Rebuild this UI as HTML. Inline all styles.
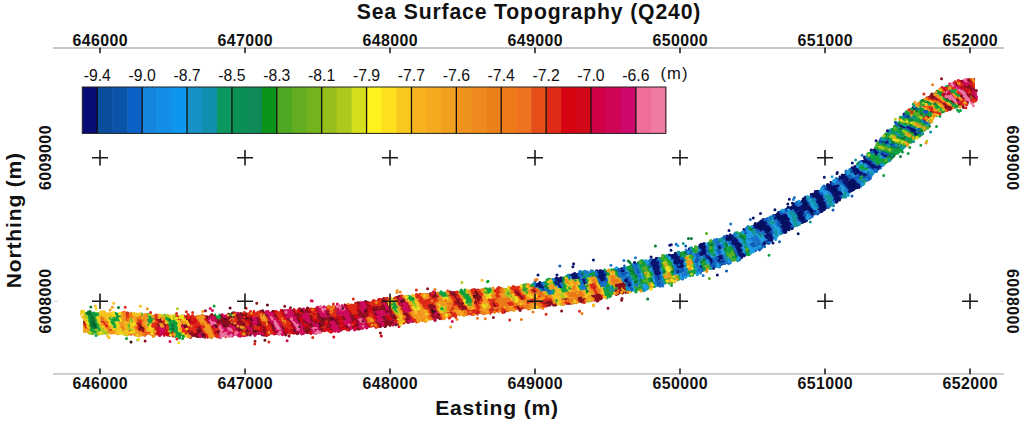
<!DOCTYPE html>
<html><head><meta charset="utf-8"><style>
html,body{margin:0;padding:0;background:#fff;width:1024px;height:428px;overflow:hidden}
svg{display:block}
text{font-family:"Liberation Sans", sans-serif}
</style></head><body>
<svg width="1024" height="428" viewBox="0 0 1024 428" font-family='"Liberation Sans", sans-serif' fill="#111">
<rect width="1024" height="428" fill="#fff"/>
<clipPath id="bc"><polygon points="83,312.3 100,312.3 130,313.3 160,315.8 190,316.3 220,315.3 250,312.3 280,311.3 300,309.3 340,305.9 360,303.3 400,297.3 430,292.8 460,290.8 490,289.3 520,286.8 550,280.3 580,272.3 600,271.3 620,268.3 640,262.3 660,257.3 680,252.3 700,246.3 720,238.3 740,232.3 760,221.3 780,211.8 800,201.3 820,189.8 840,177.3 860,163.3 880,142.3 900,119.3 920,100.3 928,96.3 935,92.3 945,87.3 957,81.3 968,78.3 975,78.3 975,98.7 968,102.7 957,107.7 945,111.7 935,114.7 928,122.7 920,135.7 900,151.7 880,168.7 860,186.7 840,199.7 820,211.7 800,223.2 780,234.7 760,248.7 740,258.7 720,265.7 700,272.7 680,278.7 660,286.2 640,290.7 620,292.7 600,299.2 580,302.7 550,304.7 520,309.7 490,312.7 460,315.2 430,320.2 400,323.7 360,328.7 340,330.4 300,333.2 280,334.2 250,334.7 220,336.7 190,336.7 160,334.7 130,334.7 100,333.7 83,332.7"/></clipPath>
<clipPath id="bc2"><rect x="80.5" y="60" width="897.5" height="300"/></clipPath>
<g clip-path="url(#bc)" fill="none" stroke-width="2.3">
<path d="M697.7 242.3L701.8 250.8M701.8 250.8L704.0 255.3M699.1 241.8L703.3 250.2M703.3 250.2L705.5 254.7M700.5 241.2L704.7 249.7M701.9 240.7L706.2 249.1M725.2 232.2L729.1 241.0M726.7 231.8L730.6 240.6M728.1 231.4L732.1 240.1M732.1 240.1L734.3 244.7M736.5 249.2L738.8 253.7M733.5 239.7L735.7 244.2M735.7 244.2L738.0 248.6M738.0 248.6L740.3 253.0M734.9 239.2L737.2 243.6M737.2 243.6L739.5 248.0M739.5 248.0L741.9 252.3M738.6 243.1L741.0 247.4M752.0 221.2L757.1 228.5M753.4 220.5L758.5 227.7M754.8 219.9L759.9 227.0M759.9 227.0L762.6 230.8M756.2 219.3L761.3 226.3M761.3 226.3L764.0 230.0M766.7 233.7L769.4 237.3M757.6 218.6L762.7 225.6M762.7 225.6L765.4 229.2M765.4 229.2L768.0 232.9M759.1 218.0L764.1 224.9M764.1 224.9L766.8 228.5M766.8 228.5L769.4 232.0M765.5 224.1L768.2 227.7M768.2 227.7L770.8 231.2M781.4 229.6L785.8 235.7M782.7 228.7L787.1 234.9M772.5 211.9L777.0 218.1M777.0 218.1L779.4 221.4M781.7 224.7L784.1 227.9M784.1 227.9L788.4 234.1M774.0 211.1L778.4 217.3M778.4 217.3L780.8 220.6M780.8 220.6L783.1 223.9M783.1 223.9L785.4 227.1M785.4 227.1L789.8 233.2M775.5 210.4L779.8 216.5M779.8 216.5L782.2 219.8M782.2 219.8L784.5 223.1M784.5 223.1L786.8 226.3M786.8 226.3L791.1 232.4M781.3 215.8L783.6 219.0M783.6 219.0L785.9 222.3M785.9 222.3L788.2 225.5M788.2 225.5L792.4 231.6M782.7 215.0L785.0 218.3M785.0 218.3L787.3 221.5M787.3 221.5L789.5 224.8M784.1 214.2L786.4 217.5M786.4 217.5L788.7 220.7M785.6 205.1L789.8 211.2M787.0 204.4L791.2 210.4M788.4 203.7L792.6 209.7M797.1 216.1L799.3 219.2M789.8 203.0L794.0 208.9M798.5 215.3L800.7 218.4M800.7 218.4L804.9 224.4M797.6 211.3L799.8 214.5M799.8 214.5L802.1 217.6M802.1 217.6L806.3 223.5M799.0 210.6L801.2 213.7M802.3 204.3L804.6 207.4M804.6 207.4L806.8 210.5M799.5 197.7L803.7 203.5M803.7 203.5L806.0 206.6M806.0 206.6L808.2 209.7M808.2 209.7L810.4 212.8M800.9 196.9L805.1 202.7M805.1 202.7L807.4 205.8M807.4 205.8L809.6 208.9M809.6 208.9L811.8 212.0M802.3 196.1L806.5 201.9M806.5 201.9L808.7 205.0M818.8 208.0L823.0 213.7M809.2 192.2L813.4 198.0M817.9 204.1L820.2 207.2M820.2 207.2L824.4 212.9M810.6 191.4L814.8 197.2M817.0 200.2L819.3 203.3M819.3 203.3L821.5 206.4M821.5 206.4L825.8 212.1M811.9 190.6L816.2 196.4M816.2 196.4L818.4 199.4M818.4 199.4L820.7 202.5M820.7 202.5L822.9 205.5M822.9 205.5L827.2 211.2M813.3 189.9L817.5 195.6M817.5 195.6L819.8 198.6M819.8 198.6L822.0 201.7M822.0 201.7L824.3 204.7M818.9 194.8L821.2 197.8M821.2 197.8L823.4 200.8M833.9 198.9L838.3 204.5M835.3 198.0L839.7 203.7M825.4 182.5L829.7 188.1M829.7 188.1L832.1 191.1M832.1 191.1L834.4 194.2M834.4 194.2L836.7 197.2M836.7 197.2L841.0 202.8M826.8 181.6L831.1 187.3M831.1 187.3L833.4 190.3M833.4 190.3L835.7 193.3M835.7 193.3L838.1 196.3M828.1 180.8L832.4 186.5M832.4 186.5L834.8 189.5M834.8 189.5L837.1 192.5M837.1 192.5L839.4 195.5M833.8 185.6L836.1 188.6M836.1 188.6L838.5 191.6M838.5 191.6L840.8 194.6M837.2 175.0L841.7 180.5M838.5 174.1L843.0 179.6M839.8 173.2L844.4 178.7M844.4 178.7L846.8 181.6M846.8 181.6L849.2 184.6M849.2 184.6L851.6 187.5M851.6 187.5L856.2 193.0M841.1 172.3L845.7 177.8M848.1 180.7L850.5 183.7M850.5 183.7L853.0 186.6M853.0 186.6L857.6 192.1M849.4 179.9L851.9 182.8M851.9 182.8L854.4 185.7M854.4 185.7L859.0 191.1M850.7 179.0L853.2 181.9M853.2 181.9L855.8 184.7M855.8 184.7L860.6 190.0M855.4 171.1L858.2 173.5M851.1 165.8L856.5 170.3M856.5 170.3L859.4 172.6M852.1 165.0L857.7 169.4" stroke="#061060"/>
<path d="M52.7 320.1L54.9 324.3M54.3 320.1L56.5 324.3M71.3 316.2L73.5 320.4M73.5 320.4L75.7 324.6M75.1 320.4L77.3 324.6M70.4 308.5L74.5 316.3M72.0 308.5L76.1 316.3M73.6 308.6L77.7 316.3M89.5 320.6L91.7 324.8M91.1 320.7L93.3 324.9M92.7 320.7L94.9 325.0" stroke="#06562c"/>
<path d="M533.4 279.7L539.6 287.3M535.0 279.3L541.2 287.0M541.2 287.0L544.6 291.1M536.6 278.9L542.8 286.6M542.8 286.6L546.2 290.8M557.2 283.5L560.4 288.1M552.7 274.8L558.7 283.1M558.7 283.1L562.0 287.8M554.4 274.3L560.3 282.8M555.9 273.9L561.9 282.4M557.5 273.4L563.5 282.0M567.1 270.5L573.1 279.9M568.8 269.9L574.7 279.5M570.5 269.4L576.4 279.2M572.3 268.9L578.1 278.9M574.1 268.5L579.8 278.7M581.5 278.4L584.3 284.1M583.2 278.2L586.0 283.9M595.2 266.8L599.5 276.8M599.5 276.8L601.9 281.9M596.8 266.8L601.0 276.6M601.0 276.6L603.5 281.6M598.3 266.8L602.6 276.4M602.6 276.4L605.0 281.3M599.8 266.7L604.2 276.2M604.2 276.2L606.6 281.0M601.4 266.6L605.8 275.9M618.5 263.9L622.1 272.5M620.2 263.4L623.7 272.1M627.5 281.6L629.4 286.4M629.1 281.3L630.9 286.2M633.1 259.2L636.4 268.9M648.1 255.2L651.7 265.1M651.7 265.1L653.7 270.4M653.7 270.4L655.7 275.6M649.6 254.9L653.2 264.7M653.2 264.7L655.2 270.0M655.2 270.0L657.3 275.2M657.3 275.2L659.3 280.4M651.0 254.5L654.7 264.4M654.7 264.4L656.8 269.6M656.8 269.6L658.8 274.8M652.5 254.2L656.2 264.0M656.2 264.0L658.3 269.2M658.3 269.2L660.4 274.4M653.9 253.9L657.7 263.6M657.7 263.6L659.8 268.8M655.4 253.6L659.2 263.3M667.5 251.0L671.5 260.0M669.1 250.6L673.0 259.6M670.6 250.2L674.6 259.1M674.6 259.1L676.7 263.9M676.7 263.9L678.7 268.6M672.2 249.8L676.1 258.7M676.1 258.7L678.2 263.4M678.2 263.4L680.3 268.1M673.8 249.4L677.7 258.2M677.7 258.2L679.7 262.9M679.7 262.9L681.8 267.6M679.2 257.8L681.3 262.5M681.3 262.5L683.3 267.2M680.8 257.3L682.8 262.0M686.2 245.8L690.0 254.6M687.7 245.4L691.5 254.1M698.9 251.8L701.1 256.4M700.4 251.3L702.6 255.8M705.5 254.7L707.8 259.3M710.1 263.8L714.4 272.2M704.7 249.7L707.0 254.2M707.0 254.2L709.3 258.7M709.3 258.7L711.6 263.2M711.6 263.2L715.9 271.7M710.8 258.1L713.1 262.7M703.4 240.1L707.7 248.5M716.8 255.9L719.1 260.6M718.3 255.4L720.6 260.0M719.8 254.9L722.0 259.5M721.3 254.4L723.5 259.0M718.3 244.5L720.6 249.2M723.6 232.6L727.6 241.5M730.6 240.6L732.8 245.2M734.3 244.7L736.5 249.2M738.8 253.7L743.1 261.9M729.4 231.1L733.5 239.7M740.3 253.0L744.8 261.1M741.9 252.3L746.5 260.3M736.3 238.7L738.6 243.1M740.1 242.5L742.5 246.7M740.9 226.9L745.9 234.3M742.3 226.2L747.3 233.6M750.6 221.8L755.7 229.2M763.9 240.8L769.0 247.9M758.5 227.7L761.2 231.6M763.9 235.3L766.6 239.1M765.3 234.5L768.0 238.2M768.0 238.2L773.1 245.0M764.0 230.0L766.7 233.7M769.4 237.3L774.4 244.1M768.0 232.9L770.7 236.4M770.7 236.4L775.6 243.1M769.4 232.0L772.0 235.6M760.6 217.4L765.5 224.1M762.1 216.7L767.0 223.4M767.0 223.4L769.6 226.9M769.6 226.9L772.1 230.4M780.0 230.4L784.5 236.6M780.3 225.5L782.7 228.7M779.4 221.4L781.7 224.7M776.9 209.6L781.3 215.8M789.5 224.8L793.8 230.9M788.7 220.7L790.9 224.0M785.5 213.5L787.8 216.7M787.8 216.7L790.1 220.0M784.1 205.9L788.4 212.0M799.3 219.2L803.5 225.2M794.0 208.9L796.2 212.1M796.2 212.1L798.5 215.3M791.2 202.2L795.4 208.2M795.4 208.2L797.6 211.3M792.6 201.5L796.8 207.4M796.8 207.4L799.0 210.6M801.2 213.7L803.5 216.8M803.5 216.8L807.7 222.7M798.2 206.6L800.4 209.8M800.4 209.8L802.6 212.9M799.6 205.9L801.8 209.0M801.8 209.0L804.0 212.1M801.0 205.1L803.2 208.2M803.2 208.2L805.4 211.3M810.4 212.8L814.6 218.6M811.8 212.0L816.0 217.8M808.7 205.0L811.0 208.1M811.0 208.1L813.2 211.2M817.4 208.8L821.6 214.6M815.7 201.0L817.9 204.1M814.8 197.2L817.0 200.2M824.3 204.7L828.6 210.4M814.6 189.1L818.9 194.8M823.4 200.8L825.7 203.9M820.2 193.9L822.5 197.0M822.5 197.0L824.8 200.0M832.6 199.7L836.9 205.4M822.7 184.1L827.0 189.8M824.1 183.3L828.4 189.0M828.4 189.0L830.7 192.0M830.7 192.0L833.0 195.0M833.0 195.0L835.3 198.0M838.1 196.3L842.4 202.0M835.1 184.8L837.5 187.8M839.8 190.7L842.2 193.7M836.0 175.8L840.4 181.4M841.7 180.5L844.1 183.4M844.1 183.4L846.5 186.4M846.5 186.4L849.0 189.3M849.0 189.3L853.5 194.8M843.0 179.6L845.5 182.5M845.5 182.5L847.9 185.5M847.9 185.5L850.3 188.4M850.3 188.4L854.9 193.9M845.7 177.8L848.1 180.7M842.3 171.5L847.0 176.9M847.0 176.9L849.4 179.9M852.0 178.1L854.6 180.9M854.6 180.9L857.2 183.7M857.2 183.7L862.1 188.8M853.0 172.8L855.8 175.4M849.0 167.2L854.2 172.0M854.2 172.0L857.0 174.5M850.0 166.5L855.4 171.1M858.2 173.5L861.1 175.9M859.4 172.6L862.4 174.8M857.7 169.4L860.6 171.6M860.6 171.6L863.6 173.7M863.6 173.7L866.7 175.8M853.2 164.3L858.8 168.4M864.9 172.6L867.9 174.6M858.2 160.1L864.2 163.5M867.5 165.2L870.8 167.0M870.8 167.0L874.1 168.7M859.2 159.2L865.3 162.4M865.3 162.4L868.6 164.1M868.6 164.1L872.0 165.8M872.0 165.8L875.3 167.6M875.3 167.6L881.7 170.9M860.1 158.2L866.4 161.3M866.4 161.3L869.7 163.0M869.7 163.0L873.1 164.7M873.1 164.7L876.6 166.4M876.6 166.4L883.1 169.8M861.1 157.2L867.4 160.2M867.4 160.2L870.9 161.9M870.9 161.9L874.3 163.6M877.8 165.3L884.4 168.6M862.0 156.2L868.5 159.2M867.7 150.0L874.8 152.7M874.8 152.7L878.6 154.1M882.5 155.6L886.5 157.2M868.6 149.0L875.8 151.6M875.8 151.6L879.7 153.0M883.7 154.5L887.7 156.0M869.5 148.0L876.8 150.5M876.3 140.2L884.2 142.6M877.2 139.0L885.3 141.5M885.3 141.5L889.7 142.9M899.3 126.4L904.4 128.3M909.7 130.4L914.9 132.6M890.9 122.1L900.5 125.2M900.5 125.2L905.6 127.2M905.6 127.2L910.9 129.4M910.9 129.4L916.2 131.6M906.8 126.2L912.1 128.3M912.1 128.3L917.4 130.5M898.9 113.5L908.7 117.6M900.2 112.3L909.9 116.6" stroke="#0a1470"/>
<path d="M46.4 308.2L50.5 315.9M50.5 315.9L52.7 320.1M54.9 324.3L57.1 328.4M52.1 316.0L54.3 320.1M56.5 324.3L58.7 328.4M53.7 316.0L55.9 320.1M55.9 320.1L58.1 324.3M69.7 316.2L71.9 320.4M71.9 320.4L74.1 324.5M68.8 308.5L72.9 316.3M72.9 316.3L75.1 320.4M74.5 316.3L76.7 320.4M76.7 320.4L78.9 324.6M90.1 324.8L92.2 329.1M91.7 324.8L93.8 329.1M84.6 308.7L88.9 316.5M88.9 316.5L91.1 320.7M93.3 324.9L95.5 329.2M86.2 308.7L90.5 316.5M90.5 316.5L92.7 320.7M94.9 325.0L97.1 329.3M87.8 308.7L92.1 316.5M92.1 316.5L94.3 320.7M94.3 320.7L96.5 325.0M89.4 308.7L93.7 316.5M93.7 316.5L95.9 320.8M115.1 309.1L119.3 317.2M116.7 309.1L120.9 317.3M169.9 327.6L171.9 331.6M171.5 327.7L173.5 331.7M171.2 323.8L173.1 327.8M173.1 327.8L175.1 331.8M172.7 323.8L174.7 327.8M546.2 290.8L549.5 295.1M546.0 286.0L549.3 290.2M549.5 275.7L555.6 283.8M561.9 282.4L565.1 287.2M584.3 284.1L587.1 289.7M579.7 267.5L584.9 278.1M586.6 277.9L589.2 283.5M588.9 266.9L593.2 277.4M598.8 282.4L601.3 287.6M606.0 286.5L608.6 291.2M606.6 281.0L609.1 285.7M603.0 266.5L607.4 275.6M612.1 285.0L614.5 289.5M613.3 265.1L617.2 273.7M617.2 273.7L619.3 278.2M630.1 270.5L631.9 275.4M633.8 280.5L635.6 285.5M631.7 270.0L633.5 275.1M635.3 280.2L637.2 285.3M630.0 260.2L633.3 269.6M633.3 269.6L635.1 274.7M636.9 279.9L638.7 285.0M640.0 279.2L641.9 284.5M642.0 256.7L645.6 266.6M651.0 276.8L652.9 282.0M648.7 265.8L650.6 271.1M660.7 262.9L662.9 268.0M672.1 265.3L674.2 270.0M679.3 273.8L683.2 282.6M676.9 248.5L680.8 257.3M684.4 261.6L686.4 266.2M694.5 269.1L698.4 277.8M691.5 254.1L693.5 258.8M702.3 266.5L706.4 275.1M707.7 248.5L710.0 253.1M723.6 248.1L725.8 252.8M724.5 242.4L726.7 247.1M726.1 241.9L728.2 246.6M731.3 245.7L733.4 250.3M733.4 250.3L735.6 254.9M735.6 254.9L739.7 263.5M745.0 250.9L749.8 258.6M734.5 229.6L739.0 237.6M745.5 245.3L748.1 249.3M748.1 249.3L753.0 256.8M741.8 236.4L744.3 240.5M744.3 240.5L746.9 244.5M743.1 235.8L745.7 239.8M746.4 223.9L751.5 231.4M747.8 223.2L752.9 230.6M758.4 233.1L761.1 236.9M873.7 153.8L877.5 155.3M886.5 157.2L894.1 160.3M887.7 156.0L895.5 159.1M889.0 154.9L896.9 157.9M870.4 147.0L877.9 149.4M877.9 149.4L881.9 150.8M881.9 150.8L886.0 152.2M886.0 152.2L890.2 153.7M890.2 153.7L898.3 156.7M883.1 143.8L887.5 145.1M891.8 146.6L896.3 148.2M897.5 147.1L906.3 150.5M890.8 141.7L895.3 143.3M895.3 143.3L900.0 144.9M879.1 136.7L887.4 139.1M887.4 139.1L891.9 140.6M896.4 136.0L901.2 137.8M901.2 137.8L906.1 139.7M906.1 139.7L915.6 143.9M892.7 133.3L897.5 134.9M902.4 136.7L907.4 138.7M907.4 138.7L916.9 143.0M898.6 133.8L903.6 135.7M894.8 131.0L899.8 132.7M908.4 131.4L913.7 133.7M913.7 133.7L923.6 137.9M914.9 132.6L924.9 136.7M892.0 120.8L901.6 124.1M917.4 130.5L927.4 134.2M907.5 118.7L912.8 120.9M919.2 121.8L924.4 123.5M901.4 111.2L911.2 115.6M911.2 115.6L916.4 117.7M921.5 119.5L926.4 121.1M926.9 113.9L931.2 115.3M931.2 115.3L938.6 118.1M918.9 109.4L923.6 111.2M920.3 108.4L924.8 110.1M912.8 103.7L921.6 107.3M932.4 103.7L936.3 105.9M933.8 102.7L937.6 105.1M932.4 89.6L940.1 94.3M947.8 100.8L951.6 104.3M934.1 88.5L941.6 93.6" stroke="#0b7a34"/>
<path d="M531.7 280.0L538.0 287.6M539.6 287.3L543.0 291.4M538.2 278.6L544.4 286.3M544.4 286.3L547.7 290.5M551.1 275.3L557.2 283.5M579.8 278.7L582.7 284.3M584.9 278.1L587.6 283.7M601.9 281.9L604.4 286.9M616.8 264.3L620.5 272.9M620.5 272.9L622.5 277.5M622.1 272.5L624.0 277.2M624.0 277.2L626.0 281.9M626.0 281.9L627.9 286.6M623.7 272.1L625.6 276.8M625.6 276.8L627.5 281.6M621.9 262.9L625.3 271.7M625.3 271.7L627.2 276.5M627.2 276.5L629.1 281.3M628.8 276.1L630.6 281.0M630.6 281.0L632.5 286.0M636.4 268.9L638.2 274.0M634.6 258.8L638.0 268.5M638.0 268.5L639.8 273.7M646.6 255.6L650.2 265.5M650.2 265.5L652.2 270.7M654.1 276.0L656.1 281.3M656.1 281.3L659.9 291.1M655.7 275.6L657.7 280.9M657.7 280.9L661.6 290.6M659.3 280.4L663.2 290.1M658.8 274.8L660.9 280.0M659.8 268.8L661.9 273.9M659.2 263.3L661.4 268.4M675.7 269.6L677.8 274.3M673.0 259.6L675.1 264.3M675.1 264.3L677.2 269.1M677.2 269.1L679.3 273.8M678.7 268.6L680.8 273.3M680.3 268.1L682.3 272.8M681.8 267.6L683.8 272.3M683.3 267.2L685.4 271.8M682.8 262.0L684.8 266.7M695.0 258.3L697.1 263.0M694.5 253.2L696.6 257.9M696.6 257.9L698.7 262.5M700.8 267.0L704.8 275.6M696.0 252.8L698.1 257.4M697.4 252.3L699.6 256.9M696.3 242.7L700.4 251.3M704.0 255.3L706.3 259.8M707.8 259.3L710.1 263.8M708.5 253.6L710.8 258.1M713.1 262.7L717.4 271.2M712.3 257.6L714.6 262.1M715.3 256.5L717.6 261.1M719.1 260.6L723.3 269.2M720.6 260.0L724.8 268.8M717.5 250.2L719.8 254.9M722.0 259.5L726.2 268.3M716.8 245.0L719.1 249.7M719.1 249.7L721.3 254.4M723.5 259.0L727.7 267.8M714.1 235.8L718.3 244.5M725.0 258.5L729.1 267.3M719.9 244.0L722.1 248.6M722.1 233.1L726.1 241.9M729.1 241.0L731.3 245.7M734.9 249.8L737.2 254.3M737.2 254.3L741.4 262.7M730.7 230.8L734.9 239.2M741.0 247.4L743.5 251.6M737.7 238.2L740.1 242.5M749.8 243.0L752.5 247.0M751.2 242.3L753.9 246.3M753.9 246.3L759.0 253.7M752.7 241.6L755.3 245.5M755.3 245.5L760.4 253.0M743.7 225.4L748.7 232.8M756.8 244.8L761.9 252.2M758.2 244.0L763.3 251.4M759.6 243.2L764.8 250.6M761.1 242.4L766.2 249.7M762.5 241.6L767.6 248.8M755.7 229.2L758.4 233.1M757.1 228.5L759.8 232.3M765.3 239.9L770.4 247.0M766.6 239.1L771.7 246.0M762.6 230.8L765.3 234.5M772.0 235.6L776.9 242.1M770.8 231.2L773.4 234.7M763.6 216.1L768.4 222.6M765.0 215.4L769.8 221.9M776.6 222.9L779.0 226.3M779.0 226.3L781.4 229.6M771.0 212.6L775.6 218.8M775.6 218.8L778.0 222.1M778.0 222.1L780.3 225.5M778.4 208.9L782.7 215.0M790.9 224.0L795.2 230.1M782.7 206.6L786.9 212.7M795.7 216.9L797.9 220.0M792.6 209.7L794.8 212.9M794.8 212.9L797.1 216.1M794.0 200.7L798.2 206.6M802.6 212.9L804.9 216.0M798.2 198.5L802.3 204.3M806.8 210.5L809.0 213.6M809.0 213.6L813.2 219.4M813.2 211.2L817.4 217.0M803.7 195.3L807.9 201.1M807.9 201.1L810.1 204.2M812.4 207.3L814.6 210.4M814.6 210.4L818.8 216.2M816.0 209.6L820.2 215.4M807.8 193.0L812.0 198.8M816.5 204.9L818.8 208.0M825.7 203.9L830.0 209.5M816.0 188.3L820.2 193.9M821.6 193.1L823.9 196.2M821.4 185.0L825.7 190.6M827.0 189.8L829.3 192.8M831.6 195.8L833.9 198.9M839.4 195.5L843.8 201.1M829.4 180.0L833.8 185.6M837.5 187.8L839.8 190.7M836.4 183.9L838.8 186.9M837.8 183.1L840.1 186.0M834.7 176.7L839.1 182.2M840.4 181.4L842.8 184.3M842.8 184.3L845.2 187.2M845.2 187.2L847.6 190.2M847.6 190.2L852.1 195.7M843.5 170.7L848.2 176.1M848.2 176.1L850.7 179.0M849.4 175.3L852.0 178.1M850.6 174.5L853.3 177.2M853.3 177.2L855.9 180.0M855.9 180.0L858.6 182.6M858.6 182.6L863.7 187.5M854.5 176.3L857.3 179.0M857.0 174.5L859.9 176.9M862.4 174.8L865.4 177.0M865.4 177.0L871.0 180.9M866.7 175.8L872.4 179.6M867.9 174.6L873.7 178.2M869.6 168.1L872.9 169.9M864.2 163.5L867.5 165.2M874.1 168.7L880.4 172.1M874.3 163.6L877.8 165.3M868.5 159.2L872.0 160.8M879.0 164.1L885.8 167.4M879.7 153.0L883.7 154.5M876.8 150.5L880.8 151.9M880.8 151.9L884.9 153.4M884.9 153.4L889.0 154.9M884.2 142.6L888.6 144.0M888.6 144.0L893.0 145.5M893.0 145.5L897.5 147.1M889.7 142.9L894.2 144.4M886.3 140.3L890.8 141.7M884.9 129.5L893.7 132.1M889.9 123.3L899.3 126.4M904.4 128.3L909.7 130.4M908.0 125.1L913.3 127.3M913.3 127.3L918.7 129.4M897.7 114.7L907.5 118.7M924.4 123.5L933.4 125.9M920.4 120.7L925.4 122.3M925.4 122.3L934.2 124.6M908.2 106.4L917.6 110.5M922.4 112.3L926.9 113.9M909.7 105.5L918.9 109.4M923.6 111.2L928.0 112.7M924.8 110.1L929.1 111.6" stroke="#0f5cb8"/>
<path d="M57.1 328.4L61.2 336.2M48.0 308.2L52.1 316.0M58.7 328.4L62.8 336.2M58.1 324.3L60.3 328.5M60.3 328.5L64.4 336.2M55.3 316.0L57.5 320.2M57.5 320.2L59.7 324.3M61.9 328.5L66.0 336.3M68.1 316.2L70.3 320.4M70.3 320.4L72.5 324.5M72.5 324.5L74.7 328.7M74.1 324.5L76.3 328.7M67.2 308.5L71.3 316.2M75.7 324.6L77.9 328.7M77.3 324.6L79.5 328.7M78.9 324.6L81.1 328.8M76.1 316.3L78.3 320.5M75.2 308.6L79.3 316.4M90.7 329.0L94.7 337.1M87.9 320.6L90.1 324.8M92.2 329.1L96.3 337.2M83.1 308.7L87.3 316.4M87.3 316.4L89.5 320.6M96.5 325.0L98.7 329.3M95.9 320.8L98.1 325.1M98.1 325.1L100.3 329.4M91.0 308.7L95.3 316.5M92.7 308.6L96.9 316.6M94.3 308.6L98.5 316.6M110.3 321.2L112.5 325.6M109.7 316.9L111.9 321.3M111.9 321.3L114.1 325.6M111.3 317.0L113.5 321.3M113.5 321.3L115.7 325.7M112.9 317.0L115.1 321.4M114.5 317.1L116.7 321.4M116.1 317.1L118.3 321.5M113.5 309.0L117.7 317.2M117.7 317.2L119.9 321.5M128.5 326.1L130.7 330.4M127.9 321.8L130.1 326.1M130.5 317.7L132.7 322.0M146.8 318.7L148.8 322.8M148.8 322.8L150.8 326.8M148.4 318.8L150.4 322.9M146.3 311.1L150.0 318.9M150.0 318.9L152.0 323.0M147.9 311.3L151.6 319.0M151.6 319.0L153.6 323.0M168.3 327.5L170.3 331.5M168.0 323.7L169.9 327.6M167.6 319.8L169.6 323.7M169.6 323.7L171.5 327.7M173.5 331.7L177.2 339.3M169.2 319.8L171.2 323.8M175.1 331.8L178.8 339.4M170.8 319.9L172.7 323.8M174.7 327.8L176.7 331.9M176.7 331.9L180.4 339.6M172.3 319.9L174.3 323.9M174.3 323.9L176.3 327.9M176.3 327.9L178.3 332.0M178.3 332.0L182.1 339.7M173.9 320.0L175.9 323.9M175.9 323.9L177.9 328.0M179.9 332.1L183.8 339.8M213.4 311.8L217.9 319.6M214.9 311.7L219.5 319.5M216.4 311.7L221.0 319.4M217.9 311.6L222.6 319.3M228.4 310.6L233.5 318.3M240.7 326.5L243.4 330.7M393.6 308.8L397.2 313.5M391.7 303.8L395.2 308.5M395.2 308.5L398.8 313.3M393.2 303.6L396.8 308.3M394.8 303.3L398.4 308.1M403.8 292.0L410.6 301.1M405.4 291.8L412.2 300.8M412.2 300.8L415.8 305.7M407.0 291.5L413.7 300.6M408.5 291.3L415.3 300.4M436.3 287.8L442.7 297.2M438.0 287.8L444.3 297.1M439.6 287.7L445.9 296.9M441.3 287.6L447.6 296.8M456.3 286.8L462.3 295.6M465.4 300.2L468.4 304.9M458.0 286.7L464.0 295.5M464.0 295.5L467.0 300.1M467.0 300.1L470.0 304.7M459.7 286.6L465.6 295.4M465.6 295.4L468.6 300.0M468.6 300.0L471.5 304.6M461.5 286.5L467.2 295.3M467.2 295.3L470.2 299.9M463.2 286.4L468.8 295.2M468.8 295.2L471.8 299.8M482.7 285.6L488.0 294.1M484.3 285.5L489.6 294.0M485.8 285.4L491.2 293.8M487.4 285.3L492.8 293.7M519.7 282.6L525.5 290.2M521.1 282.3L527.1 289.9M541.5 277.8L547.6 285.6M543.1 277.4L549.2 285.3M552.5 289.6L555.7 294.1M547.9 276.2L554.0 284.2M554.0 284.2L557.2 288.7M560.4 288.1L563.6 292.9M562.0 287.8L565.2 292.7M563.5 287.5L566.8 292.5M565.1 287.2L568.4 292.2M563.5 282.0L566.7 286.9M560.7 272.4L566.6 281.3M563.9 271.4L569.8 280.6M577.8 284.9L580.9 290.5M578.1 278.9L581.1 284.5M585.5 289.9L588.3 295.4M587.1 289.7L589.8 295.2M590.6 266.9L594.8 277.3M592.2 266.9L596.4 277.2M596.4 277.2L598.8 282.4M603.9 292.5L609.1 301.3M605.5 292.1L610.6 300.8M604.4 286.9L607.0 291.7M607.0 291.7L612.0 300.3M608.6 291.2L613.4 299.8M624.8 287.1L628.5 296.0M625.1 261.8L628.5 270.9M634.0 285.8L637.6 295.3M626.8 261.3L630.1 270.5M631.9 275.4L633.8 280.5M628.4 260.8L631.7 270.0M633.5 275.1L635.3 280.2M635.1 274.7L636.9 279.9M640.3 284.7L643.8 294.5M641.6 278.9L643.4 284.1M643.2 278.6L645.0 283.8M637.6 257.9L641.0 267.7M641.0 267.7L642.9 273.0M642.9 273.0L644.7 278.2M644.7 278.2L646.6 283.5M646.6 283.5L650.2 293.3M639.0 257.5L642.5 267.3M640.5 257.1L644.0 267.0M647.9 277.5L649.8 282.8M649.4 277.1L651.4 282.4M647.1 266.2L649.1 271.5M652.9 282.0L656.6 291.9M650.6 271.1L652.6 276.4M661.9 273.9L664.1 279.0M664.1 279.0L668.1 288.5M662.9 268.0L665.0 273.0M658.3 253.0L662.2 262.5M659.7 252.7L663.8 262.1M661.2 252.4L665.3 261.7M662.7 252.1L666.8 261.3M671.2 271.0L673.3 275.9M664.3 251.7L668.4 260.9M669.9 260.4L672.1 265.3M677.8 274.3L681.7 283.1M678.5 248.1L682.3 256.9M686.4 266.2L688.4 270.9M688.4 270.9L692.2 279.7M680.1 247.7L683.9 256.4M683.9 256.4L685.9 261.1M689.9 270.4L693.7 279.2M681.6 247.2L685.4 256.0M691.4 270.0L695.2 278.8M693.0 269.5L696.8 278.3M692.5 264.4L694.5 269.1M690.0 254.6L692.0 259.3M692.0 259.3L694.0 263.9M690.6 244.5L694.5 253.2M700.2 261.9L702.3 266.5M693.5 243.7L697.4 252.3M694.9 243.2L698.9 251.8M703.3 260.9L705.5 265.4M704.8 260.4L707.0 264.9M709.2 247.9L711.5 252.5M706.4 238.9L710.7 247.4M710.7 247.4L713.0 251.9M707.9 238.2L712.2 246.8M712.2 246.8L714.5 251.3M709.4 237.6L713.7 246.2M725.8 252.8L728.0 257.5M725.2 247.6L727.3 252.3M726.7 247.1L728.8 251.8M731.0 256.5L734.9 265.3M728.2 246.6L730.3 251.3M732.5 256.0L736.5 264.8M729.7 246.1L731.9 250.8M734.0 255.5L738.1 264.1M744.0 246.0L746.6 250.1M746.6 250.1L751.4 257.7M735.8 229.2L740.4 237.0M737.0 228.7L741.8 236.4M858.6 178.0L861.4 180.4M859.9 176.9L862.7 179.3M861.1 175.9L864.1 178.1M859.9 167.5L863.0 169.5M855.2 162.7L861.0 166.5M861.0 166.5L864.1 168.5M864.1 168.5L867.3 170.4M856.2 161.9L862.1 165.5M862.1 165.5L865.3 167.4M865.3 167.4L868.4 169.2M875.5 162.5L879.0 164.1M869.5 158.1L873.1 159.7M873.1 159.7L876.7 161.3M876.7 161.3L880.3 163.0M863.9 154.1L870.6 157.0M870.6 157.0L874.2 158.6M874.2 158.6L877.8 160.2M877.8 160.2L881.5 161.8M881.5 161.8L888.5 165.0M864.9 153.1L871.7 155.9M871.7 155.9L875.3 157.5M875.3 157.5L879.0 159.1M879.0 159.1L882.7 160.7M882.7 160.7L889.9 163.8M865.8 152.1L872.7 154.8M872.7 154.8L876.4 156.4M876.4 156.4L880.2 157.9M880.2 157.9L884.0 159.5M884.0 159.5L891.3 162.6M877.5 155.3L881.4 156.8M883.0 149.7L887.2 151.1M887.2 151.1L891.5 152.6M891.5 152.6L899.7 155.6M892.7 151.5L901.1 154.5M889.5 148.8L893.9 150.4M893.9 150.4L902.4 153.5M874.3 142.5L882.1 144.9M882.1 144.9L886.3 146.3M886.3 146.3L890.7 147.7M890.7 147.7L895.1 149.3M895.1 149.3L903.7 152.5M896.3 148.2L905.0 151.5M901.2 143.9L910.3 147.7M880.1 135.6L888.4 138.0M888.4 138.0L893.0 139.4M895.2 137.2L900.0 138.9M900.0 138.9L904.9 140.8M882.9 132.0L891.6 134.5M903.6 135.7L908.6 137.7M908.6 137.7L918.3 142.0M899.8 132.7L904.8 134.6M886.8 127.1L895.9 129.8M895.9 129.8L900.9 131.6M887.8 125.8L897.1 128.7M897.1 128.7L902.1 130.5M912.4 134.7L922.3 139.0M888.9 124.6L898.2 127.5M903.3 129.4L908.4 131.4M902.8 123.0L908.0 125.1M918.7 129.4L928.6 132.8M909.2 124.0L914.5 126.2M914.5 126.2L919.9 128.3M919.9 128.3L929.7 131.3M896.5 115.9L906.3 119.8M906.3 119.8L911.6 121.9M922.2 125.9L931.6 128.5M912.8 120.9L918.1 122.9M914.0 119.8L919.2 121.8M915.2 118.8L920.4 120.7M902.7 110.1L912.4 114.6M912.4 114.6L917.6 116.6M916.3 111.5L921.2 113.4M921.2 113.4L925.9 115.0M925.9 115.0L930.3 116.4M930.3 116.4L937.9 119.0M917.6 110.5L922.4 112.3M928.0 112.7L932.2 114.2M929.1 111.6L933.2 113.2M933.7 107.6L937.5 109.8M918.7 100.0L927.0 102.9M927.0 102.9L931.1 104.7M935.0 106.7L938.7 109.1M938.7 109.1L945.2 114.7M920.2 98.9L928.3 101.8M928.3 101.8L932.4 103.7M936.3 105.9L940.0 108.5M940.0 108.5L946.3 114.5M937.6 105.1L941.3 107.9M941.3 107.9L947.7 114.2M930.8 90.7L938.6 95.1M942.5 98.1L946.3 101.4M940.1 94.3L943.9 97.5M943.9 97.5L947.8 100.8M951.6 104.3L958.9 111.1M949.3 100.2L953.2 103.7M953.2 103.7L960.5 110.6M935.7 87.5L943.0 92.9M954.7 103.2L962.0 110.0M948.7 90.3L952.7 93.7M942.8 83.5L950.2 89.6M950.2 89.6L954.2 93.1M954.2 93.1L958.2 96.7M951.7 89.0L955.7 92.5M955.7 92.5L959.7 96.1M980.7 90.8L983.5 94.8M980.9 73.6L986.2 81.1M986.2 81.1L989.0 85.1M982.5 73.4L987.7 80.9M987.7 80.9L990.6 84.9M984.0 73.1L989.3 80.6M998.8 79.2L1001.6 83.2M1001.6 83.2L1004.4 87.2M1000.4 79.0L1003.2 83.0" stroke="#10a040"/>
<path d="M528.5 280.8L534.8 288.3M538.0 287.6L541.4 291.7M539.8 278.2L546.0 286.0M550.9 289.9L554.2 294.3M579.5 284.7L582.4 290.3M577.8 267.8L583.2 278.2M581.6 267.3L586.6 277.9M583.5 267.1L588.3 277.8M587.2 267.0L591.6 277.6M605.0 281.3L607.5 286.1M607.5 286.1L610.1 290.8M609.1 285.7L611.5 290.4M610.6 285.3L613.0 289.9M620.9 277.9L622.9 282.5M624.4 282.2L626.3 286.9M626.3 286.9L629.9 295.9M628.5 270.9L630.4 275.8M630.4 275.8L632.2 280.7M636.6 274.4L638.5 279.5M638.5 279.5L640.3 284.7M641.9 284.5L645.4 294.3M636.1 258.3L639.5 268.1M639.5 268.1L641.3 273.3M643.5 256.4L647.1 266.2M662.5 279.5L666.5 289.0M672.7 270.5L674.8 275.3M686.9 271.4L690.7 280.1M683.2 246.7L686.9 255.5M708.6 264.3L712.9 272.8M704.9 239.5L709.2 247.9M711.5 252.5L713.8 257.0M713.0 251.9L715.3 256.5M713.7 246.2L716.0 250.8M711.0 237.0L715.3 245.6M724.3 253.3L726.5 258.0M718.9 234.1L723.0 242.9M723.0 242.9L725.2 247.6M729.5 257.0L733.5 265.8M733.2 230.0L737.7 238.2M740.4 237.0L742.9 241.2M742.9 241.2L745.5 245.3M746.9 244.5L749.6 248.5M738.3 228.2L743.1 235.8M745.7 239.8L748.4 243.8M744.5 235.1L747.1 239.1M751.5 231.4L754.2 235.3M752.9 230.6L755.6 234.6M749.2 222.5L754.3 229.9M754.3 229.9L757.0 233.8M774.7 233.8L779.5 240.2M776.0 232.9L780.7 239.3M769.8 221.9L772.4 225.3M774.9 228.7L777.4 232.1M777.4 232.1L782.0 238.4M771.3 221.1L773.8 224.5M772.7 220.4L775.2 223.7M791.5 219.2L793.7 222.4M793.7 222.4L797.9 228.5M788.4 212.0L790.6 215.2M790.6 215.2L792.9 218.4M792.9 218.4L795.1 221.6M795.1 221.6L799.3 227.6M789.8 211.2L792.0 214.4M792.0 214.4L794.3 217.6M794.3 217.6L796.5 220.8M796.5 220.8L800.7 226.8M791.2 210.4L793.4 213.7M793.4 213.7L795.7 216.9M806.3 215.2L810.4 221.1M805.1 194.5L809.3 200.4M811.5 203.4L813.7 206.5M813.7 206.5L816.0 209.6M810.7 199.6L812.9 202.6M812.9 202.6L815.1 205.7M815.1 205.7L817.4 208.8M812.0 198.8L814.3 201.8M814.3 201.8L816.5 204.9M826.2 199.2L828.5 202.2M828.5 202.2L832.8 207.8M825.2 195.3L827.5 198.3M827.5 198.3L829.8 201.4M829.8 201.4L834.1 207.0M826.6 194.5L828.9 197.5M828.9 197.5L831.2 200.5M828.0 193.7L830.3 196.7M830.3 196.7L832.6 199.7M840.8 194.6L845.2 200.2M842.2 193.7L846.6 199.3M843.5 192.8L848.0 198.4M842.5 189.0L844.9 192.0M844.9 192.0L849.4 197.5M845.7 169.2L850.6 174.5M846.8 168.5L851.8 173.7M860.0 181.5L865.2 186.2M861.4 180.4L866.7 184.9M854.2 163.5L859.9 167.5M863.0 169.5L866.1 171.5M867.3 170.4L870.4 172.2M870.4 172.2L876.4 175.7M857.2 161.0L863.2 164.5M863.2 164.5L866.4 166.3M880.3 163.0L887.1 166.2M885.2 158.4L892.7 161.4M878.6 154.1L882.5 155.6M875.3 141.4L883.1 143.8M887.5 145.1L891.8 146.6M894.2 144.4L898.8 146.0M898.8 146.0L907.6 149.6M878.2 137.9L886.3 140.3M900.0 144.9L908.9 148.6M883.9 130.8L892.7 133.3M897.5 134.9L902.4 136.7M893.7 132.1L898.6 133.8M885.8 128.3L894.8 131.0M898.2 127.5L903.3 129.4M916.2 131.6L926.2 135.5M901.6 124.1L906.8 126.2M923.3 124.7L932.5 127.2M908.7 117.6L914.0 119.8M909.9 116.6L915.2 118.8M911.2 104.6L920.3 108.4" stroke="#11979c"/>
<path d="M530.1 280.4L536.4 288.0M547.7 290.5L551.0 294.8M549.3 290.2L552.6 294.6M555.6 283.8L558.8 288.4M560.3 282.8L563.5 287.5M559.1 272.9L565.1 281.7M565.5 270.9L571.4 280.2M581.1 284.5L584.0 290.1M582.7 284.3L585.5 289.9M575.9 268.1L581.5 278.4M585.3 267.0L590.0 277.7M593.7 266.9L597.9 277.0M597.9 277.0L600.3 282.2M600.3 282.2L602.9 287.2M603.5 281.6L606.0 286.5M605.8 275.9L608.2 280.7M615.1 264.7L618.9 273.3M618.9 273.3L620.9 277.9M622.5 277.5L624.4 282.2M627.9 286.6L631.4 295.8M629.4 286.4L632.9 295.7M630.9 286.2L634.5 295.6M626.9 271.3L628.8 276.1M631.5 259.7L634.8 269.2M634.8 269.2L636.6 274.4M638.2 274.0L640.0 279.2M639.8 273.7L641.6 278.9M645.1 256.0L648.7 265.8M654.5 281.7L658.2 291.5M652.2 270.7L654.1 276.0M660.9 280.0L664.9 289.6M656.8 253.3L660.7 262.9M674.2 270.0L676.3 274.8M673.6 264.8L675.7 269.6M680.8 273.3L684.7 282.1M682.3 272.8L686.2 281.6M683.8 272.3L687.6 281.1M675.4 249.0L679.2 257.8M685.4 271.8L689.1 280.6M682.3 256.9L684.4 261.6M684.7 246.3L688.5 255.0M695.6 263.4L697.6 268.1M697.6 268.1L701.6 276.7M697.1 263.0L699.2 267.6M699.2 267.6L703.2 276.2M698.1 257.4L700.2 261.9M699.6 256.9L701.7 261.4M702.6 255.8L704.8 260.4M706.2 249.1L708.5 253.6M714.6 262.1L718.9 270.7M713.8 257.0L716.1 261.6M717.6 261.1L721.9 269.7M716.0 250.8L718.3 255.4M715.3 245.6L717.5 250.2M712.5 236.4L716.8 245.0M720.6 249.2L722.8 253.8M722.8 253.8L725.0 258.5M715.7 235.2L719.9 244.0M726.5 258.0L730.5 266.9M721.4 243.4L723.6 248.1M732.8 245.2L734.9 249.8M732.0 230.4L736.3 238.7M748.4 243.8L751.0 247.8M751.0 247.8L756.1 255.2M739.6 227.6L744.5 235.1M752.5 247.0L757.5 254.5M750.0 237.6L752.7 241.6M751.4 236.8L754.1 240.8M754.1 240.8L756.8 244.8M752.8 236.1L755.5 240.1M755.5 240.1L758.2 244.0M754.2 235.3L756.9 239.3M756.9 239.3L759.6 243.2M755.6 234.6L758.3 238.5M758.3 238.5L761.1 242.4M759.8 232.3L762.5 236.1M761.2 231.6L763.9 235.3M772.1 230.4L774.7 233.8M768.4 222.6L771.0 226.1M771.0 226.1L773.5 229.5M766.5 214.7L771.3 221.1M778.7 231.2L783.3 237.5M775.2 223.7L777.6 227.1M769.5 213.3L774.1 219.6M774.1 219.6L776.6 222.9M781.3 207.4L785.5 213.5M797.9 220.0L802.1 226.0M804.9 216.0L809.0 221.9M795.4 200.0L799.6 205.9M804.0 212.1L806.3 215.2M796.8 199.2L801.0 205.1M805.4 211.3L807.7 214.4M810.1 204.2L812.4 207.3M813.4 198.0L815.7 201.0M824.8 200.0L827.1 203.0M817.3 187.5L821.6 193.1M829.3 192.8L831.6 195.8M830.7 179.2L835.1 184.8M838.8 186.9L841.2 189.9M839.1 182.2L841.5 185.2M846.3 191.1L850.8 196.6M857.3 179.0L860.0 181.5M847.9 167.8L853.0 172.8M855.8 175.4L858.6 178.0M861.8 170.6L864.9 172.6M866.1 171.5L869.2 173.4M866.4 166.3L869.6 168.1M872.9 169.9L879.0 173.3M881.4 156.8L885.2 158.4" stroke="#1a78cc"/>
<path d="M623.5 262.4L626.9 271.3M632.5 286.0L636.0 295.4M632.2 280.7L634.0 285.8M643.4 284.1L647.0 294.0M641.3 273.3L643.2 278.6M645.0 283.8L648.6 293.7M652.6 276.4L654.5 281.7M660.4 274.4L662.5 279.5M661.4 268.4L663.5 273.5M665.9 251.3L669.9 260.4M671.5 260.0L673.6 264.8M684.8 266.7L686.9 271.4M694.0 263.9L696.1 268.6M696.1 268.6L700.0 277.3M693.5 258.8L695.6 263.4M689.2 245.0L693.0 253.7M693.0 253.7L695.0 258.3M698.7 262.5L700.8 267.0M701.1 256.4L703.3 260.9M706.3 259.8L708.6 264.3M710.0 253.1L712.3 257.6M716.1 261.6L720.4 270.2M714.5 251.3L716.8 255.9M722.1 248.6L724.3 253.3M717.3 234.6L721.4 243.4M728.0 257.5L732.0 266.4M720.5 233.6L724.5 242.4M727.6 241.5L729.7 246.1M743.5 251.6L748.2 259.5M742.5 246.7L745.0 250.9M739.0 237.6L741.5 241.8M741.5 241.8L744.0 246.0M749.6 248.5L754.6 256.0M747.1 239.1L749.8 243.0M745.9 234.3L748.6 238.3M748.6 238.3L751.2 242.3M747.3 233.6L750.0 237.6M748.7 232.8L751.4 236.8M745.1 224.6L750.1 232.1M750.1 232.1L752.8 236.1M757.0 233.8L759.7 237.7M759.7 237.7L762.5 241.6M761.1 236.9L763.9 240.8M762.5 236.1L765.3 239.9M773.4 234.7L778.2 241.2M773.5 229.5L776.0 232.9M772.4 225.3L774.9 228.7M773.8 224.5L776.2 227.9M776.2 227.9L778.7 231.2M768.0 214.0L772.7 220.4M777.6 227.1L780.0 230.4M779.8 208.1L784.1 214.2M790.1 220.0L792.3 223.2M792.3 223.2L796.5 229.3M786.9 212.7L789.2 215.9M789.2 215.9L791.5 219.2M807.7 214.4L811.8 220.2M809.3 200.4L811.5 203.4M806.5 193.8L810.7 199.6M827.1 203.0L831.4 208.7M823.9 196.2L826.2 199.2M818.7 186.6L823.0 192.3M823.0 192.3L825.2 195.3M820.0 185.8L824.3 191.5M824.3 191.5L826.6 194.5M831.2 200.5L835.5 206.2M825.7 190.6L828.0 193.7M832.0 178.4L836.4 183.9M841.2 189.9L843.5 192.8M833.3 177.5L837.8 183.1M840.1 186.0L842.5 189.0M841.5 185.2L843.9 188.1M843.9 188.1L846.3 191.1M844.6 169.9L849.4 175.3M851.8 173.7L854.5 176.3M862.7 179.3L868.2 183.6M864.1 178.1L869.6 182.3M858.8 168.4L861.8 170.6M869.2 173.4L875.1 177.0M868.4 169.2L871.6 171.1M871.6 171.1L877.7 174.5M872.0 160.8L875.5 162.5M863.0 155.1L869.5 158.1M866.8 151.0L873.7 153.8" stroke="#1e9ee2"/>
<path d="M83.1 320.5L85.3 324.7M214.1 324.0L216.6 328.2M407.1 317.5L413.8 326.7M430.5 309.2L434.1 314.1M432.1 309.0L435.7 313.9" stroke="#3a1014"/>
<path d="M49.6 308.2L53.7 316.0M51.2 308.2L55.3 316.0M59.7 324.3L61.9 328.5M63.5 328.5L67.6 336.3M54.4 308.3L58.5 316.1M74.7 328.7L78.8 336.5M76.3 328.7L80.4 336.5M78.3 320.5L80.5 324.6M89.1 328.9L93.1 337.0M88.5 324.8L90.7 329.0M93.8 329.1L97.9 337.3M95.3 316.5L97.5 320.8M443.0 287.5L449.2 296.6M462.3 295.6L465.4 300.2M470.2 299.9L473.1 304.5M489.0 285.2L494.4 293.6M505.5 292.6L508.5 297.0M507.1 292.5L510.1 296.9M503.2 284.2L508.7 292.4M508.7 292.4L511.7 296.7M524.0 290.5L527.3 294.5M525.5 290.2L528.8 294.2M522.5 282.1L528.6 289.6M635.6 285.5L639.2 295.2M638.7 285.0L642.3 294.8M642.5 267.3L644.4 272.6M644.4 272.6L646.3 277.9M646.3 277.9L648.2 283.1M648.2 283.1L651.8 293.0M644.0 267.0L646.0 272.2M645.6 266.6L647.5 271.9M649.1 271.5L651.0 276.8M665.6 278.5L669.7 287.9M667.2 278.0L671.3 287.2M662.2 262.5L664.4 267.5M664.4 267.5L666.6 272.5M668.8 277.5L672.9 286.6M670.3 276.9L674.4 286.0M669.6 271.5L671.8 276.4M666.8 261.3L669.0 266.2M668.4 260.9L670.5 265.7M670.5 265.7L672.7 270.5M685.4 256.0L687.4 260.6M692.1 244.1L696.0 252.8M701.7 261.4L703.9 266.0M703.9 266.0L708.1 274.5M707.0 264.9L711.3 273.3M727.3 252.3L729.5 257.0M728.8 251.8L731.0 256.5M730.3 251.3L732.5 256.0M731.9 250.8L734.0 255.5M871.3 146.0L878.9 148.3M878.9 148.3L883.0 149.7M884.1 148.6L888.4 150.0M888.4 150.0L892.7 151.5M873.3 143.7L881.0 146.1M881.0 146.1L885.2 147.4M885.2 147.4L889.5 148.8M891.9 140.6L896.5 142.1M896.5 142.1L901.2 143.9M881.0 134.4L889.5 136.8M882.0 133.2L890.5 135.6M904.9 140.8L914.3 144.9M891.6 134.5L896.4 136.0M909.9 136.7L919.6 141.0M900.9 131.6L906.0 133.5M911.1 135.7L920.9 140.0M907.2 132.5L912.4 134.7M893.1 119.6L902.8 123.0M895.4 117.1L905.1 120.8M921.1 127.1L930.7 129.9M918.1 122.9L923.3 124.7M916.4 117.7L921.5 119.5M904.0 109.2L913.7 113.6M913.7 113.6L918.8 115.5M918.8 115.5L923.7 117.3M905.4 108.2L915.0 112.5M915.0 112.5L920.0 114.5" stroke="#58ad22"/>
<path d="M180.7 324.1L182.8 328.2M182.3 324.2L184.4 328.3M183.9 324.2L186.0 328.3M196.4 332.6L200.8 340.3M198.0 332.6L202.4 340.3M202.8 332.5L207.3 340.4M216.4 319.6L218.9 323.8M219.4 311.5L224.1 319.2M235.9 326.9L238.6 331.0M234.7 322.6L237.5 326.7M250.7 321.3L253.4 325.7M249.6 316.9L252.3 321.2M257.5 330.1L262.3 338.4M251.2 316.8L253.9 321.2M259.1 330.0L264.0 338.4M260.7 330.0L265.6 338.4M257.1 321.1L259.7 325.5M256.1 316.6L258.7 321.0M273.6 329.7L278.7 338.2M262.4 307.9L267.3 316.3M272.5 325.2L275.2 329.7M270.3 307.6L275.2 316.0M280.6 324.9L283.4 329.4M280.9 307.1L286.1 315.3M288.9 319.7L291.9 324.2M291.9 324.2L294.8 328.7M294.8 328.7L300.3 337.3M288.4 306.3L293.9 314.6M293.9 314.6L296.9 319.1M296.9 319.1L299.9 323.6M300.3 314.1L303.3 318.6M309.2 327.7L314.9 336.4M299.4 305.2L305.0 313.7M311.0 322.8L314.0 327.4M309.6 318.1L312.6 322.7M304.2 304.7L309.8 313.3M318.8 327.0L324.5 335.7M317.4 322.3L320.4 326.9M319.0 322.2L322.0 326.8M317.8 312.6L320.8 317.2M320.8 317.2L323.8 321.8M322.4 317.1L325.4 321.7M328.8 316.6L331.8 321.2M330.4 316.5L333.4 321.1M323.2 303.1L328.9 311.7M331.9 316.3L335.0 321.0M335.0 321.0L338.1 325.6M346.2 324.9L352.3 333.7M343.0 315.3L346.2 320.0M351.1 324.5L357.2 333.3M349.4 319.6L352.7 324.3M352.7 324.3L358.9 333.1M349.4 314.7L352.6 319.3M355.9 324.0L362.2 332.8M347.7 309.9L350.9 314.5M357.5 323.8L363.9 332.6M355.8 319.0L359.2 323.6M376.8 321.4L383.3 330.3M361.6 298.5L368.0 307.2M374.9 316.5L378.4 321.2M381.6 320.8L388.2 329.7M381.3 315.7L384.8 320.4M389.6 319.8L396.2 328.7M383.8 304.9L387.3 309.6M387.3 309.6L390.8 314.4M385.4 304.7L388.9 309.4M392.4 314.2L395.9 318.9M943.0 92.9L946.9 96.2M961.2 95.6L965.0 99.2M950.3 79.8L957.8 86.6M963.3 89.7L967.0 93.4M974.2 96.4L979.6 103.7M966.3 84.0L969.8 87.9M969.8 87.9L972.9 92.0M973.1 87.5L976.0 91.5M976.0 91.5L978.8 95.5M990.9 80.4L993.7 84.4" stroke="#600a22"/>
<path d="M137.5 322.2L139.6 326.5M139.6 326.5L141.7 330.6M139.1 322.3L141.2 326.5M141.2 326.5L143.3 330.6M152.8 330.8L156.5 338.1M154.3 330.8L158.1 338.1M155.5 327.0L157.5 330.9M156.8 323.2L158.7 327.1M158.4 323.3L160.3 327.2M158.0 319.4L160.0 323.3M159.6 319.5L161.6 323.4M161.2 319.6L163.2 323.5M163.2 323.5L165.1 327.4M165.1 327.4L167.1 331.3M164.8 323.5L166.7 327.5M168.7 331.4L172.3 339.0M170.3 331.5L173.9 339.1M180.3 320.1L182.3 324.2M188.1 332.5L192.4 340.2M185.5 324.3L187.6 328.4M189.8 332.5L194.1 340.3M191.4 332.5L195.8 340.3M182.7 312.7L186.5 320.3M193.1 332.6L197.5 340.3M184.2 312.7L188.1 320.3M188.1 320.3L190.2 324.4M194.7 332.6L199.1 340.3M185.7 312.7L189.6 320.3M195.7 328.5L198.0 332.6M197.3 328.4L199.6 332.6M196.6 324.3L198.9 328.4M198.9 328.4L201.2 332.5M198.2 324.3L200.5 328.4M200.5 328.4L202.8 332.5M206.9 319.9L209.3 324.1M204.0 312.2L208.5 319.9M210.9 324.0L213.3 328.2M213.3 328.2L215.8 332.4M217.5 332.4L222.4 340.2M214.8 319.7L217.3 323.9M211.9 311.9L216.4 319.6M217.9 319.6L220.4 323.7M219.5 319.5L222.0 323.6M222.0 323.6L224.6 327.8M221.0 319.4L223.6 323.5M223.6 323.5L226.3 327.6M222.6 319.3L225.2 323.4M225.2 323.4L227.9 327.5M224.1 319.2L226.7 323.3M226.7 323.3L229.5 327.4M225.6 319.0L228.3 323.1M228.3 323.1L231.1 327.3M227.2 318.9L229.9 323.0M229.9 323.0L232.7 327.1M231.5 322.9L234.3 327.0M225.3 311.0L230.4 318.6M233.1 322.7L235.9 326.9M226.8 310.8L231.9 318.5M237.5 326.7L240.2 330.9M239.1 326.6L241.8 330.8M241.8 330.8L246.8 338.8M229.9 310.5L235.1 318.2M237.9 322.3L240.7 326.5M243.4 330.7L248.4 338.8M236.7 318.0L239.5 322.2M239.5 322.2L242.2 326.4M245.0 330.6L249.9 338.7M233.1 310.1L238.3 317.9M238.3 317.9L241.1 322.0M241.1 322.0L243.8 326.2M246.6 330.5L251.4 338.6M234.6 310.0L239.9 317.7M239.9 317.7L242.7 321.9M242.7 321.9L245.4 326.1M245.4 326.1L248.1 330.4M248.1 330.4L252.9 338.6M241.5 317.6L244.3 321.8M249.7 330.3L254.5 338.6M243.1 317.4L245.9 321.6M251.2 330.3L256.0 338.5M239.4 309.5L244.7 317.3M244.7 317.3L247.5 321.5M252.8 330.2L257.5 338.5M246.3 317.1L249.1 321.4M249.1 321.4L251.8 325.8M251.8 325.8L254.4 330.1M254.4 330.1L259.1 338.5M247.9 317.0L250.7 321.3M255.9 330.1L260.7 338.5M259.7 325.5L262.3 330.0M262.3 330.0L267.2 338.4M258.7 321.0L261.3 325.5M261.3 325.5L263.9 329.9M263.9 329.9L268.8 338.4M257.7 316.5L260.3 321.0M262.9 325.4L265.5 329.9M259.2 308.0L264.1 316.4M271.9 329.8L277.0 338.2M260.8 308.0L265.7 316.3M268.3 320.8L270.9 325.3M270.9 325.3L273.6 329.7M267.3 316.3L269.9 320.7M281.8 329.5L287.2 337.9M275.2 316.0L277.9 320.5M283.4 329.4L288.9 337.8M271.9 307.6L276.8 315.9M279.4 320.4L282.2 324.8M282.2 324.8L285.1 329.3M291.5 328.9L297.0 337.5M279.4 307.2L284.5 315.5M284.5 315.5L287.4 319.9M293.2 328.8L298.6 337.4M302.8 328.2L308.4 336.8M290.0 306.2L295.5 314.5M295.5 314.5L298.5 319.0M298.5 319.0L301.5 323.5M301.5 323.5L304.4 328.1M304.4 328.1L310.0 336.7M297.1 314.3L300.1 318.9M306.0 328.0L311.6 336.6M298.7 314.2L301.7 318.7M301.7 318.7L304.7 323.3M307.6 327.9L313.2 336.5M303.3 318.6L306.2 323.2M307.8 323.0L310.8 327.6M297.9 305.3L303.5 313.8M309.4 322.9L312.4 327.5M308.2 313.4L311.2 318.0M311.2 318.0L314.2 322.6M305.8 304.6L311.4 313.1M317.6 317.5L320.6 322.1M320.6 322.1L323.6 326.7M316.2 312.8L319.2 317.3M319.2 317.3L322.2 322.0M322.2 322.0L325.2 326.6M313.7 303.9L319.4 312.5M328.4 326.3L334.1 335.1M324.0 317.0L327.0 321.6M327.0 321.6L330.0 326.2M325.6 316.8L328.6 321.5M328.6 321.5L331.6 326.1M327.2 316.7L330.2 321.3M327.3 311.8L330.4 316.5M338.1 325.6L344.1 334.3M333.5 316.2L336.6 320.8M336.6 320.8L339.7 325.5M335.1 316.1L338.2 320.7M336.7 315.9L339.8 320.6M335.2 311.2L338.3 315.8M341.4 320.4L344.6 325.1M344.6 325.1L350.7 333.8M339.9 315.7L343.0 320.3M332.6 302.2L338.3 310.9M341.5 315.5L344.6 320.1M354.3 324.1L360.6 333.0M341.7 301.3L347.7 309.9M350.9 314.5L354.2 319.1M354.2 319.1L357.5 323.8M352.5 314.3L355.8 319.0M357.3 313.7L360.6 318.4M358.8 313.6L362.2 318.2M365.6 322.9L372.1 331.6M357.1 308.7L360.4 313.4M360.4 313.4L363.8 318.0M363.8 318.0L367.3 322.7M358.7 308.5L362.0 313.2M362.0 313.2L365.4 317.8M363.6 312.9L367.0 317.6M355.6 299.4L361.8 308.1M357.1 299.2L363.3 307.9M364.9 307.7L368.3 312.3M375.2 321.6L381.7 330.5M366.4 307.4L369.9 312.1M363.1 298.3L369.6 307.0M373.1 311.6L376.5 316.3M364.7 298.1L371.2 306.8M372.7 306.5L376.2 311.2M383.2 320.6L389.8 329.5M374.3 306.3L377.8 311.0M384.8 320.4L391.4 329.3M375.9 306.1L379.4 310.7M382.9 315.4L386.4 320.2M386.4 320.2L393.0 329.1M377.5 305.8L381.0 310.5M384.5 315.2L388.0 320.0M388.0 320.0L394.6 328.9M379.0 305.6L382.6 310.3M380.6 305.4L384.1 310.1M382.2 305.2L385.7 309.9M389.2 314.6L392.8 319.4M390.8 314.4L394.4 319.1M394.4 319.1L401.0 328.2M388.9 309.4L392.4 314.2M380.3 295.7L386.9 304.5M386.9 304.5L390.5 309.2M394.0 313.9L397.5 318.7M381.9 295.4L388.5 304.2M403.9 317.9L410.5 327.1M403.5 312.7L407.1 317.5M401.5 307.7L405.1 312.5M405.1 312.5L408.7 317.3M399.6 302.6L403.1 307.4M406.7 312.3L410.3 317.1M410.3 317.1L417.0 326.4M394.4 293.5L401.1 302.4M396.0 293.3L402.7 302.2M397.6 293.0L404.3 302.0M407.9 306.8L411.5 311.6M399.1 292.8L405.9 301.7M405.9 301.7L409.5 306.6M431.0 314.6L437.6 323.7M428.9 309.4L432.5 314.3M432.5 314.3L439.2 323.4M426.9 304.2L430.5 309.2M428.5 304.0L432.1 309.0M435.7 313.9L442.3 322.9M430.1 303.8L433.7 308.8M437.2 313.7L443.8 322.6M431.7 303.6L435.3 308.6M435.3 308.6L438.8 313.5M426.2 288.6L433.0 298.1M427.9 288.5L434.6 297.9M429.6 288.3L436.2 297.8M431.3 288.2L437.8 297.6M449.7 311.9L456.0 320.4M451.3 311.6L457.4 320.1M454.1 301.2L457.3 305.8M446.3 287.3L452.4 296.4M455.7 301.0L458.9 305.7M447.9 287.3L454.1 296.2M454.1 296.2L457.3 300.9M457.3 300.9L460.5 305.5M460.5 305.5L463.5 310.1M449.5 287.2L455.7 296.1M455.7 296.1L458.9 300.7M458.9 300.7L462.0 305.4M462.0 305.4L465.1 310.0M451.2 287.1L457.4 295.9M457.4 295.9L460.5 300.6M463.6 305.2L466.6 309.8M473.7 294.9L476.6 299.5M475.3 294.8L478.2 299.4M471.4 286.0L476.9 294.7M476.9 294.7L479.8 299.3M473.0 286.0L478.5 294.6M478.5 294.6L481.4 299.2M492.3 303.1L495.3 307.5M491.0 298.5L493.9 303.0M493.9 303.0L496.9 307.4M516.1 305.5L522.2 313.3M517.7 305.3L523.9 313.0M515.0 291.8L518.0 296.0M516.5 291.6L519.5 295.8M519.5 295.8L522.7 300.0M518.0 291.4L521.1 295.6M521.1 295.6L524.3 299.7M531.7 288.9L535.1 293.0M541.9 301.2L548.3 309.2M533.3 288.6L536.7 292.7M543.5 301.0L549.8 309.0M545.1 300.7L551.4 308.8M546.6 300.4L552.9 308.7M548.1 300.2L554.4 308.6M549.7 299.9L555.9 308.5M551.2 299.7L557.4 308.4M562.2 298.4L568.4 308.0M563.7 298.3L569.9 307.9M565.3 298.1L571.5 307.9M566.9 297.9L573.1 307.8M576.3 296.9L582.1 307.4M577.8 296.8L583.5 307.3M579.4 296.6L585.0 307.1M580.9 296.4L586.4 306.9M591.3 295.0L596.5 304.9M592.8 294.7L598.1 304.6M594.4 294.5L599.7 304.2M596.0 294.2L601.3 303.8M592.4 283.2L594.9 288.7M597.6 293.9L602.9 303.3M599.2 293.6L604.5 302.9M600.8 293.3L606.0 302.4M614.5 289.5L618.8 297.9M615.9 289.1L620.1 297.5M617.4 288.7L621.5 297.2M616.7 283.8L618.9 288.4M618.9 288.4L622.8 296.9M618.2 283.5L620.3 288.0M620.3 288.0L624.2 296.6M619.8 283.1L621.8 287.7M621.3 282.8L623.3 287.4M622.9 282.5L624.8 287.1M923.7 117.3L928.4 118.7M924.8 116.1L929.3 117.6M930.2 110.5L934.2 112.2M924.6 95.4L932.6 98.7M932.6 98.7L936.6 101.0M944.0 106.9L950.7 113.6M926.1 94.2L934.1 97.7M934.1 97.7L938.0 100.2M938.0 100.2L941.8 103.1M941.8 103.1L945.4 106.4M945.4 106.4L952.4 113.1M927.6 93.0L935.6 96.8M943.3 102.5L947.0 105.9M947.0 105.9L954.1 112.6M948.5 105.4L955.7 112.1M945.4 96.9L949.3 100.2M950.8 99.6L954.7 103.2M957.7 102.0L964.9 108.9M940.0 85.0L947.3 91.0M955.2 97.9L959.2 101.5M963.6 99.8L970.4 106.4M945.7 82.0L953.2 88.4M959.5 86.0L963.3 89.7M967.0 93.4L970.2 97.1M962.7 85.0L966.5 88.7M957.0 77.4L964.5 84.5M964.5 84.5L968.2 88.2M971.3 92.3L974.2 96.4M968.2 83.6L971.5 87.7M965.3 75.4L971.8 83.1M976.7 82.6L979.5 86.6M972.9 74.7L978.2 82.3M981.1 86.3L983.9 90.3M979.3 73.9L984.6 81.4M991.8 89.1L994.6 93.1M993.7 84.4L996.5 88.4M998.5 83.7L1001.3 87.7M1005.7 91.4L1011.0 98.9" stroke="#8c0f1e"/>
<path d="M52.8 308.2L56.9 316.0M56.9 316.0L59.1 320.2M59.1 320.2L61.3 324.3M65.1 328.5L69.2 336.3M56.0 308.3L60.1 316.1M57.6 308.3L61.7 316.1M66.5 316.2L68.7 320.3M68.7 320.3L70.9 324.5M70.9 324.5L73.1 328.6M73.1 328.6L77.2 336.4M77.9 328.7L82.0 336.5M80.5 324.6L82.7 328.8M77.7 316.3L79.9 320.5M87.5 328.9L91.5 336.9M81.5 308.7L85.7 316.4M85.7 316.4L87.9 320.6M95.5 329.2L99.5 337.4M97.1 329.3L101.1 337.4M98.7 329.3L102.8 337.5M100.3 329.4L104.4 337.6M97.5 320.8L99.7 325.1M99.7 325.1L101.9 329.5M101.9 329.5L106.0 337.6M103.5 329.5L107.6 337.7M108.1 316.8L110.3 321.2M114.1 325.6L116.3 330.0M115.7 325.7L117.9 330.0M115.1 321.4L117.3 325.7M121.1 330.1L125.2 338.3M111.9 309.0L116.1 317.1M122.7 330.2L126.8 338.3M126.9 326.0L129.1 330.4M128.9 317.6L131.1 321.9M132.7 322.0L134.8 326.3M160.7 312.4L164.4 319.7M162.3 312.4L166.0 319.7M166.0 319.7L168.0 323.7M163.9 312.5L167.6 319.8M165.5 312.5L169.2 319.8M167.0 312.6L170.8 319.9M170.2 312.6L173.9 320.0M171.7 312.6L175.5 320.0M175.5 320.0L177.5 324.0M181.6 332.1L185.5 339.9M173.3 312.6L177.1 320.0M392.0 309.0L395.6 313.7M399.1 318.5L405.7 327.6M390.1 304.0L393.6 308.8M396.8 308.3L400.3 313.1M410.6 301.1L414.2 305.9M414.2 305.9L417.8 310.8M415.8 305.7L419.4 310.6M413.7 300.6L417.4 305.5M440.0 308.0L443.5 312.8M441.6 307.8L445.0 312.5M443.1 307.6L446.6 312.3M484.3 303.7L487.2 308.2M481.1 285.6L486.5 294.2M486.5 294.2L489.4 298.7M503.9 292.8L506.9 297.1M501.6 284.3L507.1 292.5M511.7 296.7L514.6 301.0M504.9 284.0L510.3 292.2M513.2 296.6L516.2 300.9M522.5 290.8L525.7 294.8M544.6 291.1L547.9 295.4M555.9 299.1L562.0 308.2M547.6 285.6L550.9 289.9M557.4 299.0L563.6 308.1M544.7 277.0L550.8 284.9M546.3 276.6L552.4 284.6M558.9 293.6L562.2 298.4M560.5 293.4L563.7 298.3M558.8 288.4L562.0 293.2M562.0 293.2L565.3 298.1M566.7 286.9L569.9 292.0M565.1 281.7L568.3 286.6M562.3 271.9L568.2 281.0M586.0 283.9L588.7 289.5M588.7 289.5L591.3 295.0M602.9 287.2L605.5 292.1M610.1 290.8L614.8 299.3M608.2 280.7L610.6 285.3M607.4 275.6L609.8 280.3M604.6 266.3L609.0 275.3M613.7 284.6L615.9 289.1M611.6 265.4L615.6 274.0M615.6 274.0L617.7 278.6M646.0 272.2L647.9 277.5M647.5 271.9L649.4 277.1M651.4 282.4L655.0 292.3M663.8 262.1L665.9 267.1M665.3 261.7L667.5 266.6M671.8 276.4L675.9 285.4M669.0 266.2L671.2 271.0M676.3 274.8L680.3 283.7M685.9 261.1L687.9 265.8M686.9 255.5L689.0 260.2M688.5 255.0L690.5 259.7M872.3 144.8L880.0 147.2M880.0 147.2L884.1 148.6M889.5 136.8L894.1 138.3M894.1 138.3L898.8 140.0M898.8 140.0L903.7 141.8M890.5 135.6L895.2 137.2M904.8 134.6L909.9 136.7M902.1 130.5L907.2 132.5M894.2 118.4L903.9 121.9M903.9 121.9L909.2 124.0M905.1 120.8L910.4 123.0M911.6 121.9L916.9 124.0M917.6 116.6L922.6 118.4M932.2 114.2L939.4 117.5M917.2 101.0L925.6 104.0M931.1 104.7L935.0 106.7M935.2 101.8L939.0 104.4M938.6 95.1L942.5 98.1" stroke="#b2cc1e"/>
<path d="M157.5 330.9L161.2 338.2M159.1 331.0L162.8 338.3M158.7 327.1L160.7 331.0M160.7 331.0L164.3 338.4M160.3 327.2L162.3 331.1M161.9 327.2L163.9 331.2M163.5 327.3L165.5 331.2M199.6 332.6L204.0 340.3M201.2 332.5L205.6 340.4M208.5 319.9L210.9 324.0M205.6 312.1L210.1 319.8M212.5 324.0L214.9 328.2M214.9 328.2L217.5 332.4M207.2 312.1L211.7 319.8M208.8 312.0L213.3 319.8M215.7 323.9L218.2 328.1M210.4 311.9L214.8 319.7M218.9 323.8L221.4 327.9M221.4 327.9L224.1 332.1M220.4 323.7L223.0 327.9M223.0 327.9L225.7 332.0M224.6 327.8L227.4 331.9M226.3 327.6L229.0 331.8M229.0 331.8L234.1 339.6M230.6 331.6L235.7 339.5M232.2 331.5L237.3 339.4M220.8 311.4L225.6 319.0M233.8 331.4L238.9 339.3M222.3 311.2L227.2 318.9M232.7 327.1L235.4 331.3M235.4 331.3L240.6 339.2M223.8 311.1L228.8 318.8M234.3 327.0L237.0 331.2M237.0 331.2L242.2 339.1M238.6 331.0L243.7 339.0M240.2 330.9L245.3 338.9M236.2 309.8L241.5 317.6M247.0 326.0L249.7 330.3M237.8 309.6L243.1 317.4M248.6 325.9L251.2 330.3M250.2 325.8L252.8 330.2M252.3 321.2L254.9 325.6M253.9 321.2L256.5 325.6M252.8 316.7L255.5 321.1M255.5 321.1L258.1 325.6M254.5 316.7L257.1 321.1M269.9 320.7L272.5 325.2M275.2 329.7L280.4 338.1M264.0 307.9L268.9 316.2M268.9 316.2L271.5 320.7M271.5 320.7L274.1 325.2M274.1 325.2L276.8 329.7M276.8 329.7L282.1 338.1M265.6 307.8L270.5 316.2M278.5 329.6L283.8 338.0M267.2 307.8L272.1 316.1M280.1 329.5L285.5 337.9M268.8 307.7L273.6 316.1M273.6 316.1L276.3 320.5M276.3 320.5L279.0 325.0M279.0 325.0L281.8 329.5M277.9 320.5L280.6 324.9M286.1 315.3L288.9 319.7M282.4 307.0L287.6 315.2M287.6 315.2L290.5 319.6M290.5 319.6L293.5 324.1M293.5 324.1L296.4 328.6M296.4 328.6L301.9 337.2M283.8 306.8L289.2 315.0M289.2 315.0L292.1 319.5M298.0 328.5L303.5 337.1M285.3 306.7L290.8 314.9M290.8 314.9L293.7 319.4M293.7 319.4L296.7 323.9M299.6 328.4L305.1 337.0M286.9 306.5L292.4 314.8M292.4 314.8L295.3 319.2M295.3 319.2L298.3 323.8M298.3 323.8L301.2 328.3M301.2 328.3L306.8 336.9M299.9 323.6L302.8 328.2M301.9 313.9L304.9 318.5M304.9 318.5L307.8 323.0M310.8 327.6L316.5 336.3M303.5 313.8L306.4 318.4M306.4 318.4L309.4 322.9M305.0 313.7L308.0 318.2M308.0 318.2L311.0 322.8M301.0 305.0L306.6 313.5M306.6 313.5L309.6 318.1M312.6 322.7L315.6 327.3M302.6 304.9L308.2 313.4M314.2 322.6L317.2 327.2M317.2 327.2L322.9 335.8M315.8 322.4L318.8 327.0M319.4 312.5L322.4 317.1M315.3 303.8L321.0 312.4M321.0 312.4L324.0 317.0M330.0 326.2L335.8 335.0M316.9 303.6L322.5 312.2M322.5 312.2L325.6 316.8M331.6 326.1L337.4 334.8M324.1 312.1L327.2 316.7M330.2 321.3L333.2 326.0M333.2 326.0L339.1 334.7M325.7 312.0L328.8 316.6M331.8 321.2L334.9 325.9M334.9 325.9L340.8 334.6M321.6 303.2L327.3 311.8M333.4 321.1L336.5 325.7M336.5 325.7L342.4 334.5M336.8 311.0L339.9 315.7M343.0 320.3L346.2 324.9M338.3 310.9L341.5 315.5M344.6 320.1L347.8 324.8M347.8 324.8L353.9 333.6M334.2 302.1L339.9 310.7M339.9 310.7L343.0 315.3M346.2 320.0L349.4 324.6M349.4 324.6L355.5 333.4M341.5 310.6L344.6 315.2M344.6 315.2L347.8 319.8M347.8 319.8L351.1 324.5M343.0 310.4L346.2 315.0M346.2 315.0L349.4 319.6M344.6 310.2L347.8 314.8M347.8 314.8L351.0 319.5M340.2 301.5L346.1 310.0M346.1 310.0L349.4 314.7M359.2 323.6L365.6 332.4M357.4 318.8L360.8 323.5M360.8 323.5L367.2 332.2M362.4 323.3L368.9 332.0M364.0 323.1L370.5 331.8M362.2 318.2L365.6 322.9M360.2 308.3L363.6 312.9M361.8 308.1L365.2 312.7M363.3 307.9L366.7 312.5M358.6 299.0L364.9 307.7M360.1 298.8L366.4 307.4M378.4 321.2L385.0 330.1M376.5 316.3L380.0 321.0M380.0 321.0L386.6 329.9M374.6 311.4L378.1 316.1M378.1 316.1L381.6 320.8M376.2 311.2L379.7 315.9M379.7 315.9L383.2 320.6M377.8 311.0L381.3 315.7M379.4 310.7L382.9 315.4M381.0 310.5L384.5 315.2M382.6 310.3L386.1 315.0M384.1 310.1L387.7 314.8M391.2 319.6L397.8 328.6M385.7 309.9L389.2 314.6M392.8 319.4L399.4 328.4M405.5 317.7L412.2 326.9M408.7 317.3L415.4 326.6M403.1 307.4L406.7 312.3M401.1 302.4L404.7 307.2M404.7 307.2L408.3 312.1M402.7 302.2L406.3 307.0M406.3 307.0L409.9 311.9M404.3 302.0L407.9 306.8M434.1 314.1L440.7 323.2M433.7 308.8L437.2 313.7M944.4 92.3L948.3 95.6M938.7 85.7L945.9 91.6M951.2 94.3L955.2 97.9M947.2 81.3L954.7 87.8M954.7 87.8L958.7 91.4M958.7 91.4L962.6 95.0M948.7 80.5L956.3 87.2M957.8 86.6L961.8 90.2M965.6 93.9L969.0 97.6M969.0 97.6L973.9 105.1M958.8 76.9L966.3 84.0M972.9 92.0L975.8 96.0M975.8 96.0L981.2 103.4M971.5 87.7L974.4 91.8M974.4 91.8L977.3 95.7M963.0 75.9L970.2 83.3M978.8 95.5L984.2 103.0M978.2 82.3L981.1 86.3M974.5 74.6L979.8 82.1M985.5 90.1L988.3 94.1M988.3 94.1L993.6 101.6M977.7 74.1L983.0 81.6M983.0 81.6L985.8 85.6M987.4 85.4L990.2 89.4M993.0 93.4L998.3 100.9M999.4 92.4L1004.6 99.9M987.2 72.7L992.5 80.2M995.3 84.2L998.1 88.2M998.1 88.2L1000.9 92.2M996.9 83.9L999.7 87.9M999.7 87.9L1002.5 91.9M990.4 72.2L995.6 79.7M995.6 79.7L998.5 83.7M1001.3 87.7L1004.1 91.7M1004.1 91.7L1009.4 99.2" stroke="#d00a5a"/>
<path d="M155.9 330.9L159.6 338.2M157.1 327.1L159.1 331.0M162.3 331.1L165.9 338.5M163.9 331.2L167.5 338.6M165.5 331.2L169.1 338.7M167.1 331.3L170.7 338.8M187.6 328.4L189.8 332.5M189.6 320.3L191.8 324.4M187.2 312.7L191.2 320.3M191.2 320.3L193.4 324.4M192.7 320.3L195.0 324.4M195.0 324.4L197.3 328.4M199.8 324.3L202.1 328.4M204.5 332.5L208.9 340.4M247.5 321.5L250.2 325.8M240.9 309.3L246.3 317.1M253.4 325.7L255.9 330.1M258.1 325.6L260.7 330.0M265.5 329.9L270.4 338.3M264.5 325.4L267.1 329.9M257.6 308.1L262.5 316.4M270.3 329.8L275.3 338.3M276.8 315.9L279.4 320.4M285.1 329.3L290.5 337.7M273.4 307.5L278.3 315.9M286.7 329.2L292.1 337.7M288.3 329.1L293.7 337.6M289.9 329.0L295.4 337.5M283.0 315.6L285.8 320.0M287.4 319.9L290.3 324.3M290.3 324.3L293.2 328.8M291.6 306.0L297.1 314.3M300.1 318.9L303.1 323.4M303.1 323.4L306.0 328.0M304.7 323.3L307.6 327.9M306.2 323.2L309.2 327.7M296.3 305.5L301.9 313.9M312.8 317.8L315.8 322.4M314.4 317.7L317.4 322.3M320.4 326.9L326.1 335.6M307.4 304.5L313.0 313.0M316.0 317.6L319.0 322.2M312.1 304.0L317.8 312.6M323.8 321.8L326.8 326.5M326.8 326.5L332.5 335.2M325.4 321.7L328.4 326.3M339.7 325.5L345.7 334.2M338.2 320.7L341.4 325.3M341.4 325.3L347.4 334.1M339.8 320.6L343.0 325.2M343.0 325.2L349.0 333.9M338.3 315.8L341.4 320.4M351.0 319.5L354.3 324.1M352.6 319.3L355.9 324.0M343.3 301.1L349.3 309.7M349.3 309.7L352.5 314.3M354.1 314.1L357.4 318.8M355.7 313.9L359.0 318.6M355.5 308.9L358.8 313.6M351.0 300.0L357.1 308.7M367.3 322.7L373.7 331.4M352.5 299.8L358.7 308.5M354.0 299.6L360.2 308.3M365.2 312.7L368.6 317.4M373.4 316.7L376.8 321.4M368.0 307.2L371.5 311.9M371.5 311.9L374.9 316.5M369.6 307.0L373.1 311.6M371.2 306.8L374.6 311.4M366.2 297.9L372.7 306.5M367.8 297.6L374.3 306.3M386.1 315.0L389.6 319.8M387.7 314.8L391.2 319.6M377.2 296.2L383.8 304.9M941.6 93.6L945.4 96.9M959.2 101.5L966.4 108.3M970.2 97.1L975.2 104.8M961.1 85.5L964.9 89.2M964.9 89.2L968.4 92.9M972.7 96.7L978.1 103.9M968.2 88.2L971.3 92.3M970.2 83.3L973.1 87.5M974.7 87.3L977.6 91.3M980.4 95.3L985.7 102.8M983.9 90.3L986.7 94.3M984.6 81.4L987.4 85.4M989.0 85.1L991.8 89.1M994.6 93.1L999.9 100.6M997.8 92.6L1003.1 100.1M996.5 88.4L999.4 92.4M991.9 71.9L997.2 79.4M997.2 79.4L1000.0 83.4M1002.9 87.4L1005.7 91.4" stroke="#d20818"/>
<path d="M62.3 320.2L64.5 324.4M63.9 320.3L66.1 324.4M65.5 320.3L67.7 324.4M81.5 320.5L83.7 324.7M83.7 324.7L85.9 328.9M85.3 324.7L87.5 328.9M84.7 320.6L86.9 324.7M100.7 320.9L102.9 325.2M100.1 316.6L102.3 320.9M102.3 320.9L104.5 325.3M103.9 321.0L106.1 325.3M129.1 330.4L133.1 338.3M130.7 330.4L134.7 338.3M125.7 317.4L127.9 321.8M123.2 309.3L127.3 317.5M124.8 309.4L128.9 317.6M128.1 309.5L132.2 317.8M136.4 326.4L138.6 330.6M135.9 322.2L138.0 326.4M138.0 326.4L140.1 330.6M141.7 330.6L145.7 338.2M137.0 318.0L139.1 322.3M143.3 330.6L147.2 338.2M138.7 318.2L140.7 322.4M140.7 322.4L142.8 326.6M142.8 326.6L144.9 330.7M140.3 318.3L142.3 322.5M152.0 323.0L153.9 326.9M153.9 326.9L155.9 330.9M153.6 323.0L155.5 327.0M155.2 323.1L157.1 327.1M151.2 311.6L154.8 319.2M154.8 319.2L156.8 323.2M152.8 311.8L156.4 319.3M156.4 319.3L158.4 323.3M154.4 311.9L158.0 319.4M156.0 312.0L159.6 319.5M157.6 312.2L161.2 319.6M162.8 319.6L164.8 323.5M166.7 327.5L168.7 331.4M166.4 323.6L168.3 327.5M171.9 331.6L175.6 339.2M181.1 328.1L183.2 332.2M174.9 312.6L178.7 320.1M182.8 328.2L184.8 332.3M176.4 312.6L180.3 320.1M184.4 328.3L186.5 332.4M178.0 312.7L181.9 320.2M187.1 324.3L189.2 328.4M189.2 328.4L191.4 332.5M188.6 324.3L190.8 328.4M190.8 328.4L193.1 332.6M190.2 324.4L192.4 328.5M192.4 328.5L194.7 332.6M191.8 324.4L194.1 328.5M194.1 328.5L196.4 332.6M193.4 324.4L195.7 328.5M188.7 312.7L192.7 320.3M190.2 312.6L194.3 320.2M194.3 320.2L196.6 324.3M191.7 312.6L195.8 320.2M195.8 320.2L198.2 324.3M193.2 312.6L197.4 320.2M197.4 320.2L199.8 324.3M202.1 328.4L204.5 332.5M201.3 324.2L203.7 328.4M206.1 332.5L210.5 340.4M202.9 324.2L205.3 328.3M205.4 320.0L207.7 324.1M202.5 312.2L206.9 319.9M209.3 324.1L211.7 328.3M211.7 328.3L214.2 332.5M214.2 332.5L219.0 340.3M215.8 332.4L220.7 340.3M216.6 328.2L219.1 332.3M218.2 328.1L220.8 332.3M217.3 323.9L219.8 328.0M231.1 327.3L233.8 331.4M233.5 318.3L236.3 322.4M236.3 322.4L239.1 326.6M235.1 318.2L237.9 322.3M231.5 310.3L236.7 318.0M243.8 326.2L246.6 330.5M244.3 321.8L247.0 326.0M245.9 321.6L248.6 325.9M242.6 309.1L247.9 317.0M244.2 309.0L249.6 316.9M254.9 325.6L257.5 330.1M245.9 308.8L251.2 316.8M256.5 325.6L259.1 330.0M247.6 308.7L252.8 316.7M249.3 308.5L254.5 316.7M250.9 308.4L256.1 316.6M252.6 308.3L257.7 316.5M260.3 321.0L262.9 325.4M254.3 308.2L259.3 316.5M259.3 316.5L261.9 320.9M261.9 320.9L264.5 325.4M267.1 329.9L272.0 338.3M256.0 308.2L260.9 316.5M266.1 325.4L268.7 329.8M268.7 329.8L273.7 338.3M267.7 325.3L270.3 329.8M266.7 320.8L269.3 325.3M269.3 325.3L271.9 329.8M265.7 316.3L268.3 320.8M278.3 315.9L281.0 320.3M281.0 320.3L283.8 324.8M283.8 324.8L286.7 329.2M274.9 307.5L279.9 315.8M279.9 315.8L282.6 320.2M285.4 324.7L288.3 329.1M276.4 307.4L281.4 315.7M281.4 315.7L284.2 320.1M287.0 324.5L289.9 329.0M277.9 307.3L283.0 315.6M285.8 320.0L288.6 324.4M288.6 324.4L291.5 328.9M293.1 305.8L298.7 314.2M294.7 305.7L300.3 314.1M309.8 313.3L312.8 317.8M311.4 313.1L314.4 317.7M313.0 313.0L316.0 317.6M322.0 326.8L327.7 335.5M308.9 304.3L314.6 312.9M314.6 312.9L317.6 317.5M323.6 326.7L329.3 335.4M310.5 304.2L316.2 312.8M325.2 326.6L330.9 335.3M328.9 311.7L331.9 316.3M324.8 302.9L330.5 311.6M330.5 311.6L333.5 316.2M332.1 311.4L335.1 316.1M333.6 311.3L336.7 315.9M331.1 302.4L336.8 311.0M344.8 300.9L350.8 309.5M350.8 309.5L354.1 314.1M346.3 300.7L352.4 309.3M352.4 309.3L355.7 313.9M347.9 300.5L354.0 309.1M354.0 309.1L357.3 313.7M349.4 300.3L355.5 308.9M365.4 317.8L368.9 322.5M368.9 322.5L375.3 331.3M370.5 322.3L376.9 331.1M372.1 322.0L378.5 330.9M366.7 312.5L370.2 317.2M373.6 321.8L380.1 330.7M368.3 312.3L371.8 316.9M371.8 316.9L375.2 321.6M369.9 312.1L373.4 316.7M369.3 297.4L375.9 306.1M370.9 297.1L377.5 305.8M372.5 296.9L379.0 305.6M374.1 296.6L380.6 305.4M375.6 296.4L382.2 305.2M378.8 295.9L385.4 304.7M395.9 318.9L402.6 328.0M390.5 309.2L394.0 313.9M383.5 295.2L390.1 304.0M400.0 307.9L403.5 312.7M391.3 294.0L398.0 302.9M398.0 302.9L401.5 307.7M392.8 293.7L399.6 302.6M408.3 312.1L411.9 316.9M411.9 316.9L418.6 326.2M409.5 306.6L413.1 311.4M407.4 301.5L411.0 306.3M418.5 299.9L422.1 304.8M422.1 304.8L425.8 309.8M429.4 314.8L436.0 324.0M413.2 290.6L420.1 299.7M420.1 299.7L423.7 304.6M423.7 304.6L427.4 309.6M427.4 309.6L431.0 314.6M414.8 290.3L421.6 299.5M421.6 299.5L425.3 304.4M425.3 304.4L428.9 309.4M416.4 290.1L423.2 299.2M423.2 299.2L426.9 304.2M424.8 299.0L428.5 304.0M426.5 298.8L430.1 303.8M428.1 298.6L431.7 303.6M438.8 313.5L445.4 322.3M429.7 298.4L433.3 303.4M433.3 303.4L436.8 308.4M424.5 288.9L431.3 298.2M431.3 298.2L434.9 303.2M433.0 298.1L436.5 303.1M434.6 297.9L438.1 302.9M436.2 297.8L439.7 302.7M446.6 312.3L453.0 320.9M448.1 312.1L454.5 320.6M433.0 288.0L439.5 297.5M447.9 307.0L451.3 311.6M449.5 306.8L452.8 311.4M452.8 311.4L458.8 319.9M451.0 306.6L454.3 311.2M454.3 311.2L460.3 319.7M452.6 306.4L455.9 311.0M450.9 301.5L454.2 306.2M452.5 301.4L455.8 306.0M444.6 287.4L450.8 296.5M450.8 296.5L454.1 301.2M457.3 305.8L460.5 310.4M452.4 296.4L455.7 301.0M458.9 305.7L462.0 310.2M460.5 300.6L463.6 305.2M466.6 309.8L472.2 318.4M452.9 287.0L459.0 295.8M459.0 295.8L462.2 300.5M465.2 305.1L468.2 309.7M468.2 309.7L473.7 318.3M469.7 309.6L475.3 318.1M471.3 309.5L476.9 318.0M472.9 309.3L478.5 317.8M474.5 309.2L480.0 317.7M476.1 309.1L481.6 317.6M474.7 304.4L477.7 309.0M477.7 309.0L483.2 317.4M473.4 299.7L476.3 304.3M476.3 304.3L479.3 308.8M472.1 295.0L475.0 299.6M475.0 299.6L477.9 304.2M477.9 304.2L480.8 308.7M468.2 286.2L473.7 294.9M476.6 299.5L479.5 304.1M469.8 286.1L475.3 294.8M478.2 299.4L481.1 304.0M487.2 308.2L492.9 316.5M474.7 285.9L480.1 294.5M480.1 294.5L483.0 299.1M488.8 308.1L494.5 316.4M476.3 285.8L481.7 294.5M490.5 307.9L496.1 316.2M489.1 303.4L492.1 307.8M492.1 307.8L497.7 316.0M487.8 298.8L490.7 303.2M490.7 303.2L493.7 307.7M489.4 298.7L492.3 303.1M492.5 298.4L495.5 302.8M495.5 302.8L498.5 307.2M494.1 298.3L497.1 302.7M497.1 302.7L500.1 307.1M500.1 307.1L505.6 315.2M495.7 298.1L498.7 302.5M501.6 306.9L507.2 315.0M494.4 293.6L497.3 298.0M503.2 306.7L508.8 314.9M496.0 293.5L498.9 297.9M504.8 306.6L510.4 314.7M492.1 285.0L497.6 293.3M497.6 293.3L500.5 297.7M493.7 284.9L499.1 293.2M495.2 284.8L500.7 293.1M506.6 301.8L509.6 306.1M496.8 284.7L502.3 292.9M508.2 301.6L511.2 306.0M509.8 301.5L512.8 305.8M511.4 301.3L514.4 305.7M514.4 305.7L520.4 313.5M519.4 305.1L525.6 312.8M521.0 304.8L527.3 312.5M513.5 291.9L516.4 296.2M509.6 283.6L515.0 291.8M518.0 296.0L521.1 300.2M511.2 283.5L516.5 291.6M512.7 283.4L518.0 291.4M514.1 283.3L519.5 291.2M519.5 291.2L522.6 295.4M522.6 295.4L525.9 299.4M515.5 283.1L521.0 291.0M529.0 298.9L532.4 302.9M530.6 298.6L534.0 302.6M532.2 298.3L535.6 302.4M533.8 298.0L537.1 302.1M538.7 301.8L545.1 309.6M530.2 289.3L533.5 293.3M540.3 301.5L546.7 309.4M534.8 288.3L538.2 292.4M539.8 292.1L543.2 296.2M544.8 295.9L548.1 300.2M546.3 295.6L549.7 299.9M589.2 283.5L591.8 289.1M590.8 283.4L593.4 288.9M593.4 288.9L596.0 294.2M594.9 288.7L597.6 293.9M594.0 283.1L596.5 288.4M613.0 289.9L617.4 298.4M615.2 284.2L617.4 288.7M922.6 118.4L927.4 119.9M934.2 112.2L941.1 116.3M922.9 106.2L927.2 107.9M927.2 107.9L931.3 109.5M931.3 109.5L935.2 111.4M935.2 111.4L942.0 115.9M924.3 105.1L928.5 106.8M928.5 106.8L932.5 108.5M923.1 96.6L931.2 99.7M931.2 99.7L935.2 101.8M935.6 96.8L939.5 99.4M939.5 99.4L943.3 102.5M929.2 91.8L937.1 95.9M944.7 102.0L948.5 105.4M947.3 91.0L951.2 94.3M956.7 97.3L960.7 100.9M960.7 100.9L967.7 107.7M962.1 100.3L969.1 107.1M959.7 96.1L963.6 99.8M957.2 91.9L961.2 95.6M952.0 79.2L959.5 86.0M968.4 92.9L971.4 96.9M971.4 96.9L976.7 104.3M955.3 77.9L962.7 85.0M966.5 88.7L969.9 92.6M969.9 92.6L972.7 96.7M971.8 83.1L974.7 87.3M977.6 91.3L980.4 95.3M967.5 75.0L973.5 82.9M973.5 82.9L976.3 87.0M975.1 82.8L977.9 86.8M971.3 74.7L976.7 82.6M979.5 86.6L982.3 90.6M986.7 94.3L992.0 101.8M990.6 84.9L993.4 88.9M993.4 88.9L996.2 92.9M996.2 92.9L1001.5 100.4M992.1 84.6L995.0 88.6M985.6 72.9L990.9 80.4M1000.0 83.4L1002.9 87.4M1004.4 87.2L1007.3 91.2M1007.3 91.2L1012.6 98.7M1006.0 87.0L1008.8 91.0M1008.8 91.0L1014.1 98.5" stroke="#de2a16"/>
<path d="M210.1 319.8L212.5 324.0M211.7 319.8L214.1 324.0M219.1 332.3L224.1 340.2M213.3 319.8L215.7 323.9M220.8 332.3L225.9 340.1M219.8 328.0L222.4 332.2M222.4 332.2L227.6 340.0M224.1 332.1L229.2 339.9M225.7 332.0L230.9 339.8M227.4 331.9L232.5 339.7M227.9 327.5L230.6 331.6M229.5 327.4L232.2 331.5M270.5 316.2L273.1 320.6M273.1 320.6L275.8 325.1M275.8 325.1L278.5 329.6M272.1 316.1L274.7 320.6M274.7 320.6L277.4 325.1M277.4 325.1L280.1 329.5M292.1 319.5L295.1 324.0M295.1 324.0L298.0 328.5M296.7 323.9L299.6 328.4M312.4 327.5L318.1 336.2M314.0 327.4L319.7 336.0M315.6 327.3L321.3 335.9M318.4 303.5L324.1 312.1M320.0 303.3L325.7 312.0M335.7 302.0L341.5 310.6M337.2 301.8L343.0 310.4M338.7 301.6L344.6 310.2M359.0 318.6L362.4 323.3M360.6 318.4L364.0 323.1M946.9 96.2L950.8 99.6M948.3 95.6L952.3 99.0M952.3 99.0L956.2 102.6M945.9 91.6L949.8 95.0M949.8 95.0L953.7 98.4M953.7 98.4L957.7 102.0M965.0 99.2L971.3 106.0M962.6 95.0L966.4 98.6M966.4 98.6L972.1 105.5M956.3 87.2L960.2 90.8M960.2 90.8L964.1 94.5M964.1 94.5L967.8 98.1M967.8 98.1L973.0 105.3M961.8 90.2L965.6 93.9M960.6 76.6L968.2 83.6M977.3 95.7L982.7 103.2M979.8 82.1L982.6 86.1M982.6 86.1L985.5 90.1M976.1 74.3L981.4 81.8M981.4 81.8L984.2 85.8M984.2 85.8L987.0 89.8M987.0 89.8L989.9 93.8M989.9 93.8L995.1 101.3M985.8 85.6L988.6 89.6M988.6 89.6L991.4 93.6M991.4 93.6L996.7 101.1M990.2 89.4L993.0 93.4M992.5 80.2L995.3 84.2M1000.9 92.2L1006.2 99.7M988.8 72.4L994.1 79.9M994.1 79.9L996.9 83.9M1002.5 91.9L1007.8 99.4" stroke="#ec74a0"/>
<path d="M101.7 316.7L103.9 321.0M106.1 325.3L108.3 329.7M105.5 321.0L107.7 325.4M107.7 325.4L109.9 329.8M120.5 325.8L122.7 330.2M122.1 325.9L124.3 330.2M119.9 309.2L124.1 317.4M124.1 317.4L126.3 321.7M132.2 330.4L136.3 338.3M127.3 317.5L129.5 321.9M126.5 309.5L130.5 317.7M134.8 326.3L137.0 330.5M129.8 309.6L133.8 317.8M140.1 330.6L144.1 338.2M135.4 317.9L137.5 322.2M144.9 330.7L148.8 338.1M142.3 322.5L144.4 326.6M144.4 326.6L146.5 330.7M146.5 330.7L150.3 338.1M141.9 318.4L143.9 322.6M143.5 318.5L145.5 322.6M194.7 312.5L199.0 320.1M199.0 320.1L201.3 324.2M203.7 328.4L206.1 332.5M207.7 332.5L212.1 340.4M204.5 324.2L206.9 328.3M210.9 332.5L215.5 340.4M200.9 312.3L205.4 320.0M210.1 328.3L212.5 332.5M212.5 332.5L217.2 340.4M282.6 320.2L285.4 324.7M284.2 320.1L287.0 324.5M326.4 302.8L332.1 311.4M328.0 302.7L333.6 311.3M329.5 302.5L335.2 311.2M367.0 317.6L370.5 322.3M395.6 313.7L399.1 318.5M385.0 295.0L391.7 303.8M402.3 318.1L408.9 327.3M401.9 312.9L405.5 317.7M409.9 311.9L413.5 316.7M413.5 316.7L420.2 326.0M400.7 292.5L407.4 301.5M417.8 310.8L421.4 315.8M419.4 310.6L423.0 315.6M426.2 315.2L432.9 324.5M416.9 300.1L420.5 305.1M420.5 305.1L424.2 310.0M427.8 315.0L434.5 324.2M411.7 290.8L418.5 299.9M418.0 289.8L424.8 299.0M422.9 289.1L429.7 298.4M436.8 308.4L440.3 313.2M440.3 313.2L446.9 322.0M434.9 303.2L438.4 308.2M445.0 312.5L451.5 321.2M437.8 297.6L441.3 302.6M439.5 297.5L442.9 302.4M446.3 307.2L449.7 311.9M446.1 302.0L449.5 306.8M447.7 301.9L451.0 306.6M449.3 301.7L452.6 306.4M454.2 306.2L457.4 310.8M449.2 296.6L452.5 301.4M455.8 306.0L458.9 310.6M463.5 310.1L469.1 318.7M465.1 310.0L470.6 318.5M462.2 300.5L465.2 305.1M473.1 304.5L476.1 309.1M479.3 308.8L484.8 317.3M466.5 286.3L472.1 295.0M479.5 304.1L482.4 308.6M479.8 299.3L482.7 303.9M485.6 308.4L491.2 316.7M481.7 294.5L484.6 299.0M477.9 285.8L483.3 294.4M486.2 298.9L489.1 303.4M493.7 307.7L499.3 315.9M495.3 307.5L500.9 315.7M496.9 307.4L502.5 315.5M498.5 307.2L504.0 315.4M491.2 293.8L494.1 298.3M492.8 293.7L495.7 298.1M498.7 302.5L501.6 306.9M497.3 298.0L500.3 302.4M500.3 302.4L503.2 306.7M498.9 297.9L501.9 302.2M501.9 302.2L504.8 306.6M500.5 297.7L503.5 302.1M503.5 302.1L506.4 306.4M506.4 306.4L511.9 314.6M499.1 293.2L502.1 297.6M502.1 297.6L505.0 301.9M505.0 301.9L508.0 306.3M503.7 297.4L506.6 301.8M505.3 297.3L508.2 301.6M498.4 284.5L503.9 292.8M506.9 297.1L509.8 301.5M512.8 305.8L518.7 313.8M508.5 297.0L511.4 301.3M513.0 301.2L516.1 305.5M514.6 301.0L517.7 305.3M511.9 292.1L514.8 296.4M508.1 283.8L513.5 291.9M522.7 304.6L529.0 312.2M524.3 304.3L530.7 311.9M522.7 300.0L526.0 304.1M526.0 304.1L532.3 311.7M524.3 299.7L527.6 303.8M527.6 303.8L533.9 311.4M525.9 299.4L529.2 303.5M524.2 295.1L527.5 299.1M527.5 299.1L530.8 303.2M516.9 283.0L522.5 290.8M535.6 302.4L541.9 310.2M537.1 302.1L543.5 309.9M528.6 289.6L532.0 293.6M535.4 297.7L538.7 301.8M533.5 293.3L536.9 297.4M536.9 297.4L540.3 301.5M526.9 281.1L533.3 288.6M536.7 292.7L540.1 296.8M538.2 292.4L541.7 296.5M541.7 296.5L545.1 300.7M536.4 288.0L539.8 292.1M543.2 296.2L546.6 300.4M541.4 291.7L544.8 295.9M547.9 295.4L551.2 299.7M552.8 299.5L558.9 308.3M550.8 284.9L554.1 289.3M560.6 298.6L566.8 308.0M568.5 297.8L574.7 307.8M566.8 292.5L570.1 297.6M568.4 292.2L571.6 297.4M569.9 292.0L573.2 297.3M571.5 291.8L574.8 297.1M574.8 297.1L580.7 307.5M573.1 291.5L576.3 296.9M574.7 291.3L577.8 296.8M576.2 291.1L579.4 296.6M577.8 290.9L580.9 296.4M579.3 290.7L582.4 296.2M582.4 296.2L587.8 306.7M580.9 290.5L583.9 296.0M591.8 289.1L594.4 294.5M591.6 277.6L594.0 283.1M596.5 288.4L599.2 293.6M593.2 277.4L595.6 282.9M595.6 282.9L598.1 288.2M598.1 288.2L600.8 293.3M611.3 280.0L613.7 284.6M610.7 275.0L612.9 279.6M612.9 279.6L615.2 284.2M612.3 274.7L614.5 279.3M614.5 279.3L616.7 283.8M616.1 278.9L618.2 283.5M617.7 278.6L619.8 283.1M920.0 114.5L924.8 116.1M914.3 102.8L922.9 106.2M915.8 101.9L924.3 105.1M936.3 110.6L943.0 115.4M929.8 105.7L933.7 107.6M942.6 107.4L949.1 114.0M936.6 101.0L940.4 103.7M940.4 103.7L944.0 106.9M950.1 104.8L957.4 111.6M937.2 86.5L944.4 92.3" stroke="#ec7a18"/>
<path d="M60.7 320.2L62.9 324.4M64.5 324.4L66.7 328.5M61.7 316.1L63.9 320.3M66.1 324.4L68.3 328.6M82.7 328.8L86.8 336.6M82.1 324.7L84.3 328.8M84.3 328.8L88.4 336.7M104.5 325.3L106.7 329.6M106.7 329.6L110.8 337.8M108.3 329.7L112.4 337.9M103.3 316.7L105.5 321.0M109.9 329.8L114.0 337.9M104.9 316.7L107.1 321.1M107.1 321.1L109.3 325.4M109.3 325.4L111.5 329.8M111.5 329.8L115.6 338.0M113.1 329.9L117.2 338.0M114.7 329.9L118.8 338.1M118.9 325.8L121.1 330.1M118.3 321.5L120.5 325.8M119.9 321.5L122.1 325.9M121.5 321.6L123.7 325.9M123.7 325.9L125.9 330.3M120.9 317.3L123.1 321.6M123.1 321.6L125.3 326.0M127.5 330.3L131.6 338.3M122.5 317.3L124.7 321.7M121.6 309.3L125.7 317.4M133.3 326.2L135.4 330.5M135.4 330.5L139.4 338.3M137.0 330.5L141.0 338.3M138.6 330.6L142.6 338.2M133.8 317.8L135.9 322.2M131.4 309.8L135.4 317.9M143.9 322.6L146.0 326.7M146.0 326.7L148.0 330.7M148.0 330.7L151.9 338.1M139.7 310.5L143.5 318.5M149.6 330.7L153.4 338.1M141.4 310.6L145.1 318.6M145.1 318.6L147.2 322.7M151.2 330.8L155.0 338.1M143.0 310.8L146.8 318.7M144.7 311.0L148.4 318.8M150.4 322.9L152.4 326.9M149.6 311.4L153.2 319.1M153.2 319.1L155.2 323.1M160.0 323.3L161.9 327.2M161.6 323.4L163.5 327.3M179.5 328.1L181.6 332.1M179.1 324.1L181.1 328.1M184.8 332.3L188.9 340.1M186.5 332.4L190.6 340.2M181.9 320.2L183.9 324.2M186.0 328.3L188.1 332.5M183.4 320.2L185.5 324.3M185.0 320.2L187.1 324.3M196.2 312.5L200.6 320.1M200.6 320.1L202.9 324.2M205.3 328.3L207.7 332.5M197.8 312.4L202.2 320.1M202.2 320.1L204.5 324.2M206.9 328.3L209.3 332.5M209.3 332.5L213.8 340.4M199.3 312.4L203.8 320.0M203.8 320.0L206.1 324.1M206.1 324.1L208.5 328.3M208.5 328.3L210.9 332.5M207.7 324.1L210.1 328.3M228.8 318.8L231.5 322.9M230.4 318.6L233.1 322.7M231.9 318.5L234.7 322.6M242.2 326.4L245.0 330.6M260.9 316.5L263.5 320.9M263.5 320.9L266.1 325.4M262.5 316.4L265.1 320.9M265.1 320.9L267.7 325.3M264.1 316.4L266.7 320.8M368.6 317.4L372.1 322.0M370.2 317.2L373.6 321.8M388.5 304.2L392.0 309.0M397.2 313.5L400.7 318.3M386.6 294.7L393.2 303.6M400.3 313.1L403.9 317.9M398.4 308.1L401.9 312.9M389.7 294.2L396.4 303.1M396.4 303.1L400.0 307.9M411.5 311.6L415.1 316.6M415.1 316.6L421.8 325.8M413.1 311.4L416.7 316.4M416.7 316.4L423.4 325.7M411.0 306.3L414.6 311.2M414.6 311.2L418.3 316.2M418.3 316.2L425.0 325.5M409.0 301.3L412.6 306.1M416.2 311.0L419.9 316.0M419.9 316.0L426.6 325.3M421.4 315.8L428.2 325.1M423.0 315.6L429.8 324.9M421.0 310.4L424.6 315.4M424.6 315.4L431.3 324.7M419.0 305.3L422.6 310.2M422.6 310.2L426.2 315.2M425.8 309.8L429.4 314.8M419.6 289.6L426.5 298.8M421.2 289.3L428.1 298.6M441.9 313.0L448.4 321.7M436.5 303.1L440.0 308.0M443.5 312.8L450.0 321.5M444.7 307.4L448.1 312.1M442.9 302.4L446.3 307.2M434.6 287.9L441.1 297.3M441.1 297.3L444.5 302.2M444.5 302.2L447.9 307.0M455.9 311.0L461.7 319.5M447.6 296.8L450.9 301.5M457.4 310.8L463.2 319.3M460.5 310.4L466.1 319.0M462.0 310.2L467.6 318.8M454.6 286.9L460.7 295.7M460.7 295.7L463.8 300.3M466.8 305.0L469.7 309.6M471.5 304.6L474.5 309.2M471.8 299.8L474.7 304.4M464.9 286.3L470.5 295.1M470.5 295.1L473.4 299.7M480.8 308.7L486.4 317.1M482.4 308.6L488.0 317.0M481.1 304.0L484.0 308.5M484.0 308.5L489.6 316.8M481.4 299.2L484.3 303.7M483.0 299.1L485.9 303.6M484.6 299.0L487.5 303.5M487.5 303.5L490.5 307.9M483.3 294.4L486.2 298.9M479.5 285.7L484.9 294.3M489.6 294.0L492.5 298.4M490.5 285.1L496.0 293.5M508.0 306.3L513.6 314.4M500.7 293.1L503.7 297.4M509.6 306.1L515.2 314.2M502.3 292.9L505.3 297.3M511.2 306.0L516.9 314.0M500.0 284.4L505.5 292.6M510.1 296.9L513.0 301.2M516.2 300.9L519.4 305.1M506.5 283.9L511.9 292.1M517.8 300.7L521.0 304.8M516.4 296.2L519.5 300.4M519.5 300.4L522.7 304.6M521.1 300.2L524.3 304.3M529.2 303.5L535.5 311.2M521.0 291.0L524.2 295.1M530.8 303.2L537.1 310.9M525.7 294.8L529.0 298.9M532.4 302.9L538.7 310.7M534.0 302.6L540.3 310.4M527.1 289.9L530.4 293.9M530.4 293.9L533.8 298.0M532.0 293.6L535.4 297.7M525.4 281.5L531.7 288.9M535.1 293.0L538.5 297.1M538.5 297.1L541.9 301.2M540.1 296.8L543.5 301.0M543.0 291.4L546.3 295.6M549.5 295.1L552.8 299.5M551.0 294.8L554.3 299.3M549.2 285.3L552.5 289.6M552.4 284.6L555.7 289.0M555.7 289.0L558.9 293.6M565.2 292.7L568.5 297.8M570.1 297.6L576.2 307.7M571.6 297.4L577.7 307.7M573.2 297.3L579.2 307.6M569.9 286.3L573.1 291.5M571.4 286.0L574.7 291.3M573.0 285.8L576.2 291.1M571.4 280.2L574.6 285.5M574.6 285.5L577.8 290.9M573.1 279.9L576.2 285.2M574.7 279.5L577.8 284.9M583.9 296.0L589.2 306.4M582.4 290.3L585.3 295.8M589.8 295.2L595.0 305.2M587.6 283.7L590.2 289.3M590.2 289.3L592.8 294.7M590.0 277.7L592.4 283.2M594.8 277.3L597.2 282.7M599.7 287.9L602.3 292.9M611.5 290.4L616.1 298.8M609.8 280.3L612.1 285.0M609.0 275.3L611.3 280.0M614.0 274.4L616.1 278.9M621.8 287.7L625.6 296.4M619.3 278.2L621.3 282.8M649.8 282.8L653.4 292.6M663.5 273.5L665.6 278.5M665.0 273.0L667.2 278.0M666.6 272.5L668.8 277.5M668.1 272.0L670.3 276.9M674.8 275.3L678.8 284.2M687.9 265.8L689.9 270.4M687.4 260.6L689.4 265.3M689.4 265.3L691.4 270.0M689.0 260.2L691.0 264.9M690.5 259.7L692.5 264.4M705.5 265.4L709.7 273.9M903.7 141.8L912.9 145.8M906.0 133.5L911.1 135.7M915.7 125.1L921.1 127.1M916.9 124.0L922.2 125.9M926.4 121.1L935.0 123.4M928.4 118.7L936.4 121.0M929.3 117.6L937.1 119.9M906.8 107.3L916.3 111.5M933.2 113.2L940.2 116.9M926.0 109.0L930.2 110.5M932.5 108.5L936.3 110.6M925.6 104.0L929.8 105.7M937.5 109.8L944.1 115.1M921.6 97.8L929.7 100.7M937.1 95.9L941.0 98.8M941.0 98.8L944.7 102.0M956.2 102.6L963.5 109.5M941.4 84.3L948.7 90.3M952.7 93.7L956.7 97.3M958.2 96.7L962.1 100.3M944.2 82.8L951.7 89.0M953.2 88.4L957.2 91.9M953.6 78.5L961.1 85.5M976.3 87.0L979.1 91.0M979.1 91.0L982.0 95.0M982.0 95.0L987.2 102.5M969.6 74.8L975.1 82.8M977.9 86.8L980.7 90.8M983.5 94.8L988.8 102.3M982.3 90.6L985.1 94.6M985.1 94.6L990.4 102.1M989.3 80.6L992.1 84.6M995.0 88.6L997.8 92.6M993.5 71.7L998.8 79.2M995.1 71.5L1000.4 79.0M1003.2 83.0L1006.0 87.0" stroke="#f29a1e"/>
<path d="M61.3 324.3L63.5 328.5M58.5 316.1L60.7 320.2M66.7 328.5L70.8 336.3M59.2 308.3L63.3 316.1M64.9 316.2L67.1 320.3M69.3 324.5L71.5 328.6M71.5 328.6L75.6 336.4M65.6 308.4L69.7 316.2M79.5 328.7L83.6 336.5M76.7 308.6L80.9 316.4M84.1 316.4L86.3 320.6M86.3 320.6L88.5 324.8M96.9 316.6L99.1 320.9M101.3 325.2L103.5 329.5M95.9 308.6L100.1 316.6M97.5 308.6L101.7 316.7M106.5 316.8L108.7 321.1M108.7 321.1L110.9 325.5M112.5 325.6L114.7 329.9M117.3 325.7L119.5 330.1M119.5 330.1L123.6 338.2M116.7 321.4L118.9 325.8M124.3 330.2L128.4 338.3M119.3 317.2L121.5 321.6M118.3 309.2L122.5 317.3M126.3 321.7L128.5 326.1M129.5 321.9L131.7 326.2M134.8 310.0L138.7 318.2M136.4 310.2L140.3 318.3M149.2 326.8L151.2 330.8M150.8 326.8L152.8 330.8M159.2 312.3L162.8 319.6M164.4 319.7L166.4 323.6M168.6 312.6L172.3 319.9M177.9 328.0L179.9 332.1M177.5 324.0L179.5 328.1M177.1 320.0L179.1 324.1M183.2 332.2L187.2 340.0M179.6 312.7L183.4 320.2M397.5 318.7L404.2 327.8M402.3 292.3L409.0 301.3M412.6 306.1L416.2 311.0M439.7 302.7L443.1 307.6M444.3 297.1L447.7 301.9M445.9 296.9L449.3 301.7M463.8 300.3L466.8 305.0M482.7 303.9L485.6 308.4M484.9 294.3L487.8 298.8M488.0 294.1L491.0 298.5M514.8 296.4L517.8 300.7M518.3 282.8L524.0 290.5M528.8 294.2L532.2 298.3M623.3 287.4L627.0 296.2M637.2 285.3L640.7 295.0M665.9 267.1L668.1 272.0M667.5 266.6L669.6 271.5M673.3 275.9L677.3 284.8M691.0 264.9L693.0 269.5M893.0 139.4L897.7 141.0M897.7 141.0L902.4 142.9M902.4 142.9L911.6 146.7M910.4 123.0L915.7 125.1M927.4 119.9L935.7 122.1" stroke="#f2e01e"/>
<path d="M62.9 324.4L65.1 328.5M60.1 316.1L62.3 320.2M68.3 328.6L72.4 336.4M63.3 316.1L65.5 320.3M67.7 324.4L69.9 328.6M69.9 328.6L74.0 336.4M60.8 308.4L64.9 316.2M67.1 320.3L69.3 324.5M62.4 308.4L66.5 316.2M64.0 308.4L68.1 316.2M81.1 328.8L85.2 336.6M79.9 320.5L82.1 324.7M79.3 316.4L81.5 320.5M85.9 328.9L89.9 336.8M80.9 316.4L83.1 320.5M78.3 308.6L82.5 316.4M82.5 316.4L84.7 320.6M86.9 324.7L89.1 328.9M79.9 308.6L84.1 316.4M99.1 320.9L101.3 325.2M98.5 316.6L100.7 320.9M102.9 325.2L105.1 329.6M105.1 329.6L109.2 337.8M99.1 308.6L103.3 316.7M100.7 308.7L104.9 316.7M102.3 308.7L106.5 316.8M110.9 325.5L113.1 329.9M103.9 308.7L108.1 316.8M105.5 308.7L109.7 316.9M116.3 330.0L120.4 338.1M107.1 308.8L111.3 317.0M117.9 330.0L122.0 338.2M108.7 308.8L112.9 317.0M110.3 308.9L114.5 317.1M125.9 330.3L130.0 338.3M125.3 326.0L127.5 330.3M124.7 321.7L126.9 326.0M130.1 326.1L132.2 330.4M131.7 326.2L133.8 330.5M133.8 330.5L137.9 338.3M131.1 321.9L133.3 326.2M132.2 317.8L134.3 322.1M134.3 322.1L136.4 326.4M133.1 309.9L137.0 318.0M138.1 310.3L141.9 318.4M145.5 322.6L147.6 326.7M147.6 326.7L149.6 330.7M147.2 322.7L149.2 326.8M152.4 326.9L154.3 330.8M178.7 320.1L180.7 324.1M181.2 312.7L185.0 320.2M186.5 320.3L188.6 324.3M400.7 318.3L407.3 327.5M398.8 313.3L402.3 318.1M388.1 294.5L394.8 303.3M417.4 305.5L421.0 310.4M415.3 300.4L419.0 305.3M410.1 291.1L416.9 300.1M424.2 310.0L427.8 315.0M438.4 308.2L441.9 313.0M438.1 302.9L441.6 307.8M441.3 302.6L444.7 307.4M442.7 297.2L446.1 302.0M458.9 310.6L464.6 319.1M468.4 304.9L471.3 309.5M470.0 304.7L472.9 309.3M485.9 303.6L488.8 308.1M510.3 292.2L513.2 296.6M527.3 294.5L530.6 298.6M524.0 281.8L530.2 289.3M554.3 299.3L560.4 308.3M552.6 294.6L555.9 299.1M554.2 294.3L557.4 299.0M555.7 294.1L559.0 298.8M559.0 298.8L565.2 308.1M554.1 289.3L557.3 293.9M557.3 293.9L560.6 298.6M557.2 288.7L560.5 293.4M563.6 292.9L566.9 297.9M568.3 286.6L571.5 291.8M566.6 281.3L569.9 286.3M568.2 281.0L571.4 286.0M569.8 280.6L573.0 285.8M576.2 285.2L579.3 290.7M576.4 279.2L579.5 284.7M585.3 295.8L590.6 306.1M584.0 290.1L586.8 295.6M586.8 295.6L592.0 305.8M588.3 295.4L593.5 305.5M588.3 277.8L590.8 283.4M597.2 282.7L599.7 287.9M602.3 292.9L607.6 301.9M601.3 287.6L603.9 292.5M606.3 266.1L610.7 275.0M608.1 265.9L612.3 274.7M609.8 265.7L614.0 274.4M921.6 107.3L926.0 109.0M929.7 100.7L933.8 102.7M939.0 104.4L942.6 107.4M946.3 101.4L950.1 104.8" stroke="#f6c21e"/>
</g>
<g clip-path="url(#bc2)" fill="none" stroke-linecap="round">
<path d="M781.8 221.8h0M800.5 212.1h0M803.5 205.2h0M824.2 203.6h0M766.8 229.8h0M836.0 196.9h0M784.4 228.9h0M805.0 209.6h0M819.6 197.9h0M766.5 228.8h0M816.5 194.9h0M809.0 207.2h0M719.6 247.8h0M702.8 247.4h0M831.1 188.2h0M785.4 221.7h0M782.2 222.0h0M799.7 218.2h0M853.0 186.6h0M786.5 223.5h0M825.1 206.7h0M733.6 242.4h0M740.6 250.7h0M763.1 225.0h0M851.6 181.7h0M819.5 203.7h0M834.8 191.1h0M762.7 223.1h0M819.1 204.1h0M761.7 224.0h0M809.4 208.0h0M766.8 230.6h0M857.3 171.9h0M857.3 172.4h0M729.7 236.4h0M778.5 212.2h0M723.0 262.1h0M703.0 246.9h0M754.7 226.4h0M815.4 192.8h0M790.0 226.9h0M823.4 210.3h0M727.1 237.5h0M741.8 257.3h0M788.5 228.9h0M785.5 231.1h0M843.4 176.1h0M853.6 189.8h0M754.3 225.9h0M803.7 221.1h0M803.4 199.2h0M839.7 200.2h0M743.8 229.4h0M839.6 199.1h0M815.2 191.7h0M778.6 214.5h0M702.4 246.3h0M857.0 187.9h0M803.1 220.0h0M837.2 200.5h0M760.8 221.1h0M729.1 236.4h0M827.5 186.6h0M839.8 176.7h0M857.2 187.7h0M728.5 238.0h0M822.2 209.6h0M794.9 205.7h0M789.1 229.9h0M839.9 199.8h0M779.4 214.2h0M851.5 190.3h0M803.0 199.1h0M844.2 176.2h0M859.2 187.6h0M837.3 201.7h0M787.7 228.5h0M802.3 222.7h0M824.8 207.6h0M828.1 185.9h0M836.4 202.5h0M759.0 222.7h0M839.5 198.2h0M851.9 190.1h0M802.2 220.8h0M703.5 245.3h0M844.2 175.8h0M726.2 237.2h0" stroke="#061060" stroke-width="2.6"/>
<path d="M787.8 204.1h0M837.3 172.5h0M774.9 209.8h0M837.0 173.4h0M824.3 177.2h0M753.3 218.1h0" stroke="#061060" stroke-width="3.0"/>
<path d="M784.2 224.5h0M844.5 175.8h0M841.0 196.0h0M784.3 232.3h0M833.9 187.9h0M816.2 197.2h0M848.9 185.4h0M804.6 203.8h0M857.2 170.2h0M853.4 181.5h0M812.6 212.7h0M733.2 243.0h0M777.9 216.5h0M833.3 189.1h0M820.1 204.6h0M787.4 228.1h0M855.6 168.7h0M802.0 217.1h0M781.6 216.7h0M760.9 223.3h0M785.7 226.3h0M798.5 215.1h0M784.6 229.0h0M816.5 194.5h0M758.3 225.9h0M766.5 225.0h0M854.3 167.9h0M834.2 193.6h0M811.4 210.5h0M796.4 208.0h0M784.1 225.5h0M818.6 196.3h0M795.9 207.4h0M760.8 226.7h0M790.2 227.3h0M788.4 228.8h0M850.2 185.6h0M735.2 239.1h0M759.0 228.4h0M758.3 224.0h0M822.6 208.6h0M788.3 207.4h0M704.1 243.8h0M804.7 221.2h0M840.7 177.7h0M785.6 230.2h0M759.4 223.2h0M777.8 213.9h0M795.2 205.7h0M701.5 244.5h0M804.2 219.4h0M787.1 229.6h0M802.7 201.3h0M784.7 230.3h0M701.4 244.8h0M828.4 186.6h0M785.0 230.3h0M827.7 184.6h0M825.6 206.9h0M760.2 223.5h0M803.9 221.6h0M842.4 175.2h0M777.0 215.6h0M704.5 244.8h0M727.4 238.0h0M755.3 223.7h0M785.7 232.0h0M820.5 210.6h0M824.7 208.7h0M791.8 228.6h0M838.7 199.1h0M702.0 245.5h0M814.3 194.9h0M852.2 168.0h0M700.1 245.2h0M703.3 246.5h0M854.9 166.7h0M813.4 194.3h0M776.1 216.1h0M789.9 227.4h0M824.0 209.4h0M825.0 206.5h0M825.0 207.9h0" stroke="#061060" stroke-width="3.4"/>
<path d="M89.7 313.3h0" stroke="#06562c" stroke-width="2.6"/>
<path d="M95.5 325.9h0" stroke="#06562c" stroke-width="3.4"/>
<path d="M818.3 192.6h0M597.6 275.1h0M535.4 284.0h0M827.4 189.6h0M556.2 283.8h0M558.5 278.9h0M700.9 266.6h0M771.4 236.4h0M739.9 254.4h0M840.8 197.7h0M802.3 212.6h0M853.2 171.7h0M915.0 108.4h0M890.6 143.9h0M769.7 236.1h0M683.1 263.6h0M775.1 218.3h0M802.5 207.3h0M678.3 262.4h0M833.0 186.3h0M603.5 278.0h0M559.9 280.9h0M734.4 244.5h0M849.2 191.5h0M620.7 270.7h0M819.4 193.0h0M835.1 201.4h0M805.3 218.6h0M680.6 266.5h0M824.8 203.5h0M654.2 266.1h0M598.7 277.3h0M802.9 207.5h0M718.7 260.7h0M674.5 261.6h0M681.2 259.3h0M838.1 186.1h0M671.1 256.2h0M699.2 247.1h0M600.3 271.5h0M852.4 190.2h0M888.7 144.1h0M657.2 268.4h0M886.6 142.3h0M682.1 267.0h0M740.6 249.7h0M770.0 233.5h0M682.8 260.5h0M705.6 249.1h0M709.7 258.1h0M866.3 173.4h0M821.8 195.3h0M683.0 264.8h0M832.0 185.4h0M860.6 172.8h0M882.1 154.2h0M904.6 115.0h0M844.0 182.0h0M653.4 261.1h0M874.9 149.6h0M872.2 151.6h0M786.6 209.0h0M597.1 270.8h0M575.0 275.6h0M791.4 226.8h0M724.8 237.7h0M675.3 254.0h0M622.7 269.5h0M791.0 226.4h0M855.7 167.0h0M865.3 158.2h0M873.9 150.5h0M790.9 226.5h0M652.1 259.9h0M597.4 273.0h0M759.6 249.3h0M741.7 255.2h0M722.4 262.2h0M618.8 270.2h0M721.8 264.1h0M754.1 226.9h0M656.1 258.2h0M730.3 234.7h0M811.0 194.4h0M824.2 209.7h0M864.3 157.6h0M866.1 158.9h0M854.1 168.8h0M657.1 258.3h0M740.4 257.7h0M575.7 276.3h0M826.7 207.6h0M726.8 235.7h0M740.7 256.5h0M831.1 183.2h0M600.5 270.6h0M830.8 182.2h0M768.6 240.6h0M819.0 212.1h0M713.8 268.5h0M574.6 273.8h0M794.4 203.9h0M769.1 241.4h0M880.9 141.6h0M826.4 187.8h0M865.2 159.9h0M791.0 226.3h0M621.9 269.6h0M740.7 256.7h0M569.7 275.0h0M560.7 277.8h0M730.1 234.7h0M763.9 243.6h0M676.5 254.8h0M913.7 106.8h0M913.0 108.0h0M879.7 141.4h0M793.5 203.9h0M605.2 273.2h0M729.6 236.6h0M813.9 213.9h0M816.5 191.6h0M799.5 221.4h0M838.2 179.5h0M882.6 140.2h0M773.4 215.9h0M557.5 278.8h0M841.1 197.1h0M787.3 208.6h0M538.0 285.1h0M795.1 205.1h0" stroke="#0a1470" stroke-width="2.6"/>
<path d="M651.1 257.0h0M671.3 244.7h0M557.0 275.1h0M773.0 243.1h0M572.9 266.8h0M593.4 260.0h0M669.7 245.2h0M729.0 230.5h0M717.3 275.1h0M789.3 199.2h0M852.3 162.9h0M760.5 213.4h0M876.1 140.7h0M798.2 233.7h0M671.0 250.2h0M538.0 274.9h0M573.6 263.8h0M792.4 203.3h0" stroke="#0a1470" stroke-width="3.0"/>
<path d="M626.3 279.9h0M876.5 154.0h0M681.7 262.5h0M784.2 214.9h0M678.1 256.8h0M804.4 216.0h0M831.0 185.8h0M782.7 230.8h0M657.3 272.5h0M737.3 246.4h0M626.5 280.2h0M846.9 184.4h0M678.2 271.7h0M791.1 227.1h0M561.9 280.0h0M774.2 215.6h0M596.9 274.7h0M680.0 261.9h0M835.3 199.7h0M870.8 162.6h0M862.8 161.9h0M603.6 272.3h0M814.7 211.9h0M705.2 246.2h0M675.1 262.7h0M790.4 225.1h0M536.2 285.2h0M915.7 133.9h0M734.6 241.0h0M600.2 273.8h0M741.6 257.2h0M864.4 175.0h0M915.2 107.0h0M789.5 225.1h0M706.0 249.4h0M659.4 273.6h0M625.7 280.5h0M704.6 249.4h0M601.1 279.4h0M818.5 192.9h0M845.3 179.2h0M841.4 194.5h0M555.3 279.7h0M854.0 181.0h0M681.4 266.0h0M802.7 213.6h0M629.2 285.2h0M836.1 186.5h0M866.2 158.4h0M627.5 283.0h0M540.0 286.6h0M583.8 280.4h0M817.8 191.8h0M859.4 185.9h0M863.0 162.0h0M817.6 191.5h0M815.6 191.8h0M904.2 114.1h0M669.9 256.6h0M871.3 150.2h0M764.5 220.5h0M913.9 107.7h0M742.8 255.3h0M601.3 271.2h0M669.3 255.1h0M821.7 211.3h0M722.5 262.3h0M801.1 221.8h0M903.9 116.4h0M675.5 253.4h0M574.9 276.1h0M792.5 227.3h0M555.0 281.4h0M599.6 271.2h0M743.5 254.8h0M689.4 249.0h0M864.7 157.2h0M805.0 197.7h0M572.7 274.8h0M873.6 150.7h0M713.1 267.9h0M556.4 278.2h0M762.3 245.1h0M596.5 271.3h0M574.7 273.6h0M539.8 282.7h0M861.7 161.8h0M672.0 255.9h0M771.4 238.7h0M763.8 244.7h0M603.1 271.5h0M603.6 272.4h0M705.1 245.6h0M853.9 169.9h0M806.3 220.5h0M851.5 170.9h0M763.1 219.6h0M555.3 279.4h0M919.4 132.8h0M557.0 278.4h0M744.3 255.5h0M816.7 192.2h0M722.9 262.7h0M556.9 279.4h0M657.6 259.7h0M805.5 197.4h0M819.5 210.1h0M561.3 278.1h0M722.3 262.8h0M634.6 262.8h0M730.4 236.0h0M560.7 279.6h0M768.7 243.0h0M819.1 212.1h0M623.3 269.6h0M732.5 236.8h0M858.8 185.5h0M771.5 240.6h0M721.1 263.0h0M804.9 220.5h0M672.7 255.7h0M887.6 131.0h0M654.0 260.6h0M621.6 269.0h0M650.3 261.4h0M878.1 168.6h0" stroke="#0a1470" stroke-width="3.4"/>
<path d="M920.6 109.7h0M547.4 287.7h0M939.9 94.4h0M651.7 280.4h0M894.7 126.0h0M639.1 283.9h0M637.8 282.3h0M940.4 91.4h0M935.2 103.2h0M891.6 147.4h0M91.4 317.6h0M922.0 131.4h0M905.3 136.9h0M701.6 262.3h0M902.0 138.5h0M172.5 324.5h0M714.0 255.1h0M553.1 291.3h0M927.5 102.2h0M893.6 155.5h0M888.8 138.7h0M607.2 286.3h0M883.2 143.2h0M919.5 129.6h0M580.9 273.8h0M629.9 270.2h0M912.4 120.0h0M910.9 125.4h0M900.8 148.1h0M88.2 314.2h0M905.8 113.4h0M117.9 314.4h0M900.0 148.9h0M627.6 292.5h0M87.0 313.2h0M942.5 112.1h0M749.6 229.1h0M680.4 253.8h0M930.1 121.9h0M614.1 269.7h0M616.3 270.5h0M904.8 145.7h0M638.7 264.1h0M919.5 135.6h0M901.8 149.0h0M532.6 284.6h0M608.4 295.2h0M890.5 157.7h0M902.6 117.1h0M88.4 311.9h0M890.4 157.7h0M956.5 107.0h0M890.3 158.6h0M594.6 273.7h0M906.8 113.7h0M922.3 131.1h0M679.3 252.6h0M614.7 269.3h0M606.6 272.4h0M902.1 117.7h0M719.8 241.0h0M737.0 257.3h0M737.0 234.3h0M582.9 273.5h0M582.1 272.2h0M645.1 262.3h0M696.1 271.3h0M901.1 117.3h0M891.1 159.1h0M580.4 272.7h0M178.8 334.2h0M892.1 157.4h0M592.5 271.0h0M711.8 241.2h0M911.7 140.9h0" stroke="#0b7a34" stroke-width="2.6"/>
<path d="M900.5 156.5h0M655.4 246.1h0M628.3 261.0h0M688.4 238.5h0M647.7 298.9h0M118.5 307.4h0M691.4 238.4h0M629.9 262.4h0M90.8 307.0h0" stroke="#0b7a34" stroke-width="3.0"/>
<path d="M545.8 286.4h0M900.8 128.8h0M947.7 100.6h0M93.9 315.5h0M169.5 319.9h0M703.8 259.8h0M636.0 276.0h0M587.4 292.0h0M909.6 119.0h0M921.4 113.8h0M892.4 142.2h0M884.2 138.5h0M649.4 267.4h0M921.0 121.4h0M741.1 236.5h0M898.1 148.5h0M664.1 272.2h0M916.4 110.6h0M172.6 326.1h0M617.1 274.0h0M711.9 244.8h0M672.6 271.6h0M919.1 135.7h0M726.0 248.7h0M91.3 322.3h0M920.3 131.5h0M922.6 100.6h0M605.9 271.8h0M708.4 244.0h0M928.1 126.7h0M90.0 311.7h0M563.5 278.4h0M910.1 141.2h0M899.1 149.3h0M911.7 109.2h0M893.4 156.6h0M919.9 135.5h0M901.4 148.1h0M88.2 312.7h0M654.7 284.5h0M680.1 253.8h0M713.5 242.1h0M901.3 149.4h0M922.4 133.8h0M685.3 253.0h0M937.7 92.3h0M628.2 290.3h0M892.3 154.6h0M919.4 135.8h0M689.0 274.0h0M893.6 156.1h0M889.3 157.3h0M878.4 143.1h0M912.9 141.5h0M88.4 312.9h0M638.2 263.2h0M937.2 91.5h0M901.6 149.7h0M929.2 126.3h0M903.0 145.8h0" stroke="#0b7a34" stroke-width="3.4"/>
<path d="M660.6 279.4h0M819.9 191.6h0M894.1 145.3h0M676.5 270.0h0M767.9 224.2h0M919.7 133.0h0M682.3 275.8h0M821.0 190.5h0M810.0 216.3h0M924.5 111.3h0M679.0 264.8h0M926.0 123.6h0M626.7 273.3h0M716.0 259.2h0M733.4 246.3h0M680.4 271.5h0M807.2 212.8h0M926.6 110.9h0M863.7 178.1h0M698.3 270.0h0M772.3 232.1h0M711.5 265.2h0M730.6 242.0h0M736.1 251.4h0M758.6 230.7h0M605.1 272.4h0M606.0 281.3h0M621.8 273.4h0M909.9 116.6h0M624.0 273.2h0M686.7 275.0h0M788.2 209.9h0M706.3 259.0h0M689.6 250.6h0M706.6 249.2h0M771.9 232.8h0M833.8 183.0h0M680.1 271.9h0M781.4 230.7h0M627.4 283.5h0M756.4 240.6h0M845.8 172.8h0M817.9 212.5h0M846.6 174.7h0M764.7 246.9h0M578.7 275.5h0M812.4 216.7h0M851.4 170.2h0M818.4 212.9h0M768.2 243.4h0M861.0 186.2h0M619.5 269.9h0M906.6 116.0h0M796.9 204.2h0M785.1 209.9h0M815.2 213.8h0M795.9 203.8h0M896.8 124.7h0M761.5 248.3h0M832.8 183.1h0M902.9 146.9h0M870.4 175.2h0M869.8 176.7h0M763.9 246.3h0M820.7 191.1h0M880.5 168.2h0M762.2 246.8h0M806.5 218.9h0M827.7 207.2h0M825.4 187.6h0M753.2 227.4h0M713.4 265.3h0M814.7 214.1h0M800.3 203.1h0M875.9 169.8h0M800.3 222.4h0M687.8 251.2h0M837.3 179.5h0M579.4 272.7h0M810.9 197.2h0M774.6 238.6h0M661.2 284.8h0M903.5 146.5h0M838.0 180.3h0M717.0 239.3h0M833.6 203.1h0M834.0 201.2h0M624.4 265.7h0M881.2 139.0h0M581.3 274.5h0M768.8 242.4h0M630.7 291.2h0M827.0 205.4h0M896.9 124.3h0M846.4 174.0h0M581.9 275.2h0M688.9 251.7h0M721.0 263.4h0M866.4 180.9h0M723.0 237.9h0M767.3 218.6h0M860.3 162.2h0M816.0 213.2h0" stroke="#0f5cb8" stroke-width="2.6"/>
<path d="M535.1 281.4h0M750.3 219.4h0M779.5 241.8h0M676.2 244.3h0M726.5 270.9h0M852.0 196.1h0M559.9 265.9h0M685.7 246.1h0M833.0 210.1h0" stroke="#0f5cb8" stroke-width="3.0"/>
<path d="M840.9 181.3h0M723.7 262.9h0M717.3 258.2h0M876.1 171.0h0M681.6 258.5h0M713.6 263.3h0M597.2 275.0h0M660.6 276.7h0M700.1 250.2h0M697.4 259.5h0M631.5 288.7h0M858.5 177.2h0M681.3 270.6h0M889.3 140.2h0M605.5 280.9h0M867.6 173.3h0M580.9 280.7h0M713.1 266.0h0M624.0 268.1h0M628.3 276.3h0M695.8 261.8h0M848.5 174.9h0M600.0 281.9h0M651.5 267.7h0M821.5 193.6h0M720.9 264.5h0M872.4 151.9h0M804.7 215.1h0M759.0 244.8h0M553.0 279.9h0M904.9 116.3h0M549.5 291.3h0M758.4 231.5h0M894.6 145.4h0M727.3 261.9h0M918.1 129.5h0M717.1 262.4h0M717.8 250.5h0M872.9 162.4h0M868.5 166.8h0M868.9 158.9h0M677.1 269.7h0M781.5 213.5h0M581.9 282.6h0M866.9 157.8h0M876.5 171.2h0M828.3 207.2h0M714.8 265.6h0M824.2 186.3h0M724.6 236.7h0M867.5 178.2h0M715.5 266.3h0M869.2 177.8h0M876.6 170.3h0M869.4 177.7h0M657.8 260.1h0M691.0 251.3h0M724.0 238.4h0M824.1 188.7h0M868.5 179.6h0M711.3 266.8h0M739.8 258.5h0M824.9 188.5h0M724.6 263.4h0M815.1 213.2h0M755.6 250.2h0M767.5 219.5h0M650.6 260.1h0M619.7 270.0h0M728.5 263.2h0M688.5 251.1h0M780.5 212.0h0M836.3 178.9h0M636.4 264.6h0M850.1 169.8h0M759.9 248.9h0M796.7 204.8h0M773.7 216.4h0M870.2 178.2h0M618.2 269.4h0M817.5 213.7h0M905.3 115.4h0M759.5 249.7h0M739.5 259.5h0M765.1 219.8h0M832.8 183.9h0M792.1 226.4h0M841.7 196.4h0M880.5 141.9h0M773.3 215.9h0M880.9 139.2h0M928.6 123.2h0M796.5 203.6h0M746.3 230.0h0M836.8 179.2h0M816.5 213.2h0M874.8 171.1h0M882.6 139.2h0M895.5 122.4h0M823.4 187.4h0M634.3 265.7h0M781.5 232.9h0" stroke="#0f5cb8" stroke-width="3.4"/>
<path d="M390.8 304.5h0M587.3 286.0h0M971.4 97.7h0M869.5 153.5h0M907.1 119.9h0M733.9 258.0h0M884.4 137.4h0M901.5 149.2h0M955.5 90.3h0M908.8 120.3h0M876.1 158.2h0M880.0 161.1h0M917.6 118.0h0M906.2 124.1h0M643.5 271.4h0M214.9 315.8h0M117.3 316.3h0M605.1 291.1h0M958.7 95.6h0M616.3 288.3h0M939.4 94.6h0M89.1 317.1h0M461.8 292.0h0M98.9 327.7h0M165.6 316.9h0M631.5 273.3h0M627.7 268.4h0M393.2 307.9h0M176.9 328.9h0M667.8 258.6h0M902.5 118.6h0M859.1 166.6h0M243.9 329.8h0M904.0 124.1h0M663.2 269.5h0M150.5 317.2h0M876.3 162.7h0M148.6 316.3h0M711.4 249.2h0M466.3 302.2h0M923.6 115.9h0M575.6 280.5h0M958.9 106.1h0M563.6 280.7h0M902.5 118.1h0M491.3 292.0h0M743.6 235.0h0M907.5 138.1h0M524.6 288.5h0M865.2 168.5h0M128.6 324.4h0M709.0 242.7h0M862.0 168.8h0M874.3 155.9h0M94.2 315.5h0M918.4 121.5h0M919.3 119.8h0M661.9 267.4h0M553.3 290.3h0M605.3 296.1h0M939.9 95.0h0M746.7 248.1h0M694.9 250.8h0M91.1 329.8h0M93.5 313.3h0M653.6 284.7h0M912.2 125.9h0M616.6 272.9h0M640.6 263.5h0M908.7 141.9h0M882.7 164.0h0M531.4 285.7h0M737.7 234.0h0M860.2 163.6h0M594.3 273.7h0M604.7 269.8h0M466.0 291.9h0M125.4 334.6h0M930.1 122.9h0M566.5 276.1h0M441.0 293.7h0M643.3 290.9h0M886.0 133.9h0M547.4 280.5h0M858.2 164.1h0M693.5 272.6h0M215.6 317.0h0M867.6 153.9h0M737.2 232.5h0M636.3 289.8h0M890.1 159.5h0M115.7 313.3h0M487.8 289.8h0M408.2 297.7h0M92.2 333.5h0M936.8 116.0h0M609.9 294.5h0M858.2 165.7h0M942.2 112.1h0M609.6 297.0h0M691.7 248.1h0M525.1 287.5h0M944.1 111.5h0M592.9 272.2h0M911.4 109.9h0M640.4 264.6h0M938.3 112.7h0M953.9 106.6h0M462.2 292.3h0M92.5 313.8h0M525.1 285.9h0M908.2 112.3h0M93.5 312.7h0M669.3 283.5h0M215.0 314.8h0M464.8 289.9h0M441.8 294.3h0M907.8 113.5h0M663.9 255.5h0M860.6 163.8h0M692.7 275.4h0M695.0 249.4h0M750.4 227.8h0M887.6 161.7h0M661.5 258.9h0M921.1 102.0h0M639.4 288.1h0M591.4 272.5h0M737.4 232.5h0M94.5 332.0h0M219.7 314.8h0M176.5 315.7h0M910.9 142.5h0M692.5 249.1h0M95.6 331.8h0M486.4 288.6h0M641.8 264.6h0M245.2 313.1h0M887.2 160.2h0M551.2 280.4h0M178.6 334.8h0M610.8 296.0h0M179.2 334.6h0M441.2 291.5h0M892.0 129.4h0M747.6 254.9h0M490.0 289.1h0M885.6 133.8h0M681.5 253.1h0M119.9 314.7h0M858.2 164.2h0M695.4 248.1h0M406.7 297.8h0M523.6 287.1h0M175.3 334.9h0M938.2 92.6h0M897.6 153.4h0M523.6 285.0h0M173.9 316.6h0M631.2 264.3h0M407.8 297.6h0M859.3 162.6h0M148.0 315.6h0M230.1 315.0h0M484.7 288.7h0M464.9 292.1h0M900.4 150.1h0M912.7 110.5h0M749.3 254.8h0M735.3 259.9h0" stroke="#10a040" stroke-width="2.6"/>
<path d="M182.6 338.5h0M487.5 281.7h0M179.5 338.0h0M883.7 175.4h0M936.5 126.5h0M214.1 306.0h0M902.4 151.9h0M671.5 285.5h0M939.9 116.2h0M769.0 255.3h0M960.5 110.4h0M913.3 104.2h0M908.2 153.4h0M96.0 335.5h0M957.5 110.0h0M126.5 338.4h0M909.8 147.4h0M958.9 111.4h0M488.1 281.2h0M920.8 145.2h0" stroke="#10a040" stroke-width="3.0"/>
<path d="M553.5 292.7h0M936.5 107.6h0M441.9 308.6h0M97.9 325.6h0M153.2 318.1h0M924.1 124.8h0M923.3 104.6h0M468.7 299.3h0M876.7 148.0h0M412.4 298.3h0M651.7 274.2h0M651.4 273.1h0M671.2 263.8h0M612.3 293.1h0M611.2 291.2h0M654.3 286.2h0M556.0 300.8h0M922.4 109.0h0M175.8 323.4h0M169.3 323.0h0M554.7 292.2h0M939.5 109.3h0M727.8 249.1h0M569.9 287.6h0M691.0 256.9h0M569.9 288.0h0M870.9 155.9h0M669.2 260.9h0M461.0 292.3h0M114.7 326.6h0M703.2 265.5h0M744.8 236.1h0M604.7 289.3h0M141.5 314.3h0M901.5 132.7h0M930.2 114.7h0M641.4 262.8h0M99.3 330.7h0M891.6 150.1h0M177.4 334.5h0M170.8 331.2h0M860.9 167.6h0M176.4 323.5h0M893.3 132.4h0M939.4 94.6h0M929.7 103.9h0M871.1 156.9h0M608.0 290.3h0M608.4 274.0h0M690.2 275.6h0M649.2 269.7h0M876.2 157.7h0M712.2 253.1h0M587.6 280.4h0M900.2 122.0h0M564.5 286.7h0M110.6 318.1h0M873.7 160.1h0M896.4 130.5h0M932.2 116.7h0M471.2 301.2h0M890.3 139.6h0M564.7 290.2h0M693.1 265.8h0M616.7 275.7h0M174.1 321.6h0M92.9 330.8h0M882.2 160.5h0M727.2 248.4h0M148.6 325.1h0M167.4 318.9h0M712.1 253.6h0M952.9 90.2h0M394.1 303.6h0M487.2 291.0h0M608.1 285.7h0M693.5 250.8h0M523.6 289.6h0M150.1 319.7h0M729.1 251.9h0M953.8 105.7h0M868.4 155.8h0M947.4 86.7h0M733.1 260.0h0M545.5 282.5h0M533.3 285.6h0M635.9 291.8h0M176.6 334.8h0M410.5 297.3h0M864.0 181.4h0M741.7 233.6h0M704.7 268.8h0M556.2 302.5h0M884.2 163.1h0M912.8 140.2h0M176.9 335.9h0M630.1 267.2h0M875.8 147.8h0M926.2 127.2h0M165.3 317.7h0M607.8 294.7h0M942.9 111.1h0M892.5 129.6h0M439.5 293.2h0M704.6 269.5h0M734.0 259.1h0M590.7 300.1h0M92.9 332.9h0M463.1 293.1h0M948.1 86.4h0M894.5 127.5h0M408.7 296.7h0M695.0 272.3h0M164.9 315.5h0M574.2 302.6h0M878.2 144.0h0M490.1 291.3h0M640.5 287.7h0M550.0 279.4h0M638.2 287.9h0M899.4 149.3h0M910.9 109.8h0M920.8 104.2h0M175.5 336.2h0M906.3 111.9h0M639.8 261.9h0M489.8 289.4h0M868.0 155.4h0M148.0 314.4h0M179.4 336.8h0M589.6 274.3h0M925.6 101.4h0M859.7 163.2h0M899.0 151.7h0M408.0 296.4h0M858.6 163.1h0M589.1 300.6h0M907.2 112.6h0M484.9 291.0h0M606.9 297.7h0M749.9 227.9h0M868.1 154.7h0M98.2 313.9h0M611.9 270.0h0M695.6 246.9h0M860.6 163.7h0M443.6 293.7h0M679.1 278.7h0M443.1 293.8h0M946.1 87.4h0M888.0 134.7h0M461.3 290.3h0M639.3 288.8h0M896.3 152.2h0M641.8 260.8h0M229.7 314.5h0M885.1 163.1h0M955.4 106.0h0M859.3 163.7h0M955.1 107.1h0M946.7 86.6h0M900.4 117.5h0M946.8 88.0h0M935.4 93.6h0M232.6 313.2h0M929.8 121.2h0M486.0 291.7h0M547.2 280.0h0M661.4 258.6h0M869.4 153.5h0M548.9 279.5h0M943.1 111.1h0M857.6 164.1h0M910.3 139.9h0M907.0 112.1h0M922.1 103.9h0M889.1 158.8h0M645.4 263.8h0M919.1 135.8h0M949.2 87.2h0M710.9 242.1h0M887.0 135.3h0M183.3 336.4h0M489.9 289.0h0" stroke="#10a040" stroke-width="3.4"/>
<path d="M895.9 145.1h0M776.5 233.2h0M605.3 287.8h0M883.5 139.9h0M879.8 151.0h0M906.7 139.1h0M610.5 290.6h0M888.1 145.6h0M551.7 292.6h0M553.1 279.8h0M792.9 216.6h0M830.5 200.1h0M828.7 199.3h0M773.4 227.3h0M776.8 235.0h0M715.4 249.7h0M882.9 139.9h0M830.9 202.9h0M701.2 259.6h0M887.6 145.2h0M859.0 166.0h0M580.8 281.2h0M793.0 214.9h0M585.2 273.0h0M916.6 128.6h0M910.9 116.4h0M796.0 224.6h0M829.9 201.1h0M655.1 283.4h0M864.3 164.9h0M669.6 258.5h0M813.5 200.3h0M694.0 256.0h0M831.3 200.9h0M813.9 205.8h0M643.1 289.3h0M922.0 121.4h0M844.0 194.6h0M712.6 254.7h0M797.6 202.6h0M780.3 233.7h0M797.5 225.0h0M902.4 117.3h0M892.3 155.5h0M832.8 203.5h0M807.8 198.4h0M697.8 249.2h0M844.2 197.2h0M553.9 280.8h0M738.0 259.2h0M593.0 271.0h0M809.1 216.6h0M781.7 210.7h0M797.2 225.6h0M828.8 205.4h0M864.1 183.7h0M794.8 225.9h0M866.8 156.7h0M863.2 184.6h0M902.7 146.3h0M584.2 271.2h0M696.6 273.0h0M777.8 235.4h0M843.9 196.3h0M644.3 260.8h0M710.2 267.6h0M928.5 125.0h0M777.9 234.6h0M843.7 195.3h0M581.0 271.8h0M832.7 203.2h0M735.3 232.9h0M626.0 268.6h0M844.1 195.1h0M543.5 283.7h0M904.6 147.1h0M615.4 269.0h0M889.9 129.7h0M568.2 275.1h0M797.2 225.4h0M581.2 271.5h0M659.2 258.9h0M638.4 264.8h0M807.0 196.6h0M729.7 260.7h0M881.6 164.5h0M533.7 283.6h0M719.7 239.6h0M794.7 224.7h0M872.8 173.9h0" stroke="#11979c" stroke-width="2.6"/>
<path d="M930.6 131.9h0M683.2 243.4h0M855.6 160.0h0M810.3 222.0h0M833.5 205.7h0" stroke="#11979c" stroke-width="3.0"/>
<path d="M770.2 222.3h0M791.4 213.1h0M762.3 235.1h0M844.9 195.7h0M848.8 171.2h0M832.1 203.7h0M695.7 267.8h0M663.3 282.0h0M552.0 291.8h0M831.1 198.0h0M844.0 196.2h0M775.8 231.7h0M796.0 216.4h0M743.1 242.8h0M811.7 203.9h0M747.7 239.9h0M888.8 144.9h0M890.1 142.2h0M613.3 290.4h0M726.9 259.2h0M929.1 122.7h0M815.7 208.6h0M847.3 194.0h0M638.5 283.4h0M814.6 202.9h0M814.1 208.0h0M697.3 247.6h0M745.9 245.5h0M723.7 242.6h0M794.0 214.9h0M825.6 196.7h0M879.0 154.3h0M650.2 269.2h0M808.1 197.3h0M872.6 173.0h0M771.7 218.4h0M902.5 146.4h0M721.0 239.9h0M750.8 253.0h0M845.6 196.8h0M914.7 106.9h0M829.8 205.9h0M902.3 148.2h0M798.1 224.6h0M722.7 239.5h0M737.9 235.2h0M678.4 253.2h0M835.3 180.7h0M798.7 223.4h0M845.4 195.4h0M713.7 242.0h0M865.9 180.0h0M678.5 252.1h0M889.7 160.4h0M922.0 133.5h0M737.7 260.6h0M647.5 288.3h0M831.3 204.9h0M845.0 194.3h0M844.9 196.9h0M737.7 259.1h0M795.0 224.8h0M846.4 194.3h0M748.2 226.6h0M859.8 162.4h0M799.4 224.1h0M844.2 196.0h0M835.9 181.4h0M721.2 239.3h0M881.9 138.3h0M796.7 224.8h0M857.6 166.7h0M666.7 255.6h0M735.3 233.6h0M883.9 139.7h0M710.7 268.4h0M691.1 248.0h0M913.5 141.2h0M888.9 160.1h0M585.2 274.1h0M808.4 218.3h0M780.3 233.6h0" stroke="#11979c" stroke-width="3.4"/>
<path d="M756.1 241.4h0M852.5 173.3h0M678.9 254.7h0M760.2 247.1h0M699.4 268.0h0M678.8 274.1h0M773.0 228.7h0M551.1 292.3h0M851.8 176.4h0M816.9 204.8h0M655.6 282.2h0M836.6 182.2h0M761.5 243.9h0M840.6 188.1h0M805.3 212.1h0M618.8 273.9h0M791.2 211.0h0M847.7 173.8h0M820.3 191.6h0M652.3 270.9h0M757.3 232.4h0M694.5 254.9h0M582.1 284.9h0M806.8 217.9h0M824.6 198.1h0M814.8 207.6h0M724.1 256.5h0M661.8 280.0h0M728.8 242.6h0M876.2 171.8h0M823.2 189.3h0M554.1 280.3h0M719.4 265.5h0M596.5 272.1h0M726.6 262.0h0M543.1 283.2h0M584.7 273.3h0M714.2 241.0h0M757.8 248.7h0M743.3 232.1h0M743.5 231.7h0M730.4 263.1h0M714.3 239.9h0M799.1 222.5h0M755.7 248.6h0M686.0 249.7h0M829.2 206.7h0M747.3 229.5h0M535.0 284.6h0M836.2 181.3h0M690.9 250.5h0M770.3 242.3h0M757.0 248.4h0M589.4 272.8h0M688.6 252.4h0M681.8 276.9h0M754.8 250.5h0M633.9 265.5h0M769.5 218.0h0M678.8 254.8h0M584.8 271.0h0M659.8 286.5h0M699.0 272.0h0M633.0 264.5h0M697.8 272.2h0M717.3 240.0h0M770.3 216.9h0M729.9 261.9h0" stroke="#1a78cc" stroke-width="2.6"/>
<path d="M730.7 223.9h0M703.1 275.6h0M862.1 155.3h0M793.4 199.5h0M845.9 171.1h0M794.4 197.5h0M635.4 257.7h0M610.9 265.2h0M623.9 260.4h0" stroke="#1a78cc" stroke-width="3.0"/>
<path d="M707.7 253.4h0M814.8 200.0h0M846.5 190.3h0M544.9 289.1h0M689.3 252.7h0M748.6 239.9h0M630.9 279.8h0M636.6 285.5h0M734.3 234.6h0M716.1 240.2h0M627.0 275.3h0M836.6 182.9h0M628.9 289.2h0M636.3 267.0h0M810.1 216.1h0M758.9 247.4h0M707.5 248.3h0M861.9 181.2h0M783.9 210.9h0M685.6 270.2h0M746.6 232.1h0M624.0 277.4h0M570.3 277.3h0M871.0 175.8h0M700.4 272.7h0M746.7 229.3h0M587.1 272.0h0M822.9 187.1h0M866.7 179.6h0M783.3 211.1h0M769.0 219.8h0M662.7 283.5h0M860.1 162.1h0M769.8 217.9h0M768.6 219.0h0M682.8 276.5h0M797.9 202.1h0M834.3 182.2h0M810.1 217.8h0M579.9 271.7h0M755.8 248.5h0M719.4 266.8h0M798.6 203.1h0M753.4 251.5h0M649.1 261.3h0M682.4 278.9h0M662.6 285.9h0M543.3 283.6h0M553.6 279.8h0M729.6 262.3h0M716.6 239.8h0M796.7 202.4h0M746.7 228.3h0M644.5 290.0h0M591.3 271.0h0M681.4 276.6h0M596.0 273.9h0M817.6 211.2h0M836.5 178.7h0M817.9 211.1h0" stroke="#1a78cc" stroke-width="3.4"/>
<path d="M680.7 275.0h0M748.0 236.3h0M833.0 202.7h0M651.0 269.5h0M696.4 269.7h0M661.9 274.4h0M718.4 265.8h0M826.9 191.8h0M627.9 275.2h0M748.0 243.6h0M670.2 258.8h0M754.7 248.3h0M715.4 248.1h0M717.4 263.9h0M880.5 156.9h0M749.3 241.5h0M779.4 231.2h0M749.7 242.6h0M751.4 235.4h0M738.5 257.4h0M847.9 173.8h0M698.7 250.0h0M833.8 181.7h0M873.6 173.1h0M628.5 290.2h0M848.1 195.0h0M806.8 217.6h0M728.6 261.2h0M644.9 287.2h0M860.7 163.1h0M776.6 237.3h0M729.1 261.7h0M751.8 226.2h0M848.6 170.5h0M847.2 194.6h0M821.2 190.1h0M645.5 287.7h0M798.9 201.0h0M847.7 172.8h0M753.4 249.8h0M835.0 181.7h0M750.8 252.8h0M809.3 216.7h0M698.9 272.5h0M807.8 197.3h0M835.2 181.1h0M688.3 252.3h0M655.8 285.5h0M747.5 230.4h0M783.3 210.6h0M737.8 235.2h0" stroke="#1e9ee2" stroke-width="2.6"/>
<path d="M832.1 176.8h0M677.9 245.7h0" stroke="#1e9ee2" stroke-width="3.0"/>
<path d="M706.6 244.1h0M778.6 233.7h0M688.4 275.1h0M646.1 261.0h0M821.8 190.6h0M812.9 206.2h0M814.5 208.5h0M751.0 248.1h0M788.6 210.3h0M865.6 165.8h0M722.8 252.6h0M746.9 240.7h0M748.5 234.0h0M812.7 204.4h0M684.8 263.6h0M789.4 216.2h0M865.9 171.8h0M834.6 181.1h0M749.0 246.8h0M669.2 257.6h0M697.4 274.5h0M753.4 250.6h0M646.8 286.8h0M616.6 268.0h0M833.9 180.8h0M681.0 277.2h0M760.1 245.9h0M738.2 258.6h0M857.9 166.3h0M857.7 165.9h0M751.7 250.8h0M848.1 195.3h0M775.6 239.4h0M717.7 266.4h0M782.4 210.4h0M883.0 165.2h0M706.8 244.7h0M861.6 163.5h0M647.4 262.8h0M798.9 223.0h0M862.1 184.3h0M821.8 188.6h0M685.7 277.3h0M645.9 289.6h0M807.4 217.9h0M756.8 247.6h0M742.9 232.5h0M752.4 251.4h0" stroke="#1e9ee2" stroke-width="3.4"/>
<path d="M476.7 292.4h0M216.1 326.4h0M299.5 327.0h0M477.3 294.9h0M474.4 296.1h0M408.6 322.3h0" stroke="#3a1014" stroke-width="2.6"/>
<path d="M131.0 341.9h0" stroke="#3a1014" stroke-width="3.0"/>
<path d="M342.3 308.3h0M363.3 320.9h0M141.3 327.6h0M434.4 311.7h0M402.3 301.0h0M315.7 332.7h0" stroke="#3a1014" stroke-width="3.4"/>
<path d="M918.1 116.9h0M894.8 127.7h0M646.1 280.4h0M510.4 294.8h0M526.7 291.7h0M909.1 122.9h0M509.3 295.5h0M470.7 305.0h0M707.4 266.4h0M644.1 280.9h0M924.8 126.2h0M915.5 113.1h0M731.2 258.0h0M890.9 149.1h0M672.4 279.5h0M486.8 291.7h0M674.0 278.8h0M97.5 334.0h0M105.6 333.3h0M732.6 259.5h0M667.7 281.1h0M709.2 267.1h0M733.6 260.2h0M662.4 258.4h0M917.4 138.0h0M653.0 286.8h0M926.0 127.8h0M695.8 246.7h0M100.0 331.7h0M884.6 135.2h0M925.0 127.3h0M911.4 111.9h0M521.9 285.7h0M925.4 129.3h0M735.1 259.7h0M894.7 127.6h0M908.5 111.0h0M92.3 332.9h0" stroke="#58ad22" stroke-width="2.6"/>
<path d="M706.5 233.4h0M709.4 278.6h0" stroke="#58ad22" stroke-width="3.0"/>
<path d="M510.7 295.4h0M665.2 259.9h0M920.9 124.1h0M924.7 129.9h0M885.9 160.2h0M468.9 304.2h0M903.6 144.4h0M876.6 146.1h0M677.6 279.7h0M645.5 273.5h0M916.4 124.0h0M906.0 119.8h0M696.5 248.6h0M664.7 264.4h0M690.9 256.4h0M710.7 248.0h0M747.0 249.3h0M707.4 266.6h0M895.4 129.2h0M484.4 290.5h0M899.8 142.6h0M467.3 292.2h0M671.7 283.0h0M677.3 277.6h0M927.7 128.0h0M526.0 285.1h0M710.8 240.8h0M640.6 262.5h0M662.7 255.8h0M640.2 289.4h0M92.9 333.4h0M525.9 284.7h0M877.1 144.1h0M911.0 111.7h0M525.0 287.0h0M678.2 279.1h0" stroke="#58ad22" stroke-width="3.4"/>
<path d="M246.7 317.8h0M961.8 81.3h0M374.2 310.3h0M957.5 100.3h0M386.6 311.9h0M266.7 315.1h0M223.9 325.9h0M961.7 96.1h0M272.3 325.0h0M239.2 329.4h0M255.6 330.7h0M257.8 325.0h0M246.4 318.5h0M244.1 315.4h0M202.3 334.4h0M328.0 314.2h0M302.9 309.4h0M295.2 330.9h0M334.0 318.8h0M262.2 335.1h0M195.4 336.1h0M326.5 307.7h0M943.4 88.7h0M259.9 332.7h0M308.3 308.3h0M317.7 308.7h0M250.4 335.3h0M221.4 315.4h0M972.8 102.1h0M395.7 324.9h0M359.4 303.1h0M206.3 316.6h0M361.3 304.4h0M242.3 314.9h0M203.3 335.1h0M240.6 313.3h0M339.1 328.5h0M384.3 325.7h0" stroke="#600a22" stroke-width="2.6"/>
<path d="M264.9 340.3h0M230.1 308.1h0M267.4 304.9h0" stroke="#600a22" stroke-width="3.0"/>
<path d="M199.2 331.6h0M225.3 318.8h0M955.3 83.8h0M391.8 322.9h0M365.6 311.3h0M973.8 95.4h0M218.1 332.1h0M376.0 314.1h0M271.2 323.7h0M296.0 332.3h0M330.9 327.0h0M262.9 332.4h0M387.4 307.4h0M276.6 333.0h0M317.9 309.2h0M273.1 311.5h0M347.2 328.3h0M285.2 311.1h0M975.6 98.4h0M264.2 333.6h0M227.7 316.3h0M967.2 102.7h0M301.5 310.2h0M262.7 311.0h0M202.6 336.3h0M385.2 326.4h0M365.5 301.7h0M386.4 324.4h0M206.8 317.7h0M320.9 330.5h0" stroke="#600a22" stroke-width="3.4"/>
<path d="M623.2 291.3h0M596.7 298.4h0M160.4 318.7h0M305.7 329.8h0M624.4 284.7h0M623.6 287.7h0M522.8 296.9h0M389.1 320.9h0M383.7 309.1h0M233.7 322.8h0M970.2 87.0h0M434.6 306.1h0M269.0 322.4h0M229.8 322.1h0M247.2 330.1h0M373.1 309.1h0M465.4 307.8h0M554.7 303.6h0M515.8 290.9h0M276.0 317.2h0M968.4 87.7h0M291.4 323.6h0M297.1 313.8h0M972.5 88.8h0M373.2 307.6h0M493.2 310.3h0M462.4 309.3h0M404.2 313.9h0M298.3 314.0h0M261.2 326.3h0M288.5 319.1h0M273.0 328.3h0M187.9 331.1h0M324.0 320.8h0M306.6 323.0h0M327.5 327.3h0M319.0 316.2h0M253.5 328.4h0M408.9 319.0h0M624.8 289.3h0M214.6 317.5h0M933.0 97.2h0M392.2 318.2h0M477.5 312.8h0M338.1 323.4h0M480.7 296.8h0M298.7 313.6h0M186.9 325.6h0M142.7 330.7h0M242.5 323.3h0M947.9 109.3h0M344.8 327.6h0M326.9 329.2h0M948.2 109.8h0M199.2 333.3h0M970.9 94.2h0M257.6 330.8h0M931.4 108.6h0M228.7 318.6h0M158.2 319.5h0M459.7 306.7h0M393.6 321.2h0M244.2 318.5h0M389.8 310.0h0M264.0 327.9h0M285.0 330.8h0M298.7 314.9h0M478.3 295.8h0M364.7 315.3h0M238.1 322.3h0M402.0 305.5h0M297.0 315.1h0M303.7 320.6h0M189.7 320.5h0M478.2 291.5h0M186.7 316.8h0M616.3 294.8h0M968.8 80.7h0M498.0 288.3h0M947.2 109.9h0M263.0 334.3h0M620.5 292.2h0M472.5 290.3h0M383.9 299.8h0M210.1 316.5h0M398.0 297.8h0M553.3 305.2h0M340.8 330.4h0M620.2 291.6h0M359.4 303.6h0M553.7 305.0h0M292.5 310.4h0M293.1 332.7h0M554.7 304.7h0M291.2 332.7h0M471.3 290.5h0M236.5 314.9h0M569.2 303.5h0M398.9 296.8h0M570.5 303.4h0M393.2 325.3h0M237.1 313.6h0M931.4 95.4h0M366.2 303.8h0M344.9 304.9h0M359.6 305.1h0M949.9 109.4h0M263.6 334.9h0M293.9 311.9h0M357.1 302.8h0M946.3 109.4h0M359.9 303.9h0M594.8 300.2h0M275.4 333.5h0M386.9 324.4h0M218.3 336.2h0M546.6 306.1h0M439.7 318.5h0M398.9 297.0h0M497.8 290.1h0M264.8 332.6h0M384.6 325.8h0M356.8 329.0h0M381.6 302.2h0M192.6 335.2h0M567.0 302.0h0M954.0 82.7h0M434.3 294.1h0M437.7 316.7h0M569.6 303.4h0M596.8 297.1h0M127.4 312.7h0M413.0 321.5h0M435.1 292.8h0M552.8 303.9h0M204.8 337.4h0M959.2 104.2h0M299.4 309.4h0M296.4 333.3h0M554.5 305.2h0M169.5 335.8h0M595.0 299.0h0M307.2 310.1h0M942.2 87.4h0M976.2 99.9h0M331.0 332.0h0M263.3 333.2h0M236.8 315.6h0M600.3 299.1h0M548.2 305.1h0M948.0 108.0h0M297.6 333.1h0M582.1 302.2h0M625.7 292.8h0M598.1 300.1h0M568.2 303.5h0M254.8 335.0h0M247.5 335.2h0M262.1 312.1h0M600.3 297.6h0M618.3 293.9h0M431.2 294.2h0M290.7 332.9h0M357.9 327.4h0M595.8 299.3h0M335.8 308.4h0M187.6 315.5h0M228.4 314.0h0M450.5 291.7h0M390.5 322.4h0M945.1 89.3h0M184.6 316.8h0M398.0 324.2h0M601.4 298.8h0M621.6 292.7h0M400.0 296.4h0M379.6 326.6h0M474.6 289.6h0M566.9 303.4h0" stroke="#8c0f1e" stroke-width="2.6"/>
<path d="M493.4 317.5h0M145.1 341.1h0M941.5 78.7h0M621.6 300.3h0M255.0 341.2h0M608.0 308.3h0M290.5 307.7h0M427.6 288.8h0M963.5 107.4h0M284.7 306.3h0M289.0 336.1h0M561.6 311.1h0M205.4 310.7h0M622.0 298.4h0M256.8 303.2h0M380.4 332.9h0" stroke="#8c0f1e" stroke-width="3.0"/>
<path d="M142.8 328.6h0M474.5 298.7h0M169.8 334.3h0M262.3 332.1h0M326.9 311.4h0M950.0 109.0h0M475.6 302.5h0M298.1 314.8h0M242.4 316.0h0M307.4 328.1h0M348.3 329.4h0M240.1 314.8h0M318.1 317.2h0M385.4 324.6h0M359.8 311.8h0M478.5 299.9h0M548.6 302.7h0M616.8 285.4h0M931.8 96.2h0M408.1 322.3h0M227.8 320.4h0M140.0 329.1h0M352.8 320.3h0M390.2 311.0h0M384.4 309.2h0M311.1 316.9h0M259.7 324.5h0M222.4 319.4h0M323.5 321.2h0M239.1 328.4h0M968.4 95.2h0M431.1 294.0h0M407.7 319.1h0M474.7 291.3h0M191.5 332.8h0M222.0 318.6h0M218.9 335.6h0M462.4 303.2h0M261.1 323.4h0M363.6 315.3h0M282.5 311.8h0M519.2 294.5h0M399.9 303.9h0M436.1 315.2h0M413.4 320.6h0M390.0 309.5h0M948.7 93.6h0M306.2 311.0h0M263.2 329.5h0M297.3 317.5h0M315.7 322.1h0M250.8 325.8h0M243.9 324.2h0M367.2 314.0h0M522.5 297.4h0M306.6 332.0h0M620.8 292.3h0M367.7 302.5h0M263.9 330.1h0M383.3 305.1h0M225.1 321.9h0M259.7 333.1h0M231.9 325.6h0M597.6 295.2h0M316.6 308.5h0M140.7 330.6h0M296.1 316.8h0M381.9 300.5h0M931.3 121.4h0M275.3 315.7h0M976.2 90.7h0M438.5 314.9h0M390.1 325.3h0M357.3 327.8h0M597.2 300.9h0M282.2 311.4h0M947.7 108.4h0M293.5 311.5h0M308.0 331.9h0M549.9 304.9h0M190.8 336.8h0M432.8 294.0h0M962.7 105.6h0M499.8 289.6h0M595.2 298.6h0M504.3 311.7h0M356.0 304.2h0M243.4 313.9h0M355.7 328.6h0M307.5 308.3h0M260.8 311.4h0M358.5 328.9h0M380.0 299.5h0M403.2 298.9h0M331.8 328.6h0M356.8 328.2h0M622.6 292.8h0M228.1 315.8h0M399.1 296.6h0M283.2 312.7h0M198.9 336.4h0M173.1 335.7h0M322.0 329.3h0M220.3 335.8h0M286.2 333.5h0M433.8 293.8h0M320.9 329.9h0M282.4 310.7h0M399.9 299.3h0M401.8 297.7h0M386.2 300.2h0M473.1 290.7h0M331.6 331.4h0M547.4 304.9h0M250.1 333.0h0M188.7 316.2h0M566.1 302.6h0M306.1 332.1h0M621.0 292.3h0M310.6 330.6h0M477.0 290.4h0M296.5 332.8h0M436.3 293.9h0M266.5 335.2h0M449.4 293.0h0M434.1 292.9h0M246.2 314.5h0M299.1 309.2h0M584.4 299.6h0M931.7 96.6h0M197.3 336.2h0M950.8 108.3h0M265.6 333.2h0M347.3 328.4h0M355.5 326.5h0M435.1 320.3h0M263.9 334.7h0M396.8 297.5h0M299.7 308.9h0M380.7 326.3h0M297.7 333.6h0M232.8 313.2h0M946.8 110.3h0M383.8 298.8h0M358.5 302.9h0M378.8 324.5h0M275.3 312.6h0M595.6 298.1h0M190.5 337.2h0M948.4 109.4h0M321.6 330.7h0M474.2 291.5h0M307.7 332.5h0M602.0 296.5h0M931.9 94.3h0M389.4 323.7h0M504.0 312.0h0M234.4 313.0h0M549.4 304.9h0M349.0 329.8h0M440.2 318.5h0M439.5 317.8h0M283.4 311.8h0M387.2 298.8h0M343.9 328.0h0M285.7 334.7h0M211.8 314.8h0M597.9 300.5h0M226.4 335.3h0M306.8 332.4h0M359.4 328.7h0M947.4 108.5h0M266.4 335.2h0M356.3 305.8h0M473.2 291.9h0M555.6 304.8h0M520.1 310.2h0M434.4 293.9h0M214.2 317.0h0" stroke="#8c0f1e" stroke-width="3.4"/>
<path d="M167.7 322.5h0M889.6 150.1h0M128.3 323.7h0M83.8 312.8h0M588.4 278.3h0M169.3 331.6h0M917.8 127.0h0M533.2 287.9h0M570.9 287.0h0M671.4 276.8h0M111.4 317.7h0M938.8 109.6h0M445.6 308.3h0M665.2 264.3h0M414.4 305.4h0M131.9 330.1h0M397.6 312.9h0M526.6 286.3h0M128.3 328.5h0M232.9 315.3h0M571.4 279.9h0M103.1 328.9h0M505.8 293.9h0M565.9 278.3h0M676.2 279.0h0M148.6 314.2h0M161.0 315.0h0M913.6 139.2h0M669.7 281.4h0M161.6 315.6h0M559.8 302.1h0M883.3 136.3h0M507.1 289.5h0M923.2 103.2h0M173.0 316.5h0M560.9 304.8h0M650.9 285.8h0M918.4 106.7h0M166.1 315.4h0M407.5 296.8h0M508.9 289.7h0M883.7 135.7h0M102.2 334.0h0M925.4 99.4h0M89.8 331.9h0M173.5 316.8h0M100.8 333.8h0M392.3 299.8h0M587.9 301.7h0" stroke="#b2cc1e" stroke-width="2.6"/>
<path d="M137.6 340.1h0M177.5 308.7h0M895.4 119.2h0M461.9 282.6h0M926.9 141.1h0" stroke="#b2cc1e" stroke-width="3.0"/>
<path d="M85.4 317.3h0M98.8 332.6h0M588.6 293.6h0M691.5 274.1h0M691.7 265.4h0M391.0 299.2h0M589.4 282.8h0M163.7 315.9h0M466.9 292.3h0M492.8 291.8h0M666.1 274.0h0M509.3 296.0h0M446.7 314.6h0M442.3 305.6h0M129.6 322.1h0M567.0 283.7h0M913.9 123.3h0M100.2 325.9h0M86.4 316.5h0M664.5 262.7h0M100.7 332.2h0M150.1 314.6h0M101.9 333.2h0M484.9 290.6h0M173.6 317.5h0M184.2 317.6h0M174.6 317.1h0M163.3 316.4h0M101.6 331.8h0M931.8 121.5h0M125.1 334.0h0M106.5 332.6h0M609.0 270.3h0M174.4 317.7h0M174.1 335.4h0M173.8 316.1h0M175.2 315.6h0M89.2 332.7h0M943.4 109.5h0M558.3 302.7h0M106.6 333.3h0M868.8 155.1h0M931.3 120.6h0M90.2 333.5h0M551.3 281.4h0M98.8 334.0h0M407.1 296.6h0M127.1 334.8h0M924.0 128.4h0M181.5 316.0h0M167.6 315.6h0" stroke="#b2cc1e" stroke-width="3.4"/>
<path d="M384.0 303.6h0M253.3 318.6h0M288.5 315.7h0M277.9 321.5h0M350.4 320.9h0M337.2 307.3h0M400.5 304.4h0M361.5 323.7h0M333.5 322.2h0M238.2 333.7h0M215.3 320.2h0M290.8 314.5h0M214.3 328.0h0M337.3 306.9h0M360.0 317.5h0M282.2 330.8h0M281.1 326.6h0M360.8 305.4h0M289.5 312.0h0M257.6 333.4h0M286.5 312.4h0M272.8 316.2h0M212.8 319.7h0M222.2 326.7h0M237.9 324.8h0M332.4 326.6h0M220.8 335.2h0M200.0 334.3h0M382.7 313.0h0M233.8 328.2h0M973.7 94.3h0M233.8 328.0h0M163.6 331.0h0M325.1 311.2h0M277.0 333.3h0M319.8 311.0h0M291.1 316.7h0M280.6 333.5h0M346.7 317.3h0M332.0 326.4h0M946.1 95.9h0M333.3 321.6h0M338.6 311.8h0M363.5 320.3h0M364.7 320.5h0M331.5 327.3h0M975.9 93.6h0M388.1 309.0h0M268.1 311.2h0M240.2 335.3h0M335.8 329.2h0M267.4 313.9h0M229.6 335.2h0M337.6 307.4h0M392.9 324.4h0M223.5 315.5h0M222.3 314.6h0M317.5 307.0h0M200.8 336.2h0M434.4 319.4h0M338.1 328.5h0M361.2 327.5h0M238.4 336.1h0M301.8 332.2h0M237.9 334.3h0M300.5 332.1h0M313.7 332.9h0M361.2 328.5h0M296.5 331.2h0M335.2 331.5h0M318.5 307.4h0M162.8 333.9h0M279.2 334.2h0M230.1 334.4h0M285.2 312.3h0M288.0 310.9h0M366.6 327.9h0M162.7 333.1h0M324.1 306.6h0M289.6 309.8h0M333.0 331.1h0M311.9 330.2h0M288.9 312.5h0M303.2 331.3h0M351.2 328.4h0M350.1 327.3h0M286.5 310.8h0M238.1 313.1h0M943.0 88.0h0M412.2 321.1h0M227.9 334.6h0M949.6 83.9h0M303.1 331.8h0M200.5 336.9h0M318.5 309.6h0M324.1 307.4h0M210.8 317.5h0M431.9 294.4h0M232.6 335.7h0M963.8 81.1h0M241.1 334.6h0M322.3 307.9h0M954.9 85.0h0M163.1 333.2h0M950.9 85.3h0M342.1 305.5h0M303.7 308.9h0M336.4 306.4h0M289.7 309.9h0M336.8 306.9h0" stroke="#d00a5a" stroke-width="2.6"/>
<path d="M212.4 310.5h0M210.2 308.5h0M452.3 321.4h0M312.2 301.1h0M337.4 304.1h0M311.3 300.7h0M287.1 340.7h0M170.0 341.5h0" stroke="#d00a5a" stroke-width="3.0"/>
<path d="M341.1 309.1h0M223.2 331.1h0M346.6 311.4h0M344.6 311.9h0M290.5 317.1h0M362.6 306.3h0M215.4 320.4h0M232.7 327.1h0M305.8 314.5h0M953.1 84.2h0M387.2 307.7h0M212.8 319.8h0M230.0 332.8h0M365.4 306.2h0M292.6 313.0h0M435.8 313.9h0M364.7 305.4h0M379.5 316.3h0M966.0 84.9h0M949.0 91.9h0M333.2 329.6h0M975.9 96.1h0M272.4 321.9h0M958.1 87.2h0M266.6 311.8h0M289.7 313.8h0M289.9 317.1h0M274.9 318.6h0M378.5 320.5h0M377.8 312.9h0M967.8 84.3h0M379.6 316.8h0M344.8 314.4h0M272.4 314.4h0M954.7 84.0h0M281.4 331.8h0M294.4 319.7h0M230.3 326.0h0M967.4 83.8h0M301.1 326.0h0M288.2 315.3h0M182.5 327.0h0M385.8 305.7h0M958.6 102.6h0M295.3 317.4h0M229.1 333.2h0M359.2 326.6h0M317.2 330.4h0M301.7 333.7h0M239.2 334.3h0M230.1 334.0h0M282.5 334.5h0M231.7 335.9h0M287.3 311.0h0M432.7 293.4h0M289.7 311.0h0M964.0 82.2h0M160.4 334.8h0M361.4 302.7h0M315.7 330.2h0M231.7 335.3h0M255.0 335.3h0M268.4 312.9h0M272.0 313.6h0M362.7 328.1h0M319.5 309.1h0M285.2 311.0h0M213.6 317.1h0M334.5 330.0h0M291.7 312.3h0M303.4 333.2h0M240.4 336.0h0M161.7 333.6h0M251.4 332.7h0M339.1 330.6h0M977.5 98.3h0M266.1 312.0h0M199.7 334.9h0M319.9 331.7h0M301.5 332.3h0M267.1 312.8h0M243.4 335.4h0M951.9 86.1h0M338.0 331.2h0M279.4 333.2h0M226.0 316.4h0M971.9 101.5h0M354.7 329.7h0M279.5 332.1h0M159.6 335.4h0M382.9 325.0h0M240.2 334.2h0M363.7 302.7h0M338.5 330.4h0M220.4 337.2h0M241.7 334.4h0M337.9 329.5h0M244.9 335.5h0M382.7 323.4h0M338.8 306.0h0M950.8 84.9h0M976.7 98.8h0M315.6 332.9h0M409.2 321.5h0M319.8 331.4h0M288.4 312.6h0M259.6 333.0h0M337.1 307.2h0M262.6 333.6h0M334.7 330.1h0M338.5 331.2h0M289.4 310.9h0M400.4 298.5h0M401.9 298.1h0M411.5 320.2h0M239.8 335.1h0M433.7 292.0h0M366.8 327.7h0" stroke="#d00a5a" stroke-width="3.4"/>
<path d="M945.0 88.1h0M192.8 322.5h0M283.6 316.2h0M379.3 307.5h0M314.2 314.0h0M184.5 316.9h0M369.3 312.2h0M194.5 319.4h0M312.9 309.3h0M250.4 315.0h0M342.2 321.4h0M302.0 319.4h0M195.4 333.2h0M157.7 329.5h0M247.4 320.5h0M249.6 322.2h0M369.2 312.4h0M354.2 323.9h0M368.7 310.0h0M283.9 317.0h0M378.1 326.2h0M369.7 310.2h0M339.1 317.9h0M195.7 321.9h0M967.9 89.8h0M336.1 317.7h0M955.1 82.6h0M207.5 337.4h0M282.4 313.3h0M281.1 310.9h0M189.6 318.0h0M164.2 335.6h0M268.9 334.6h0M348.0 329.6h0M293.7 333.5h0M945.4 88.4h0M167.1 335.0h0M184.1 316.1h0M188.1 316.2h0M966.7 103.0h0M347.3 306.2h0M285.9 331.9h0M294.2 309.4h0M276.5 311.6h0M955.0 81.8h0M347.3 305.8h0M274.2 334.3h0M187.1 317.9h0M205.0 317.3h0M375.7 327.4h0M975.5 99.9h0M367.3 303.3h0M166.9 334.2h0M291.9 331.4h0M281.0 310.3h0M188.7 316.2h0M377.4 326.9h0M315.3 310.2h0M378.6 299.5h0M965.3 101.9h0M280.9 312.8h0M355.3 303.2h0M166.1 333.8h0M356.5 305.5h0M299.1 309.2h0M254.0 311.4h0" stroke="#d20818" stroke-width="2.6"/>
<path d="M381.3 336.0h0M333.8 336.9h0M399.0 326.6h0M246.1 308.2h0" stroke="#d20818" stroke-width="3.0"/>
<path d="M327.6 309.1h0M286.3 331.7h0M324.6 330.5h0M251.5 315.9h0M354.8 322.0h0M390.1 319.1h0M260.3 330.4h0M334.1 317.1h0M205.7 319.1h0M215.3 333.0h0M289.7 324.6h0M196.7 326.5h0M300.8 317.5h0M389.5 318.7h0M372.1 303.0h0M959.7 81.6h0M248.7 315.5h0M375.0 316.3h0M341.1 318.3h0M261.6 327.9h0M193.7 325.1h0M190.9 317.5h0M347.0 306.0h0M269.9 324.7h0M158.0 332.5h0M390.3 318.2h0M286.1 328.9h0M397.9 322.0h0M167.1 334.7h0M157.9 333.9h0M369.2 303.4h0M327.7 329.8h0M159.1 334.2h0M355.7 306.1h0M311.1 333.2h0M266.3 335.0h0M273.2 332.5h0M311.9 309.5h0M966.6 104.0h0M344.8 328.4h0M310.3 332.9h0M331.0 331.8h0M298.1 311.8h0M325.8 329.2h0M379.0 300.1h0M342.2 328.7h0M355.6 327.5h0M275.1 311.7h0M404.1 322.2h0M329.5 330.6h0M379.8 300.1h0M958.4 80.6h0M309.7 309.9h0M167.9 333.7h0" stroke="#d20818" stroke-width="3.4"/>
<path d="M421.6 295.6h0M932.4 109.4h0M256.2 314.3h0M421.2 300.8h0M235.0 321.2h0M183.2 331.2h0M544.7 300.2h0M197.9 325.2h0M282.3 318.0h0M530.3 302.0h0M424.6 304.4h0M355.4 306.9h0M261.9 313.6h0M326.6 321.6h0M539.3 296.7h0M497.4 292.8h0M216.4 335.3h0M286.1 325.1h0M349.3 307.2h0M461.7 300.4h0M960.5 85.3h0M194.6 324.7h0M545.9 299.5h0M942.8 90.2h0M258.7 316.3h0M429.8 299.4h0M355.4 313.0h0M497.8 294.7h0M264.7 322.6h0M283.4 323.2h0M470.0 313.9h0M928.9 98.3h0M417.8 294.9h0M372.0 316.5h0M234.9 322.4h0M194.4 325.7h0M140.7 331.3h0M242.5 320.0h0M453.9 313.7h0M943.2 90.0h0M451.1 313.7h0M533.7 288.1h0M267.6 332.8h0M370.5 303.6h0M217.3 334.6h0M497.4 295.1h0M254.2 315.2h0M164.1 321.2h0M222.0 334.9h0M139.4 321.5h0M244.4 317.0h0M481.3 294.1h0M478.7 307.8h0M296.5 311.3h0M499.3 290.1h0M182.7 328.8h0M128.7 315.9h0M155.3 329.9h0M201.9 325.3h0M456.2 305.0h0M521.1 293.9h0M148.9 332.2h0M593.2 285.6h0M198.7 323.2h0M371.9 304.7h0M244.1 320.6h0M531.6 301.5h0M394.9 321.7h0M311.3 308.8h0M449.9 316.2h0M261.6 313.4h0M272.1 332.1h0M155.0 317.0h0M472.4 289.7h0M225.8 337.0h0M146.3 333.5h0M354.1 305.2h0M189.6 316.2h0M263.1 314.0h0M157.1 315.7h0M380.7 299.4h0M196.7 317.2h0M545.0 306.4h0M441.6 318.6h0M497.1 288.7h0M502.0 311.6h0M958.0 81.0h0M258.4 313.6h0M251.1 313.3h0M468.6 312.8h0M244.2 334.2h0M214.4 335.3h0M268.3 333.3h0M432.5 293.4h0M217.9 336.2h0M215.9 336.3h0M479.4 312.1h0M328.6 308.6h0M376.8 327.2h0M602.3 295.9h0M506.8 310.9h0M386.4 300.3h0M333.9 307.3h0M387.3 298.2h0M932.9 117.8h0M314.2 309.8h0M312.3 309.6h0M965.1 102.0h0M959.7 82.2h0M289.0 333.2h0M514.5 289.0h0M450.2 316.9h0M128.0 313.2h0M973.4 102.1h0M416.8 297.0h0M513.2 289.0h0M420.1 294.1h0M473.2 291.9h0M156.0 316.9h0M379.1 302.6h0M347.1 330.3h0M964.3 103.2h0M442.5 317.0h0M490.2 313.5h0M155.3 334.2h0M471.0 313.9h0M329.7 331.9h0M257.6 312.2h0M949.8 86.6h0M965.8 103.0h0M158.2 317.2h0M470.9 313.0h0M178.0 317.2h0M542.3 306.6h0M477.4 314.3h0M490.7 312.6h0M452.9 315.7h0M315.1 309.0h0M144.7 333.7h0M964.1 103.2h0M414.8 321.0h0M602.8 296.8h0M375.2 301.8h0M472.5 291.8h0M248.6 333.1h0M497.2 290.2h0M156.2 314.8h0M455.1 315.8h0M972.7 100.2h0M216.9 336.8h0M371.2 326.1h0M416.5 322.3h0M937.7 112.9h0M354.9 306.5h0M955.3 81.8h0M554.2 302.9h0M447.7 290.7h0M217.8 337.2h0M272.3 332.5h0M351.1 305.5h0M177.6 316.4h0M491.9 311.4h0M493.3 311.1h0" stroke="#de2a16" stroke-width="2.6"/>
<path d="M546.1 314.2h0M192.6 312.4h0M353.3 299.1h0M312.7 337.6h0M333.4 303.9h0M923.9 94.1h0M186.4 311.8h0M188.1 314.5h0M579.5 311.3h0M254.8 344.0h0M150.6 312.5h0M509.7 320.1h0M268.9 341.9h0M176.6 313.6h0M416.4 290.1h0M125.2 307.2h0M965.9 107.7h0M176.9 339.0h0" stroke="#de2a16" stroke-width="3.0"/>
<path d="M192.5 326.2h0M262.7 322.6h0M492.5 300.6h0M371.5 303.8h0M256.1 313.6h0M473.6 311.3h0M128.3 316.3h0M106.5 325.8h0M527.9 302.4h0M235.3 332.2h0M515.3 287.5h0M335.1 315.5h0M544.3 300.9h0M946.6 88.5h0M499.0 288.9h0M353.3 305.7h0M315.1 317.4h0M972.4 98.8h0M929.8 108.0h0M911.9 112.2h0M963.3 100.9h0M550.2 299.5h0M167.0 327.7h0M477.6 305.2h0M255.4 328.3h0M953.0 88.1h0M496.9 301.3h0M222.9 335.0h0M167.3 328.5h0M428.9 311.0h0M451.5 315.7h0M422.7 302.6h0M375.6 304.9h0M478.4 291.4h0M352.4 324.7h0M241.4 333.0h0M287.6 324.2h0M186.0 332.9h0M933.3 111.5h0M477.5 306.8h0M260.5 313.7h0M427.5 303.4h0M155.4 323.4h0M244.1 330.3h0M334.4 310.0h0M269.2 329.2h0M282.5 318.2h0M379.8 303.6h0M231.9 320.5h0M163.2 319.7h0M268.4 326.4h0M523.9 296.1h0M173.3 335.3h0M480.2 312.4h0M496.6 290.9h0M110.6 330.8h0M289.6 327.9h0M571.2 302.8h0M287.7 322.1h0M926.9 98.3h0M934.6 100.9h0M264.7 324.5h0M277.3 313.8h0M481.3 300.0h0M481.3 294.8h0M258.5 328.2h0M420.9 295.5h0M215.3 329.1h0M217.7 335.6h0M377.8 304.4h0M458.1 296.7h0M152.8 326.0h0M289.6 323.6h0M502.8 312.3h0M375.2 325.2h0M416.5 294.6h0M290.0 333.1h0M250.6 311.8h0M394.9 298.2h0M571.1 302.1h0M242.9 335.2h0M519.1 288.1h0M962.3 103.9h0M374.8 301.2h0M475.2 312.7h0M188.8 317.3h0M448.4 293.5h0M498.9 287.7h0M204.9 317.0h0M963.1 104.2h0M192.6 315.7h0M495.2 291.2h0M234.9 313.8h0M966.7 104.6h0M519.0 287.1h0M472.4 314.2h0M279.6 313.2h0M472.6 290.6h0M421.6 296.4h0M351.2 305.4h0M159.0 316.7h0M455.5 316.7h0M472.6 314.2h0M962.7 104.0h0M511.6 288.1h0M454.7 314.3h0M413.5 319.5h0M616.3 293.6h0M373.4 300.6h0M333.4 306.8h0M145.0 335.0h0M327.7 308.1h0M401.6 296.0h0M479.5 290.8h0M449.3 317.9h0M478.0 290.2h0M909.0 109.9h0M123.7 314.7h0M497.7 310.1h0M963.1 104.2h0M269.6 333.0h0M941.3 88.4h0M379.8 301.8h0M495.1 311.1h0M517.4 288.2h0M441.0 316.3h0M158.9 315.4h0M468.2 313.5h0M377.4 301.6h0M584.3 302.4h0M456.9 292.3h0M258.9 312.3h0M355.9 304.7h0M395.9 298.7h0M542.6 306.1h0M513.4 288.9h0M248.4 314.5h0M158.7 316.3h0M330.1 307.2h0M565.5 302.8h0M403.7 322.8h0M372.3 303.9h0M131.5 333.9h0M567.2 302.0h0M470.6 291.9h0M514.6 288.7h0M950.0 86.7h0M567.4 300.8h0M973.1 99.8h0M374.0 301.4h0M417.2 296.9h0M351.1 305.1h0M194.1 317.2h0M250.7 312.7h0M442.5 315.7h0M946.7 110.2h0M376.7 324.8h0M154.0 316.3h0M152.8 334.6h0M352.5 305.5h0M500.7 288.6h0M257.9 313.1h0M939.9 113.9h0M414.5 319.5h0M975.2 100.9h0M386.3 298.4h0M177.0 316.9h0M328.5 308.8h0M473.7 290.0h0M545.6 305.3h0M142.6 333.6h0M514.6 308.2h0M253.6 314.4h0M268.4 333.9h0M941.3 88.5h0M329.4 308.6h0M503.1 310.0h0M244.2 312.6h0M387.2 300.7h0M513.2 286.6h0M454.8 314.8h0" stroke="#de2a16" stroke-width="3.4"/>
<path d="M964.0 94.7h0M349.2 325.0h0M211.2 324.6h0M235.7 332.8h0M322.6 309.9h0M278.6 334.1h0M315.3 332.8h0M964.7 80.2h0M235.3 334.4h0M229.1 336.6h0M220.9 335.3h0M224.2 335.0h0M325.1 309.1h0M978.6 98.7h0M339.1 305.2h0M340.4 307.7h0M363.1 326.2h0M280.5 331.9h0M279.4 334.1h0M965.4 79.2h0" stroke="#ec74a0" stroke-width="2.6"/>
<path d="M973.4 105.7h0M971.5 103.3h0" stroke="#ec74a0" stroke-width="3.0"/>
<path d="M298.0 329.3h0M946.1 96.5h0M236.9 332.6h0M223.1 334.5h0M222.0 330.0h0M220.1 327.0h0M291.4 319.0h0M966.0 96.7h0M231.1 335.2h0M951.7 84.1h0M316.9 332.8h0M323.0 309.2h0M979.9 98.7h0M226.4 335.4h0M337.4 306.6h0M222.1 334.9h0M320.0 332.4h0M317.7 331.5h0M280.0 332.4h0M320.5 306.6h0M981.4 100.3h0M286.0 312.2h0M980.5 99.4h0M221.2 336.6h0M952.9 85.4h0" stroke="#ec74a0" stroke-width="3.4"/>
<path d="M537.4 292.6h0M504.7 302.3h0M369.7 318.0h0M585.7 300.3h0M436.9 302.2h0M473.4 300.6h0M537.0 304.4h0M502.1 300.1h0M428.5 318.5h0M926.0 99.1h0M574.3 286.5h0M516.3 303.0h0M368.2 321.8h0M448.1 316.2h0M282.2 318.5h0M498.2 298.7h0M465.5 314.7h0M395.7 300.5h0M388.4 300.8h0M618.3 290.5h0M488.8 312.3h0M331.2 312.6h0M544.2 297.0h0M494.3 296.1h0M574.6 295.5h0M945.8 110.8h0M567.5 300.6h0M132.2 316.1h0M376.1 325.9h0M612.1 280.1h0M395.5 300.8h0M198.0 316.8h0M577.0 298.3h0M542.8 296.7h0M542.9 294.2h0M106.9 323.0h0M191.3 326.3h0M102.7 318.3h0M599.0 291.7h0M594.4 282.0h0M537.4 294.2h0M919.4 104.4h0M470.4 312.1h0M442.7 315.6h0M941.9 90.3h0M374.7 324.6h0M499.2 311.0h0M403.2 296.3h0M468.6 291.6h0M571.3 302.1h0M486.9 313.1h0M480.5 290.0h0M442.6 316.5h0M131.0 313.1h0M145.4 314.4h0M138.9 335.3h0M312.4 309.9h0M508.4 311.0h0M927.0 98.8h0M953.5 108.0h0M443.8 319.0h0M145.4 316.5h0M421.9 295.1h0M563.0 302.4h0M122.8 312.5h0M509.1 310.3h0M488.7 312.8h0M525.1 307.6h0M483.2 314.0h0M109.5 332.4h0M146.5 316.6h0M147.4 333.6h0M564.5 300.9h0M482.4 289.5h0M467.0 314.7h0M431.0 319.2h0M538.0 305.7h0M535.8 305.0h0M209.4 337.0h0M526.2 308.1h0M134.9 335.1h0M535.4 304.8h0M525.3 307.0h0M109.2 331.9h0M918.1 104.5h0M498.6 311.9h0M529.0 307.7h0M530.1 308.0h0M348.2 304.0h0M197.0 317.0h0M447.3 292.2h0M535.4 305.3h0M529.0 307.0h0M122.1 312.9h0M514.3 308.7h0" stroke="#ec7a18" stroke-width="2.6"/>
<path d="M537.0 279.5h0M485.3 318.8h0M521.4 319.6h0M542.8 308.2h0M396.9 292.2h0M533.0 312.0h0M477.5 318.2h0M535.2 279.9h0M456.9 319.2h0M932.6 84.8h0M400.2 291.9h0M435.0 289.6h0M582.0 313.6h0" stroke="#ec7a18" stroke-width="3.0"/>
<path d="M145.3 316.4h0M520.7 305.8h0M566.9 281.4h0M526.5 300.6h0M403.3 316.9h0M449.9 307.9h0M540.9 305.1h0M538.1 302.3h0M451.7 302.8h0M139.9 317.1h0M500.5 306.7h0M496.6 300.9h0M432.1 301.0h0M453.4 311.0h0M500.9 290.6h0M573.0 289.2h0M139.7 318.0h0M473.4 299.7h0M927.4 108.4h0M504.2 306.4h0M548.5 296.7h0M449.5 308.4h0M534.8 298.3h0M140.2 316.6h0M572.2 299.6h0M137.5 317.9h0M511.7 292.7h0M423.7 294.7h0M535.1 305.6h0M135.0 325.9h0M934.4 101.4h0M544.2 296.6h0M445.9 300.7h0M502.2 289.0h0M493.6 297.1h0M202.5 323.9h0M130.4 316.8h0M500.0 302.3h0M143.4 325.4h0M481.7 312.5h0M107.3 322.6h0M427.2 315.4h0M933.2 116.8h0M615.4 293.4h0M197.6 316.4h0M111.3 332.7h0M140.4 332.9h0M465.2 313.0h0M617.1 293.0h0M202.4 315.4h0M466.1 313.0h0M421.7 294.6h0M529.5 308.0h0M627.9 292.4h0M593.1 299.7h0M587.3 299.9h0M154.3 335.5h0M437.7 293.3h0M527.9 307.3h0M570.1 301.5h0M449.9 315.3h0M540.1 307.0h0M511.1 309.6h0M143.3 334.1h0M123.0 314.3h0M333.4 307.4h0M422.6 320.2h0M473.7 314.6h0M376.5 302.5h0M507.1 309.4h0M200.3 316.2h0M593.3 299.1h0M328.9 306.5h0M144.3 334.7h0M586.0 300.1h0M211.4 337.4h0M528.7 308.9h0M124.5 312.3h0M494.5 312.0h0M130.3 315.0h0M331.1 308.9h0M528.7 285.7h0M122.3 313.4h0M508.1 308.6h0M328.3 306.8h0M484.9 313.4h0" stroke="#ec7a18" stroke-width="3.4"/>
<path d="M459.4 312.3h0M424.6 298.2h0M203.1 319.0h0M569.4 283.4h0M206.1 326.8h0M539.8 298.8h0M458.7 312.3h0M134.2 333.1h0M543.5 297.8h0M645.4 272.8h0M234.7 323.2h0M670.3 277.4h0M449.1 314.1h0M264.1 315.2h0M528.6 298.1h0M268.9 332.6h0M141.2 332.5h0M486.5 309.2h0M613.0 272.2h0M202.8 320.0h0M909.8 136.0h0M420.6 305.4h0M934.5 110.0h0M544.1 293.3h0M153.4 321.7h0M552.5 286.1h0M932.8 115.7h0M412.5 313.7h0M593.5 277.6h0M894.7 137.3h0M181.6 320.9h0M200.7 320.9h0M126.0 330.8h0M237.8 326.2h0M563.4 300.9h0M566.6 292.7h0M494.2 293.6h0M449.1 300.5h0M426.1 317.4h0M941.5 106.9h0M577.6 293.2h0M455.4 310.6h0M588.8 296.8h0M144.1 323.7h0M931.9 120.1h0M574.2 283.5h0M484.2 297.6h0M623.3 290.2h0M101.4 315.2h0M554.3 300.0h0M916.1 124.9h0M234.4 314.8h0M144.5 316.2h0M427.4 311.0h0M390.7 307.3h0M443.5 315.6h0M208.3 332.7h0M565.8 281.2h0M926.3 108.8h0M665.7 264.9h0M371.9 325.0h0M576.1 302.4h0M572.3 290.6h0M261.0 314.9h0M170.2 335.1h0M472.6 303.5h0M406.9 300.1h0M146.7 317.0h0M911.4 115.4h0M486.0 302.0h0M208.0 327.5h0M138.0 334.3h0M117.5 333.9h0M562.3 304.1h0M899.6 119.0h0M425.0 295.3h0M591.3 300.7h0M418.0 321.7h0M958.9 83.5h0M936.2 92.1h0M394.9 300.5h0M428.0 294.5h0M677.1 279.4h0M442.8 316.1h0M931.6 120.1h0M521.9 288.5h0M210.7 334.8h0M188.7 336.5h0M197.9 317.9h0M467.7 291.0h0M487.3 311.3h0M513.3 309.9h0M532.2 305.6h0M153.5 333.5h0M228.1 315.4h0M536.3 307.6h0M115.3 332.8h0M150.7 334.4h0M101.4 313.6h0M960.0 107.3h0M132.4 332.7h0M925.8 99.1h0M418.4 321.0h0M652.2 286.4h0M443.8 315.7h0M401.9 320.8h0M133.3 333.7h0M173.9 334.8h0M587.4 300.2h0M137.3 332.9h0M608.9 270.1h0M463.7 315.0h0M612.9 271.3h0M677.1 279.1h0M121.5 314.8h0M520.4 288.7h0M427.1 294.5h0M607.8 271.3h0M674.7 282.0h0M139.3 334.2h0M591.9 300.6h0M153.1 334.0h0M673.6 280.3h0M251.3 313.4h0M707.1 271.2h0M531.7 306.2h0M901.0 120.3h0M118.4 333.8h0M188.4 335.3h0M427.4 319.5h0M128.9 334.4h0M201.1 316.2h0M210.7 336.0h0M114.9 332.9h0M936.9 114.8h0M528.1 285.6h0M463.0 314.9h0M419.1 321.6h0M140.5 334.2h0M425.0 294.7h0M591.8 299.8h0M533.7 307.8h0M913.2 137.5h0M577.6 302.4h0" stroke="#f29a1e" stroke-width="2.6"/>
<path d="M397.2 290.4h0M593.5 305.8h0M110.1 309.9h0M153.1 336.4h0M147.3 308.7h0M926.0 143.0h0M202.6 311.5h0M450.6 326.9h0M112.3 307.2h0M915.0 102.2h0" stroke="#f29a1e" stroke-width="3.0"/>
<path d="M949.8 87.7h0M415.0 316.8h0M102.1 324.2h0M122.5 317.0h0M470.6 307.8h0M201.7 321.1h0M439.7 302.0h0M153.3 316.8h0M937.8 95.7h0M503.4 295.7h0M159.0 317.5h0M145.4 321.8h0M125.2 324.5h0M146.4 326.5h0M590.4 291.1h0M398.8 322.3h0M935.1 109.7h0M441.9 303.9h0M162.9 319.1h0M133.7 315.9h0M134.9 318.7h0M534.1 305.8h0M101.2 315.9h0M127.8 322.8h0M686.8 258.2h0M487.2 312.3h0M940.2 89.3h0M488.3 308.0h0M926.1 118.0h0M484.5 296.8h0M125.9 330.8h0M155.0 331.6h0M688.7 264.9h0M615.7 276.9h0M244.0 333.9h0M557.1 294.0h0M443.2 304.8h0M592.1 292.7h0M410.1 303.6h0M965.2 102.9h0M483.8 297.9h0M421.4 311.2h0M915.9 123.7h0M689.7 268.2h0M591.6 278.1h0M504.9 307.3h0M174.1 334.2h0M146.5 327.6h0M510.2 308.7h0M524.8 303.3h0M88.0 330.3h0M424.2 312.6h0M209.4 330.0h0M566.5 279.9h0M415.1 317.2h0M241.2 327.1h0M421.4 312.9h0M180.4 323.6h0M180.8 328.7h0M413.9 313.1h0M669.2 280.6h0M190.0 336.6h0M935.0 94.5h0M932.7 118.5h0M960.1 106.8h0M159.4 315.7h0M159.6 315.6h0M163.9 317.7h0M423.4 296.0h0M591.8 298.5h0M123.8 314.3h0M706.7 271.3h0M419.0 320.2h0M141.5 335.1h0M468.8 291.1h0M934.7 115.6h0M930.1 121.7h0M139.4 334.7h0M572.7 303.1h0M187.5 336.4h0M493.1 288.1h0M425.7 321.3h0M404.8 296.9h0M203.4 317.1h0M128.4 333.6h0M144.3 315.5h0M469.5 292.2h0M188.6 336.3h0M672.8 280.1h0M916.7 105.2h0M463.8 315.3h0M486.9 311.8h0M459.7 314.6h0M530.7 307.8h0M145.8 314.7h0M508.9 287.5h0M538.2 307.4h0M199.4 316.9h0M641.0 291.1h0M424.4 320.8h0M447.9 293.5h0M621.7 292.2h0M591.6 298.6h0M563.5 304.4h0M444.8 318.1h0M144.1 315.3h0M132.8 333.3h0M421.2 318.9h0M213.0 336.1h0M560.4 302.5h0M939.7 89.6h0M554.2 302.1h0M964.7 102.8h0M528.3 284.6h0M576.3 302.5h0M482.8 289.6h0M907.5 145.2h0M924.0 128.0h0M133.8 333.4h0M139.5 334.7h0M530.1 308.4h0M390.3 298.2h0M527.6 286.5h0M110.3 332.9h0M401.0 322.5h0M513.9 310.2h0M210.4 334.8h0M110.6 332.1h0M139.0 335.2h0M533.2 307.6h0" stroke="#f29a1e" stroke-width="3.4"/>
<path d="M183.1 319.3h0M80.2 314.8h0M105.2 313.4h0M490.8 293.8h0M171.7 316.3h0M133.5 331.8h0M149.6 326.0h0M176.1 318.2h0M152.6 329.9h0M149.7 329.6h0M901.3 120.6h0M152.2 333.4h0M188.5 324.9h0M177.4 318.0h0M907.0 121.5h0M893.7 139.7h0M126.5 331.0h0M403.5 321.5h0M687.9 266.7h0M171.1 316.5h0M183.0 316.4h0M170.7 334.9h0M183.2 317.1h0M652.9 285.0h0M390.6 298.2h0M673.6 281.0h0M160.1 315.3h0M122.4 334.3h0M181.0 315.7h0M102.2 312.9h0M120.4 313.4h0M81.0 311.5h0M931.9 118.3h0M83.1 313.0h0M117.7 332.6h0M134.0 313.6h0M186.2 336.4h0M119.4 333.3h0M508.4 288.1h0M180.2 317.7h0M113.4 312.0h0M172.3 315.9h0" stroke="#f2e01e" stroke-width="2.6"/>
<path d="M96.2 309.0h0M178.7 342.7h0M138.7 339.0h0" stroke="#f2e01e" stroke-width="3.0"/>
<path d="M464.5 300.8h0M389.7 303.7h0M406.2 297.3h0M87.0 322.5h0M516.2 301.3h0M134.1 324.5h0M418.1 308.8h0M118.0 327.1h0M104.0 313.6h0M101.6 314.0h0M667.2 281.1h0M78.4 313.4h0M180.5 317.6h0M100.5 332.9h0M133.9 313.5h0M79.0 312.6h0M671.8 280.1h0M119.7 332.6h0M650.7 288.9h0M181.2 316.8h0M83.7 311.8h0M446.4 315.2h0M651.2 289.1h0M917.1 137.8h0M79.7 312.5h0M131.1 332.5h0M82.5 311.5h0M100.4 312.9h0M119.6 314.0h0M400.5 324.4h0M521.2 285.9h0M113.4 314.2h0M535.5 306.5h0" stroke="#f2e01e" stroke-width="3.4"/>
<path d="M109.0 323.9h0M150.1 325.3h0M110.0 315.0h0M521.0 304.0h0M110.3 313.1h0M88.0 327.0h0M417.1 303.6h0M101.9 314.8h0M556.4 287.6h0M559.7 301.3h0M529.0 295.0h0M187.0 329.0h0M149.5 330.8h0M150.0 331.0h0M80.5 314.2h0M511.5 298.8h0M556.2 293.6h0M554.8 298.2h0M184.9 319.7h0M102.5 313.7h0M86.1 320.9h0M133.7 313.2h0M467.2 290.1h0M104.9 312.5h0M118.9 332.4h0M604.1 296.6h0M127.5 332.6h0M125.6 332.7h0M937.2 115.2h0M575.1 302.1h0M126.3 332.9h0M630.1 292.0h0M170.0 315.8h0M105.3 313.3h0M104.4 311.9h0M130.0 332.7h0M614.3 293.1h0M548.1 281.8h0M138.1 315.3h0M560.9 301.5h0M565.9 278.3h0M527.5 286.6h0M558.2 303.2h0M940.8 90.3h0M79.2 311.8h0" stroke="#f6c21e" stroke-width="2.6"/>
<path d="M140.4 306.2h0M593.6 304.9h0M95.4 306.1h0M113.7 303.3h0M109.0 337.7h0M482.0 280.3h0M107.7 336.0h0" stroke="#f6c21e" stroke-width="3.0"/>
<path d="M107.1 318.5h0M555.8 293.4h0M536.4 296.0h0M415.8 312.6h0M137.0 314.1h0M926.1 104.7h0M126.0 323.2h0M426.4 314.5h0M401.1 316.7h0M148.2 329.9h0M179.2 323.2h0M589.9 281.7h0M179.2 325.6h0M574.6 301.4h0M152.2 330.7h0M83.3 316.9h0M559.5 301.6h0M179.2 324.8h0M120.7 329.2h0M588.9 294.1h0M512.9 294.9h0M118.1 328.7h0M389.1 302.4h0M602.0 293.2h0M82.7 317.1h0M556.9 292.1h0M160.0 315.5h0M137.1 315.6h0M558.2 304.0h0M104.9 314.2h0M116.7 332.9h0M101.0 312.0h0M103.5 312.0h0M106.7 314.1h0M127.0 333.3h0M137.2 335.2h0M123.6 332.7h0M140.2 314.0h0M134.3 314.1h0M136.9 335.4h0M536.5 307.5h0M401.1 322.8h0M126.6 334.0h0M412.9 295.5h0M589.3 299.8h0M426.7 320.0h0M110.3 313.9h0M81.8 311.8h0M424.6 295.7h0M79.8 313.3h0M557.8 303.6h0M605.4 297.6h0M550.3 280.6h0" stroke="#f6c21e" stroke-width="3.4"/>
</g>
<path d="M92.0 157.8H108.0M100.0 150.0V165.6" stroke="#1a1a1a" stroke-width="1.6" fill="none"/>
<path d="M237.0 157.8H253.0M245.0 150.0V165.6" stroke="#1a1a1a" stroke-width="1.6" fill="none"/>
<path d="M382.0 157.8H398.0M390.0 150.0V165.6" stroke="#1a1a1a" stroke-width="1.6" fill="none"/>
<path d="M527.0 157.8H543.0M535.0 150.0V165.6" stroke="#1a1a1a" stroke-width="1.6" fill="none"/>
<path d="M672.0 157.8H688.0M680.0 150.0V165.6" stroke="#1a1a1a" stroke-width="1.6" fill="none"/>
<path d="M817.0 157.8H833.0M825.0 150.0V165.6" stroke="#1a1a1a" stroke-width="1.6" fill="none"/>
<path d="M962.0 157.8H978.0M970.0 150.0V165.6" stroke="#1a1a1a" stroke-width="1.6" fill="none"/>
<path d="M92.0 301.3H108.0M100.0 293.5V309.1" stroke="#1a1a1a" stroke-width="1.6" fill="none"/>
<path d="M237.0 301.3H253.0M245.0 293.5V309.1" stroke="#1a1a1a" stroke-width="1.6" fill="none"/>
<path d="M382.0 301.3H398.0M390.0 293.5V309.1" stroke="#1a1a1a" stroke-width="1.6" fill="none"/>
<path d="M527.0 301.3H543.0M535.0 293.5V309.1" stroke="#1a1a1a" stroke-width="1.6" fill="none"/>
<path d="M672.0 301.3H688.0M680.0 293.5V309.1" stroke="#1a1a1a" stroke-width="1.6" fill="none"/>
<path d="M817.0 301.3H833.0M825.0 293.5V309.1" stroke="#1a1a1a" stroke-width="1.6" fill="none"/>
<path d="M962.0 301.3H978.0M970.0 293.5V309.1" stroke="#1a1a1a" stroke-width="1.6" fill="none"/>
<line x1="53" y1="48" x2="1004" y2="48" stroke="#c8c8c8" stroke-width="1.8"/>
<line x1="53" y1="373.8" x2="1004" y2="373.8" stroke="#c8c8c8" stroke-width="1.8"/>
<line x1="100.0" y1="47.5" x2="100.0" y2="53.2" stroke="#151515" stroke-width="1.5"/>
<line x1="100.0" y1="368.6" x2="100.0" y2="374.2" stroke="#151515" stroke-width="1.5"/>
<text x="72.38" y="45.6" font-size="15.9" letter-spacing="0.45" font-weight="bold">646000</text>
<text x="72.38" y="389.3" font-size="15.9" letter-spacing="0.45" font-weight="bold">646000</text>
<line x1="245.0" y1="47.5" x2="245.0" y2="53.2" stroke="#151515" stroke-width="1.5"/>
<line x1="245.0" y1="368.6" x2="245.0" y2="374.2" stroke="#151515" stroke-width="1.5"/>
<text x="217.38" y="45.6" font-size="15.9" letter-spacing="0.45" font-weight="bold">647000</text>
<text x="217.38" y="389.3" font-size="15.9" letter-spacing="0.45" font-weight="bold">647000</text>
<line x1="390.0" y1="47.5" x2="390.0" y2="53.2" stroke="#151515" stroke-width="1.5"/>
<line x1="390.0" y1="368.6" x2="390.0" y2="374.2" stroke="#151515" stroke-width="1.5"/>
<text x="362.38" y="45.6" font-size="15.9" letter-spacing="0.45" font-weight="bold">648000</text>
<text x="362.38" y="389.3" font-size="15.9" letter-spacing="0.45" font-weight="bold">648000</text>
<line x1="535.0" y1="47.5" x2="535.0" y2="53.2" stroke="#151515" stroke-width="1.5"/>
<line x1="535.0" y1="368.6" x2="535.0" y2="374.2" stroke="#151515" stroke-width="1.5"/>
<text x="507.38" y="45.6" font-size="15.9" letter-spacing="0.45" font-weight="bold">649000</text>
<text x="507.38" y="389.3" font-size="15.9" letter-spacing="0.45" font-weight="bold">649000</text>
<line x1="680.0" y1="47.5" x2="680.0" y2="53.2" stroke="#151515" stroke-width="1.5"/>
<line x1="680.0" y1="368.6" x2="680.0" y2="374.2" stroke="#151515" stroke-width="1.5"/>
<text x="652.38" y="45.6" font-size="15.9" letter-spacing="0.45" font-weight="bold">650000</text>
<text x="652.38" y="389.3" font-size="15.9" letter-spacing="0.45" font-weight="bold">650000</text>
<line x1="825.0" y1="47.5" x2="825.0" y2="53.2" stroke="#151515" stroke-width="1.5"/>
<line x1="825.0" y1="368.6" x2="825.0" y2="374.2" stroke="#151515" stroke-width="1.5"/>
<text x="797.38" y="45.6" font-size="15.9" letter-spacing="0.45" font-weight="bold">651000</text>
<text x="797.38" y="389.3" font-size="15.9" letter-spacing="0.45" font-weight="bold">651000</text>
<line x1="970.0" y1="47.5" x2="970.0" y2="53.2" stroke="#151515" stroke-width="1.5"/>
<line x1="970.0" y1="368.6" x2="970.0" y2="374.2" stroke="#151515" stroke-width="1.5"/>
<text x="942.38" y="45.6" font-size="15.9" letter-spacing="0.45" font-weight="bold">652000</text>
<text x="942.38" y="389.3" font-size="15.9" letter-spacing="0.45" font-weight="bold">652000</text>
<text transform="translate(50.9 190.07) rotate(-90)" font-size="15.9" letter-spacing="0.45" font-weight="bold">6009000</text>
<text transform="translate(1006.8 125.53) rotate(90)" font-size="15.9" letter-spacing="0.45" font-weight="bold">6009000</text>
<text transform="translate(50.9 333.57) rotate(-90)" font-size="15.9" letter-spacing="0.45" font-weight="bold">6008000</text>
<text transform="translate(1006.8 269.03) rotate(90)" font-size="15.9" letter-spacing="0.45" font-weight="bold">6008000</text>
<line x1="54" y1="301.3" x2="58" y2="301.3" stroke="#d0d0d0" stroke-width="1"/>
<line x1="1000" y1="301.3" x2="1004" y2="301.3" stroke="#d0d0d0" stroke-width="1"/>
<text x="356.7" y="19.4" font-size="21.2" letter-spacing="0.85" font-weight="bold">Sea Surface Topography (Q240)</text>
<text x="435.2" y="415.2" font-size="21.1" letter-spacing="0.8" font-weight="bold">Easting (m)</text>
<text transform="translate(20.9 288.2) rotate(-90)" font-size="21.1" letter-spacing="0.8" font-weight="bold">Northing (m)</text>
<rect x="82.30" y="87.0" width="15.56" height="46.40" fill="#070b73"/>
<rect x="97.26" y="87.0" width="15.56" height="46.40" fill="#0a4d9c"/>
<rect x="112.22" y="87.0" width="15.56" height="46.40" fill="#0b53a8"/>
<rect x="127.18" y="87.0" width="15.56" height="46.40" fill="#0b62c6"/>
<rect x="142.15" y="87.0" width="15.56" height="46.40" fill="#1685dc"/>
<rect x="157.11" y="87.0" width="15.56" height="46.40" fill="#128ee6"/>
<rect x="172.07" y="87.0" width="15.56" height="46.40" fill="#0c96ee"/>
<rect x="187.03" y="87.0" width="15.56" height="46.40" fill="#1891c6"/>
<rect x="201.99" y="87.0" width="15.56" height="46.40" fill="#128fae"/>
<rect x="216.95" y="87.0" width="15.56" height="46.40" fill="#0a9860"/>
<rect x="231.92" y="87.0" width="15.56" height="46.40" fill="#0a9052"/>
<rect x="246.88" y="87.0" width="15.56" height="46.40" fill="#0e8b58"/>
<rect x="261.84" y="87.0" width="15.56" height="46.40" fill="#0a9518"/>
<rect x="276.80" y="87.0" width="15.56" height="46.40" fill="#4ea822"/>
<rect x="291.76" y="87.0" width="15.56" height="46.40" fill="#62ad20"/>
<rect x="306.72" y="87.0" width="15.56" height="46.40" fill="#74b21e"/>
<rect x="321.68" y="87.0" width="15.56" height="46.40" fill="#96bf1e"/>
<rect x="336.65" y="87.0" width="15.56" height="46.40" fill="#aec91e"/>
<rect x="351.61" y="87.0" width="15.56" height="46.40" fill="#d6df1e"/>
<rect x="366.57" y="87.0" width="15.56" height="46.40" fill="#fff21e"/>
<rect x="381.53" y="87.0" width="15.56" height="46.40" fill="#ffe01e"/>
<rect x="396.49" y="87.0" width="15.56" height="46.40" fill="#f8c81e"/>
<rect x="411.45" y="87.0" width="15.56" height="46.40" fill="#f5b21e"/>
<rect x="426.42" y="87.0" width="15.56" height="46.40" fill="#f4a91e"/>
<rect x="441.38" y="87.0" width="15.56" height="46.40" fill="#f0a01e"/>
<rect x="456.34" y="87.0" width="15.56" height="46.40" fill="#f0921e"/>
<rect x="471.30" y="87.0" width="15.56" height="46.40" fill="#ef8a1e"/>
<rect x="486.26" y="87.0" width="15.56" height="46.40" fill="#ea8018"/>
<rect x="501.22" y="87.0" width="15.56" height="46.40" fill="#ef7a18"/>
<rect x="516.18" y="87.0" width="15.56" height="46.40" fill="#ef7220"/>
<rect x="531.15" y="87.0" width="15.56" height="46.40" fill="#e65018"/>
<rect x="546.11" y="87.0" width="15.56" height="46.40" fill="#de2a16"/>
<rect x="561.07" y="87.0" width="15.56" height="46.40" fill="#d60410"/>
<rect x="576.03" y="87.0" width="15.56" height="46.40" fill="#d00818"/>
<rect x="590.99" y="87.0" width="15.56" height="46.40" fill="#d00048"/>
<rect x="605.95" y="87.0" width="15.56" height="46.40" fill="#cf0658"/>
<rect x="620.92" y="87.0" width="15.56" height="46.40" fill="#cf086c"/>
<rect x="635.88" y="87.0" width="15.56" height="46.40" fill="#ee6e98"/>
<rect x="650.84" y="87.0" width="15.56" height="46.40" fill="#f07aa2"/>
<line x1="97.26" y1="87.0" x2="97.26" y2="133.4" stroke="#111" stroke-width="1.3"/>
<line x1="142.15" y1="87.0" x2="142.15" y2="133.4" stroke="#111" stroke-width="1.3"/>
<line x1="187.03" y1="87.0" x2="187.03" y2="133.4" stroke="#111" stroke-width="1.3"/>
<line x1="231.92" y1="87.0" x2="231.92" y2="133.4" stroke="#111" stroke-width="1.3"/>
<line x1="276.80" y1="87.0" x2="276.80" y2="133.4" stroke="#111" stroke-width="1.3"/>
<line x1="321.68" y1="87.0" x2="321.68" y2="133.4" stroke="#111" stroke-width="1.3"/>
<line x1="366.57" y1="87.0" x2="366.57" y2="133.4" stroke="#111" stroke-width="1.3"/>
<line x1="411.45" y1="87.0" x2="411.45" y2="133.4" stroke="#111" stroke-width="1.3"/>
<line x1="456.34" y1="87.0" x2="456.34" y2="133.4" stroke="#111" stroke-width="1.3"/>
<line x1="501.22" y1="87.0" x2="501.22" y2="133.4" stroke="#111" stroke-width="1.3"/>
<line x1="546.11" y1="87.0" x2="546.11" y2="133.4" stroke="#111" stroke-width="1.3"/>
<line x1="590.99" y1="87.0" x2="590.99" y2="133.4" stroke="#111" stroke-width="1.3"/>
<line x1="635.88" y1="87.0" x2="635.88" y2="133.4" stroke="#111" stroke-width="1.3"/>
<rect x="82.3" y="87.0" width="583.50" height="46.40" fill="none" stroke="#222" stroke-width="1"/>
<text x="97.26" y="80.6" font-size="15.8" text-anchor="middle">-9.4</text>
<text x="142.15" y="80.6" font-size="15.8" text-anchor="middle">-9.0</text>
<text x="187.03" y="80.6" font-size="15.8" text-anchor="middle">-8.7</text>
<text x="231.92" y="80.6" font-size="15.8" text-anchor="middle">-8.5</text>
<text x="276.80" y="80.6" font-size="15.8" text-anchor="middle">-8.3</text>
<text x="321.68" y="80.6" font-size="15.8" text-anchor="middle">-8.1</text>
<text x="366.57" y="80.6" font-size="15.8" text-anchor="middle">-7.9</text>
<text x="411.45" y="80.6" font-size="15.8" text-anchor="middle">-7.7</text>
<text x="456.34" y="80.6" font-size="15.8" text-anchor="middle">-7.6</text>
<text x="501.22" y="80.6" font-size="15.8" text-anchor="middle">-7.4</text>
<text x="546.11" y="80.6" font-size="15.8" text-anchor="middle">-7.2</text>
<text x="590.99" y="80.6" font-size="15.8" text-anchor="middle">-7.0</text>
<text x="635.88" y="80.6" font-size="15.8" text-anchor="middle">-6.6</text>
<text x="660.6" y="78.8" font-size="16.6" letter-spacing="1">(m)</text>
</svg>
</body></html>
